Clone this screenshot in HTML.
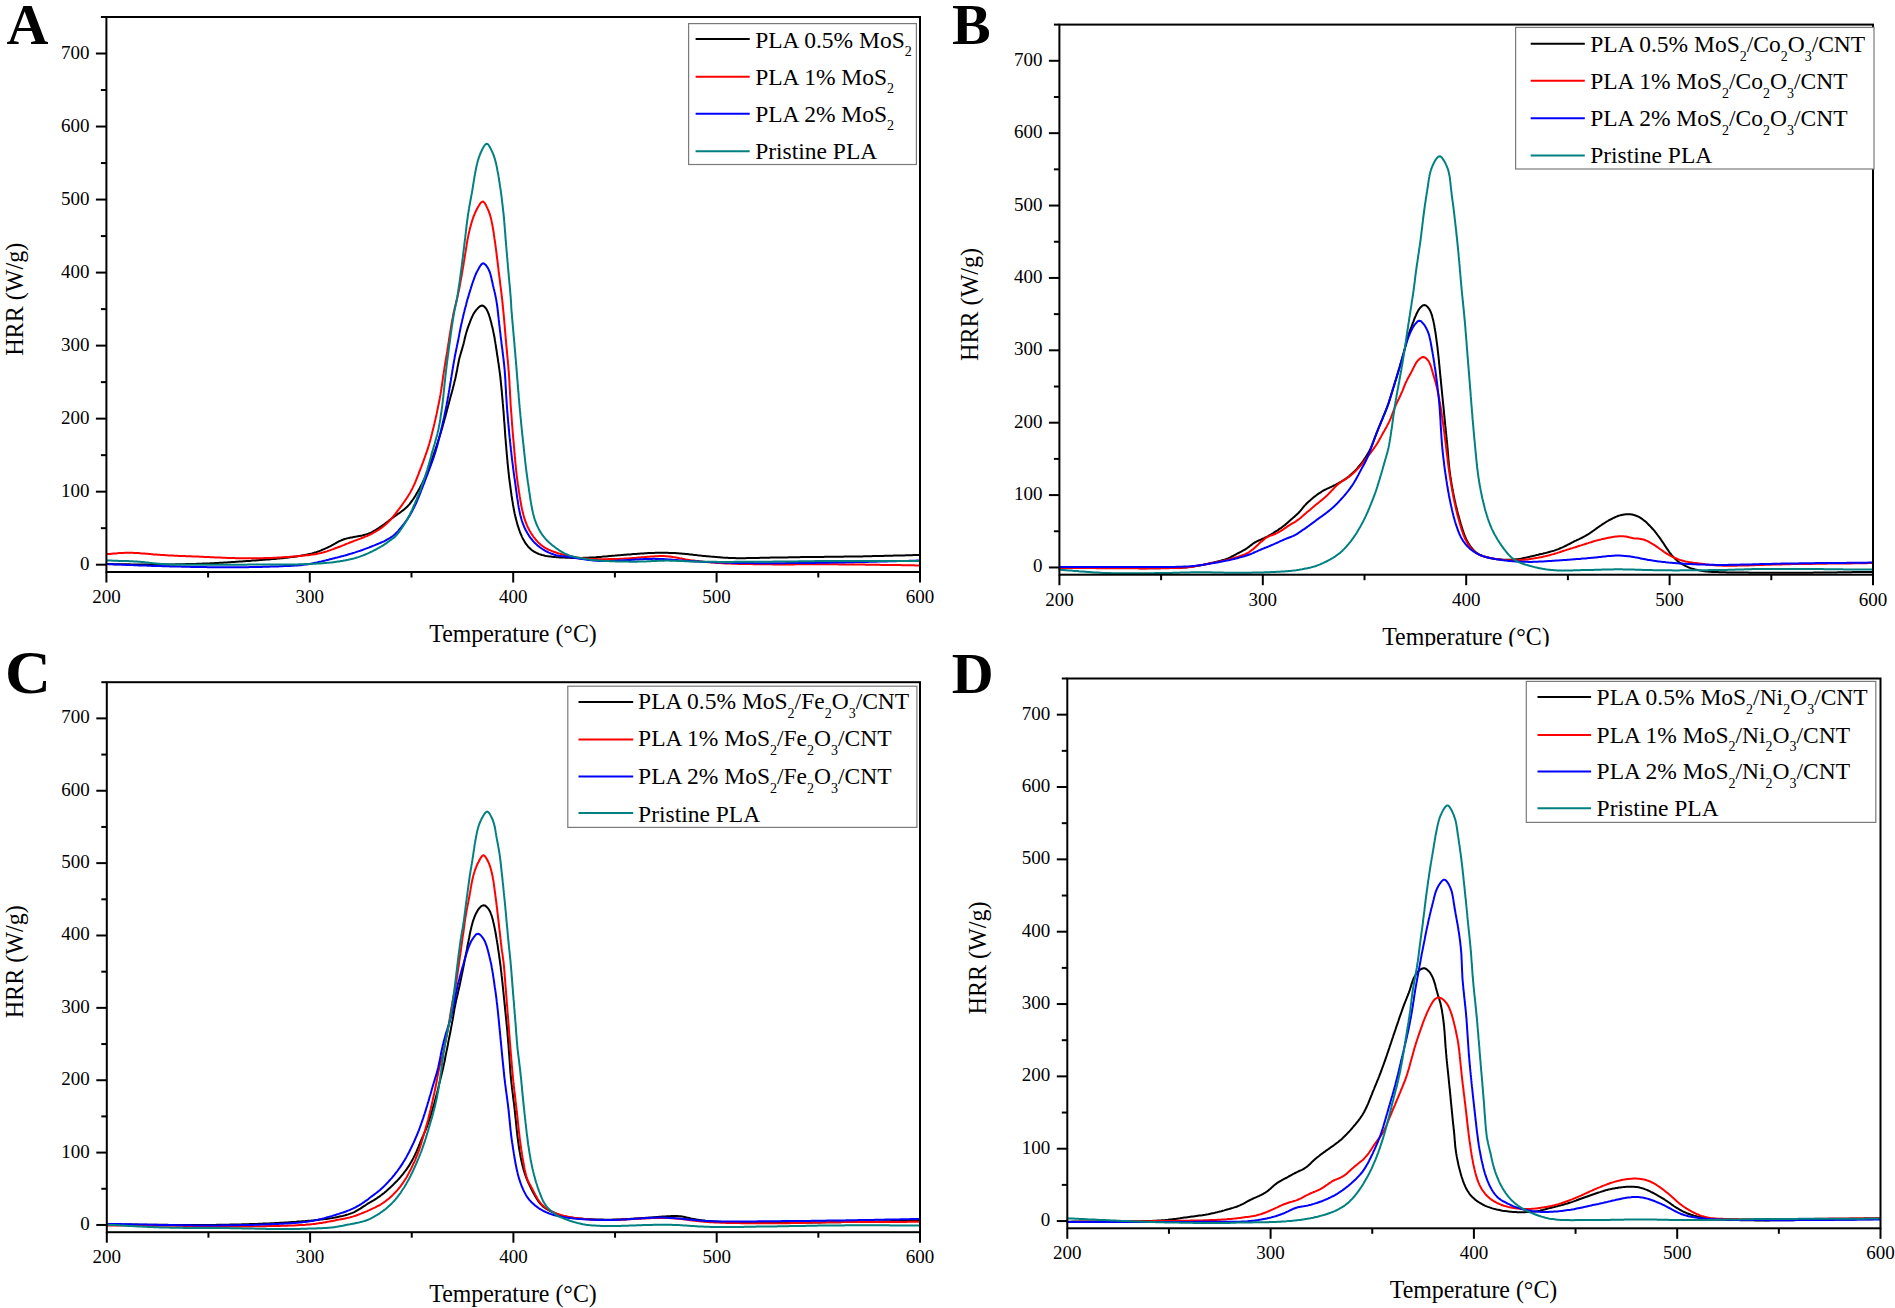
<!DOCTYPE html>
<html><head><meta charset="utf-8"><title>HRR curves</title>
<style>html,body{margin:0;padding:0;background:#fff;}svg{display:block;}</style></head><body>
<svg width="1895" height="1308" viewBox="0 0 1895 1308">
<rect width="1895" height="1308" fill="#fff"/>
<g fill="none" stroke-width="2" stroke-linejoin="round" stroke-linecap="round">
<path stroke="#000000" d="M107.1,564.1 108.6,564.1 110.1,564.1 111.6,564.1 113.1,564.2 114.6,564.2 116.1,564.2 117.6,564.2 119.1,564.2 120.6,564.2 122.1,564.3 123.6,564.3 125.1,564.3 126.6,564.3 128.1,564.3 129.6,564.3 131.1,564.4 132.6,564.4 134.1,564.4 135.6,564.4 137.1,564.4 138.6,564.4 140.1,564.5 141.6,564.5 143.1,564.5 144.6,564.5 146.1,564.5 147.6,564.5 149.1,564.5 150.6,564.5 152.1,564.5 153.6,564.5 155.1,564.5 156.6,564.5 158.1,564.5 159.6,564.5 161.1,564.5 162.6,564.5 164.1,564.5 165.6,564.5 167.1,564.5 168.6,564.4 170.1,564.4 171.6,564.4 173.1,564.4 174.6,564.4 176.1,564.3 177.6,564.3 179.1,564.3 180.6,564.3 182.1,564.2 183.6,564.2 185.1,564.2 186.6,564.1 188.1,564.1 189.6,564.0 191.1,564.0 192.6,564.0 194.1,563.9 195.6,563.9 197.1,563.8 198.6,563.8 200.1,563.7 201.6,563.7 203.1,563.6 204.6,563.6 206.1,563.5 207.6,563.4 209.1,563.4 210.6,563.3 212.1,563.2 213.6,563.2 215.1,563.1 216.6,563.0 218.1,562.9 219.6,562.8 221.1,562.8 222.6,562.7 224.1,562.6 225.6,562.5 227.1,562.4 228.6,562.3 230.1,562.2 231.6,562.1 233.1,562.0 234.6,561.9 236.1,561.8 237.6,561.7 239.1,561.6 240.6,561.5 242.1,561.4 243.5,561.3 245.0,561.2 246.5,561.1 248.0,561.0 249.5,560.9 251.0,560.8 252.5,560.6 254.0,560.5 255.5,560.4 257.0,560.3 258.5,560.2 260.0,560.1 261.5,560.0 263.0,559.8 264.5,559.7 266.0,559.6 267.5,559.5 269.0,559.4 270.5,559.3 272.0,559.1 273.5,559.0 275.0,558.9 276.5,558.8 277.9,558.6 279.4,558.5 280.9,558.3 282.4,558.2 283.9,558.0 285.4,557.8 286.9,557.7 288.4,557.5 289.9,557.3 291.4,557.1 292.8,556.9 294.3,556.7 295.8,556.5 297.3,556.3 298.8,556.0 300.3,555.8 301.7,555.5 303.2,555.3 304.7,555.0 306.2,554.7 307.6,554.4 309.1,554.1 310.6,553.7 312.0,553.4 313.5,553.0 314.9,552.5 316.3,552.1 317.7,551.6 319.2,551.1 320.6,550.6 321.9,550.0 323.3,549.4 324.7,548.8 326.1,548.2 327.4,547.6 328.8,546.9 330.1,546.3 331.4,545.6 332.8,544.8 334.1,544.1 335.4,543.4 336.7,542.6 338.0,541.9 339.3,541.2 340.7,540.6 342.0,540.0 343.4,539.5 344.8,539.0 346.3,538.6 347.7,538.3 349.2,537.9 350.6,537.6 352.1,537.4 353.6,537.1 355.1,536.8 356.5,536.6 358.0,536.3 359.5,536.0 361.0,535.7 362.4,535.4 363.9,535.0 365.3,534.6 366.8,534.2 368.2,533.7 369.5,533.2 370.9,532.6 372.3,531.9 373.6,531.2 374.9,530.5 376.2,529.7 377.4,528.9 378.7,528.1 379.9,527.2 381.2,526.4 382.4,525.5 383.6,524.7 384.8,523.8 386.0,522.9 387.2,522.0 388.4,521.1 389.6,520.1 390.8,519.2 392.0,518.3 393.2,517.4 394.4,516.5 395.6,515.6 396.8,514.8 398.0,513.9 399.3,513.1 400.5,512.2 401.7,511.3 402.9,510.4 404.1,509.5 405.2,508.5 406.3,507.5 407.4,506.5 408.4,505.4 409.4,504.3 410.3,503.1 411.2,501.9 412.1,500.7 412.9,499.5 413.8,498.2 414.6,496.9 415.4,495.7 416.1,494.4 416.9,493.1 417.7,491.8 418.4,490.5 419.1,489.2 419.8,487.9 420.5,486.5 421.2,485.2 421.9,483.9 422.6,482.5 423.2,481.2 423.8,479.8 424.5,478.4 425.1,477.1 425.7,475.7 426.2,474.3 426.8,472.9 427.4,471.5 427.9,470.1 428.5,468.7 429.0,467.3 429.6,465.9 430.1,464.5 430.6,463.1 431.1,461.7 431.6,460.3 432.1,458.9 432.6,457.5 433.1,456.1 433.6,454.6 434.1,453.2 434.6,451.8 435.1,450.4 435.5,449.0 436.0,447.5 436.5,446.1 436.9,444.7 437.4,443.3 437.9,441.8 438.3,440.4 438.8,439.0 439.2,437.5 439.7,436.1 440.1,434.7 440.6,433.2 441.0,431.8 441.4,430.4 441.9,428.9 442.3,427.5 442.7,426.1 443.1,424.6 443.5,423.2 443.9,421.7 444.3,420.3 444.7,418.8 445.1,417.4 445.5,415.9 445.9,414.5 446.3,413.0 446.7,411.6 447.0,410.1 447.4,408.7 447.8,407.2 448.2,405.8 448.6,404.3 449.0,402.9 449.3,401.4 449.7,400.0 450.1,398.5 450.5,397.1 450.9,395.6 451.3,394.2 451.7,392.7 452.1,391.3 452.5,389.8 452.9,388.4 453.2,386.9 453.6,385.5 454.0,384.0 454.3,382.6 454.7,381.1 455.0,379.7 455.4,378.2 455.7,376.7 456.0,375.3 456.3,373.8 456.6,372.3 456.9,370.8 457.2,369.4 457.4,367.9 457.7,366.4 458.0,365.0 458.3,363.5 458.6,362.0 458.9,360.5 459.2,359.1 459.6,357.6 460.0,356.2 460.4,354.7 460.8,353.3 461.2,351.9 461.7,350.4 462.1,349.0 462.5,347.6 462.9,346.1 463.3,344.7 463.7,343.2 464.0,341.8 464.4,340.3 464.7,338.8 465.0,337.4 465.4,335.9 465.8,334.5 466.2,333.0 466.6,331.6 467.1,330.2 467.5,328.7 468.0,327.3 468.5,325.9 469.0,324.5 469.6,323.1 470.1,321.7 470.6,320.3 471.2,318.9 471.8,317.5 472.4,316.2 473.0,314.8 473.8,313.5 474.5,312.3 475.4,311.1 476.3,309.9 477.3,308.8 478.3,307.7 479.4,306.7 480.7,305.9 482.1,305.5 483.5,306.0 484.7,307.0 485.7,308.1 486.5,309.3 487.2,310.6 487.8,311.9 488.4,313.3 488.9,314.7 489.3,316.1 489.8,317.5 490.2,319.0 490.6,320.4 491.0,321.9 491.4,323.3 491.7,324.8 492.1,326.2 492.5,327.7 492.8,329.1 493.1,330.6 493.4,332.1 493.7,333.5 494.0,335.0 494.3,336.5 494.6,338.0 494.8,339.5 495.0,340.9 495.3,342.4 495.5,343.9 495.8,345.4 496.0,346.9 496.2,348.3 496.4,349.8 496.7,351.3 496.9,352.8 497.1,354.3 497.3,355.8 497.6,357.2 497.8,358.7 498.0,360.2 498.2,361.7 498.5,363.2 498.7,364.7 498.9,366.1 499.1,367.6 499.3,369.1 499.5,370.6 499.7,372.1 499.9,373.6 500.1,375.1 500.3,376.6 500.4,378.0 500.6,379.5 500.7,381.0 500.9,382.5 501.0,384.0 501.2,385.5 501.3,387.0 501.5,388.5 501.6,390.0 501.8,391.5 501.9,393.0 502.0,394.5 502.2,396.0 502.3,397.5 502.4,399.0 502.6,400.4 502.7,401.9 502.8,403.4 503.0,404.9 503.1,406.4 503.2,407.9 503.3,409.4 503.5,410.9 503.6,412.4 503.7,413.9 503.8,415.4 503.9,416.9 504.0,418.4 504.1,419.9 504.2,421.4 504.4,422.9 504.5,424.4 504.6,425.9 504.7,427.4 504.8,428.9 504.9,430.4 505.0,431.9 505.1,433.4 505.2,434.9 505.3,436.3 505.4,437.8 505.6,439.3 505.7,440.8 505.8,442.3 505.9,443.8 506.1,445.3 506.2,446.8 506.3,448.3 506.4,449.8 506.6,451.3 506.7,452.8 506.8,454.3 507.0,455.8 507.1,457.3 507.2,458.8 507.4,460.3 507.5,461.8 507.6,463.3 507.8,464.7 507.9,466.2 508.1,467.7 508.2,469.2 508.4,470.7 508.5,472.2 508.7,473.7 508.9,475.2 509.0,476.7 509.2,478.2 509.4,479.7 509.6,481.2 509.8,482.6 510.0,484.1 510.2,485.6 510.4,487.1 510.6,488.6 510.8,490.1 511.0,491.6 511.2,493.0 511.4,494.5 511.6,496.0 511.9,497.5 512.1,499.0 512.3,500.5 512.6,501.9 512.8,503.4 513.0,504.9 513.3,506.4 513.6,507.9 513.8,509.3 514.1,510.8 514.4,512.3 514.7,513.7 515.1,515.2 515.4,516.7 515.7,518.1 516.1,519.6 516.5,521.0 516.9,522.5 517.3,523.9 517.7,525.4 518.2,526.8 518.6,528.2 519.1,529.6 519.6,531.0 520.1,532.5 520.7,533.8 521.3,535.2 521.9,536.6 522.5,537.9 523.2,539.3 524.0,540.6 524.7,541.9 525.5,543.1 526.4,544.3 527.3,545.5 528.2,546.7 529.3,547.8 530.3,548.8 531.4,549.8 532.6,550.7 533.8,551.5 535.1,552.2 536.4,552.9 537.8,553.5 539.2,554.1 540.6,554.5 542.0,555.0 543.5,555.3 544.9,555.7 546.4,556.0 547.9,556.2 549.4,556.4 550.8,556.6 552.3,556.8 553.8,556.9 555.3,557.1 556.8,557.2 558.3,557.3 559.8,557.4 561.3,557.4 562.8,557.5 564.3,557.6 565.8,557.7 567.3,557.7 568.8,557.8 570.3,557.8 571.8,557.9 573.3,557.9 574.8,557.9 576.3,557.9 577.8,557.9 579.3,557.9 580.8,557.9 582.3,557.9 583.8,557.8 585.3,557.8 586.8,557.7 588.3,557.7 589.8,557.6 591.3,557.5 592.8,557.5 594.3,557.4 595.8,557.3 597.3,557.1 598.8,557.0 600.3,556.9 601.8,556.8 603.3,556.6 604.8,556.5 606.2,556.4 607.7,556.2 609.2,556.1 610.7,556.0 612.2,555.8 613.7,555.7 615.2,555.6 616.7,555.4 618.2,555.3 619.7,555.2 621.2,555.1 622.7,554.9 624.2,554.8 625.7,554.7 627.2,554.6 628.7,554.5 630.2,554.4 631.7,554.2 633.2,554.1 634.7,554.0 636.1,553.9 637.6,553.8 639.1,553.7 640.6,553.6 642.1,553.5 643.6,553.4 645.1,553.3 646.6,553.2 648.1,553.1 649.6,553.0 651.1,553.0 652.6,552.9 654.1,552.9 655.6,552.8 657.1,552.8 658.6,552.8 660.1,552.8 661.6,552.7 663.1,552.7 664.6,552.8 666.1,552.8 667.6,552.8 669.1,552.9 670.6,552.9 672.1,553.0 673.6,553.0 675.1,553.1 676.6,553.2 678.1,553.3 679.6,553.4 681.1,553.5 682.6,553.7 684.1,553.8 685.6,554.0 687.1,554.1 688.6,554.3 690.0,554.5 691.5,554.6 693.0,554.8 694.5,555.0 696.0,555.1 697.5,555.3 699.0,555.4 700.5,555.6 702.0,555.7 703.5,555.9 705.0,556.0 706.5,556.2 708.0,556.3 709.5,556.4 710.9,556.6 712.4,556.7 713.9,556.8 715.4,557.0 716.9,557.1 718.4,557.2 719.9,557.3 721.4,557.4 722.9,557.6 724.4,557.7 725.9,557.7 727.4,557.8 728.9,557.9 730.4,558.0 731.9,558.0 733.4,558.1 734.9,558.1 736.4,558.2 737.9,558.2 739.4,558.2 740.9,558.2 742.4,558.2 743.9,558.2 745.4,558.2 746.9,558.1 748.4,558.1 749.9,558.1 751.4,558.0 752.9,558.0 754.4,558.0 755.9,557.9 757.4,557.9 758.9,557.9 760.4,557.8 761.9,557.8 763.4,557.8 764.9,557.7 766.4,557.7 767.9,557.7 769.4,557.7 770.9,557.6 772.4,557.6 773.9,557.6 775.4,557.6 776.9,557.5 778.4,557.5 779.9,557.5 781.4,557.5 782.9,557.4 784.4,557.4 785.9,557.4 787.4,557.4 788.9,557.3 790.4,557.3 791.9,557.3 793.4,557.3 794.9,557.2 796.4,557.2 797.9,557.2 799.4,557.2 800.9,557.1 802.4,557.1 803.9,557.1 805.4,557.1 806.9,557.0 808.4,557.0 809.9,557.0 811.4,557.0 812.9,557.0 814.4,557.0 815.9,556.9 817.4,556.9 818.9,556.9 820.4,556.9 821.9,556.9 823.4,556.9 824.9,556.8 826.4,556.8 827.9,556.8 829.4,556.8 830.9,556.8 832.4,556.8 833.9,556.8 835.4,556.7 836.9,556.7 838.4,556.7 839.9,556.7 841.4,556.7 842.9,556.7 844.4,556.6 845.9,556.6 847.4,556.6 848.9,556.6 850.4,556.6 851.9,556.5 853.4,556.5 854.9,556.5 856.4,556.5 857.9,556.4 859.4,556.4 860.9,556.4 862.4,556.4 863.9,556.3 865.4,556.3 866.9,556.3 868.4,556.2 869.9,556.2 871.4,556.2 872.9,556.1 874.4,556.1 875.9,556.1 877.4,556.0 878.9,556.0 880.4,555.9 881.9,555.9 883.4,555.9 884.9,555.8 886.4,555.8 887.9,555.8 889.4,555.7 890.9,555.7 892.4,555.7 893.9,555.6 895.4,555.6 896.9,555.5 898.4,555.5 899.9,555.5 901.4,555.4 902.9,555.4 904.4,555.4 905.9,555.3 907.4,555.3 908.9,555.2 910.4,555.2 911.9,555.2 913.4,555.1 914.9,555.1 916.4,555.1 917.9,555.0 918.9,555.0"/>
<path stroke="#ff0000" d="M107.1,554.1 108.6,554.0 110.1,553.9 111.6,553.7 113.1,553.6 114.6,553.5 116.1,553.4 117.6,553.2 119.1,553.1 120.6,553.0 122.1,552.9 123.6,552.9 125.1,552.8 126.6,552.8 128.0,552.8 129.5,552.8 131.0,552.8 132.5,552.8 134.0,552.9 135.5,553.0 137.0,553.1 138.5,553.1 140.0,553.2 141.5,553.4 143.0,553.5 144.5,553.6 146.0,553.7 147.5,553.8 149.0,554.0 150.5,554.1 152.0,554.2 153.5,554.4 155.0,554.5 156.5,554.6 158.0,554.7 159.5,554.8 161.0,554.9 162.5,555.0 164.0,555.1 165.5,555.2 167.0,555.3 168.5,555.4 170.0,555.4 171.5,555.5 173.0,555.6 174.4,555.7 175.9,555.7 177.4,555.8 178.9,555.9 180.4,555.9 181.9,556.0 183.4,556.0 184.9,556.1 186.4,556.2 187.9,556.2 189.4,556.3 190.9,556.3 192.4,556.4 193.9,556.5 195.4,556.5 196.9,556.6 198.4,556.6 199.9,556.7 201.4,556.8 202.9,556.8 204.4,556.9 205.9,557.0 207.4,557.1 208.9,557.1 210.4,557.2 211.9,557.3 213.4,557.3 214.9,557.4 216.4,557.5 217.9,557.5 219.4,557.6 220.9,557.6 222.4,557.7 223.9,557.8 225.4,557.8 226.9,557.9 228.4,557.9 229.9,558.0 231.4,558.0 232.9,558.1 234.4,558.1 235.9,558.2 237.4,558.2 238.9,558.2 240.4,558.3 241.9,558.3 243.4,558.3 244.9,558.3 246.4,558.3 247.9,558.3 249.4,558.3 250.9,558.3 252.4,558.3 253.9,558.3 255.4,558.3 256.9,558.3 258.4,558.3 259.9,558.2 261.4,558.2 262.9,558.2 264.4,558.1 265.9,558.1 267.4,558.1 268.9,558.0 270.4,557.9 271.9,557.9 273.4,557.8 274.9,557.7 276.4,557.7 277.9,557.6 279.4,557.5 280.9,557.4 282.4,557.3 283.9,557.2 285.4,557.1 286.9,557.0 288.4,556.9 289.9,556.8 291.4,556.7 292.9,556.6 294.4,556.5 295.9,556.4 297.3,556.2 298.8,556.1 300.3,555.9 301.8,555.8 303.3,555.6 304.8,555.5 306.3,555.3 307.8,555.2 309.3,555.0 310.8,554.8 312.3,554.6 313.7,554.4 315.2,554.2 316.7,553.9 318.2,553.6 319.6,553.3 321.1,553.0 322.6,552.6 324.0,552.2 325.4,551.8 326.9,551.4 328.3,550.9 329.7,550.4 331.1,549.9 332.5,549.4 333.9,548.8 335.3,548.3 336.7,547.8 338.1,547.2 339.5,546.7 340.9,546.2 342.3,545.6 343.7,545.1 345.1,544.5 346.5,543.9 347.9,543.4 349.3,542.8 350.7,542.3 352.1,541.7 353.5,541.2 354.9,540.6 356.3,540.1 357.7,539.6 359.1,539.1 360.5,538.6 361.9,538.0 363.3,537.5 364.7,536.9 366.1,536.4 367.5,535.8 368.8,535.1 370.2,534.5 371.5,533.8 372.8,533.1 374.1,532.4 375.4,531.6 376.7,530.9 378.0,530.1 379.3,529.3 380.5,528.5 381.7,527.6 383.0,526.7 384.1,525.8 385.3,524.8 386.4,523.8 387.5,522.8 388.5,521.8 389.6,520.7 390.6,519.6 391.6,518.4 392.5,517.3 393.5,516.1 394.4,515.0 395.4,513.8 396.3,512.6 397.2,511.4 398.1,510.2 399.0,509.0 399.9,507.8 400.8,506.6 401.7,505.4 402.5,504.2 403.4,503.0 404.3,501.7 405.1,500.5 406.0,499.2 406.8,498.0 407.6,496.7 408.4,495.5 409.2,494.2 410.0,492.9 410.7,491.6 411.4,490.3 412.1,489.0 412.8,487.6 413.4,486.3 414.1,484.9 414.7,483.5 415.3,482.2 415.8,480.8 416.4,479.4 417.0,478.0 417.5,476.6 418.1,475.2 418.6,473.8 419.1,472.4 419.7,471.0 420.2,469.6 420.7,468.2 421.3,466.8 421.8,465.4 422.3,464.0 422.9,462.6 423.4,461.2 423.9,459.8 424.4,458.4 424.9,457.0 425.4,455.5 425.9,454.1 426.4,452.7 426.9,451.3 427.4,449.9 427.9,448.4 428.3,447.0 428.7,445.6 429.2,444.1 429.6,442.7 430.0,441.3 430.4,439.8 430.8,438.4 431.1,436.9 431.5,435.5 431.9,434.0 432.2,432.5 432.6,431.1 433.0,429.6 433.3,428.2 433.7,426.7 434.0,425.3 434.4,423.8 434.7,422.3 435.0,420.9 435.4,419.4 435.7,417.9 436.0,416.5 436.4,415.0 436.7,413.6 437.0,412.1 437.3,410.6 437.6,409.2 437.9,407.7 438.2,406.2 438.5,404.7 438.8,403.3 439.1,401.8 439.4,400.3 439.7,398.9 439.9,397.4 440.2,395.9 440.5,394.4 440.7,392.9 441.0,391.5 441.2,390.0 441.4,388.5 441.6,387.0 441.9,385.5 442.1,384.0 442.3,382.6 442.5,381.1 442.7,379.6 442.9,378.1 443.1,376.6 443.3,375.1 443.6,373.7 443.8,372.2 444.0,370.7 444.3,369.2 444.5,367.7 444.7,366.2 445.0,364.8 445.2,363.3 445.5,361.8 445.7,360.3 446.0,358.8 446.2,357.4 446.4,355.9 446.7,354.4 446.9,352.9 447.2,351.4 447.4,350.0 447.6,348.5 447.9,347.0 448.1,345.5 448.3,344.0 448.6,342.5 448.8,341.1 449.0,339.6 449.2,338.1 449.5,336.6 449.7,335.1 449.9,333.7 450.2,332.2 450.4,330.7 450.7,329.2 450.9,327.7 451.2,326.3 451.4,324.8 451.7,323.3 451.9,321.8 452.2,320.3 452.5,318.9 452.8,317.4 453.0,315.9 453.3,314.5 453.6,313.0 453.9,311.5 454.3,310.0 454.6,308.6 454.9,307.1 455.3,305.7 455.7,304.2 456.0,302.8 456.4,301.3 456.8,299.8 457.1,298.4 457.5,296.9 457.8,295.5 458.1,294.0 458.4,292.5 458.8,291.1 459.1,289.6 459.3,288.1 459.6,286.7 459.9,285.2 460.2,283.7 460.4,282.2 460.7,280.8 461.0,279.3 461.2,277.8 461.5,276.3 461.8,274.9 462.0,273.4 462.3,271.9 462.5,270.4 462.8,268.9 463.0,267.5 463.3,266.0 463.5,264.5 463.7,263.0 464.0,261.5 464.2,260.1 464.5,258.6 464.7,257.1 464.9,255.6 465.2,254.1 465.4,252.6 465.7,251.2 465.9,249.7 466.1,248.2 466.4,246.7 466.6,245.2 466.8,243.8 467.1,242.3 467.3,240.8 467.6,239.3 467.9,237.9 468.2,236.4 468.5,234.9 468.8,233.4 469.1,232.0 469.5,230.5 469.8,229.1 470.2,227.6 470.6,226.2 471.0,224.7 471.4,223.3 471.8,221.8 472.3,220.4 472.7,219.0 473.2,217.6 473.7,216.2 474.3,214.8 474.9,213.4 475.5,212.0 476.1,210.7 476.8,209.3 477.5,208.0 478.2,206.7 479.0,205.5 479.7,204.2 480.6,203.0 481.7,201.9 483.1,201.6 484.3,202.5 485.1,203.8 485.9,205.1 486.5,206.4 487.2,207.7 487.8,209.1 488.4,210.4 488.9,211.8 489.4,213.2 489.9,214.6 490.3,216.1 490.7,217.5 491.1,219.0 491.4,220.4 491.7,221.9 492.0,223.4 492.3,224.8 492.6,226.3 492.8,227.8 493.1,229.3 493.3,230.8 493.6,232.2 493.8,233.7 494.0,235.2 494.2,236.7 494.4,238.2 494.7,239.7 494.9,241.1 495.1,242.6 495.3,244.1 495.5,245.6 495.7,247.1 495.9,248.6 496.1,250.1 496.3,251.6 496.5,253.0 496.6,254.5 496.8,256.0 497.0,257.5 497.2,259.0 497.4,260.5 497.6,262.0 497.7,263.5 497.9,265.0 498.1,266.4 498.3,267.9 498.5,269.4 498.6,270.9 498.8,272.4 499.0,273.9 499.2,275.4 499.4,276.9 499.6,278.3 499.8,279.8 500.0,281.3 500.1,282.8 500.3,284.3 500.5,285.8 500.7,287.3 500.9,288.8 501.1,290.3 501.2,291.7 501.4,293.2 501.6,294.7 501.7,296.2 501.9,297.7 502.1,299.2 502.3,300.7 502.4,302.2 502.6,303.7 502.7,305.2 502.9,306.7 503.0,308.2 503.2,309.6 503.3,311.1 503.5,312.6 503.6,314.1 503.8,315.6 503.9,317.1 504.0,318.6 504.2,320.1 504.3,321.6 504.4,323.1 504.6,324.6 504.7,326.1 504.8,327.6 504.9,329.1 505.1,330.6 505.2,332.1 505.3,333.6 505.4,335.0 505.6,336.5 505.7,338.0 505.8,339.5 506.0,341.0 506.1,342.5 506.2,344.0 506.4,345.5 506.5,347.0 506.6,348.5 506.8,350.0 506.9,351.5 507.1,353.0 507.2,354.5 507.3,356.0 507.5,357.5 507.6,358.9 507.8,360.4 507.9,361.9 508.0,363.4 508.2,364.9 508.3,366.4 508.4,367.9 508.5,369.4 508.7,370.9 508.8,372.4 508.9,373.9 509.0,375.4 509.1,376.9 509.2,378.4 509.3,379.9 509.4,381.4 509.5,382.9 509.5,384.4 509.6,385.9 509.7,387.4 509.8,388.9 509.9,390.4 510.0,391.9 510.0,393.4 510.1,394.9 510.2,396.4 510.3,397.9 510.4,399.4 510.5,400.9 510.5,402.4 510.6,403.8 510.7,405.3 510.8,406.8 510.9,408.3 511.0,409.8 511.1,411.3 511.3,412.8 511.4,414.3 511.5,415.8 511.6,417.3 511.7,418.8 511.8,420.3 511.9,421.8 512.0,423.3 512.1,424.8 512.3,426.3 512.4,427.8 512.5,429.3 512.6,430.8 512.7,432.3 512.9,433.8 513.0,435.3 513.1,436.8 513.2,438.3 513.4,439.7 513.5,441.2 513.6,442.7 513.8,444.2 513.9,445.7 514.0,447.2 514.2,448.7 514.3,450.2 514.4,451.7 514.5,453.2 514.7,454.7 514.8,456.2 514.9,457.7 515.1,459.2 515.2,460.7 515.3,462.2 515.5,463.7 515.6,465.2 515.8,466.6 515.9,468.1 516.1,469.6 516.2,471.1 516.4,472.6 516.6,474.1 516.7,475.6 516.9,477.1 517.1,478.6 517.3,480.1 517.5,481.5 517.7,483.0 517.9,484.5 518.2,486.0 518.4,487.5 518.6,489.0 518.8,490.5 519.0,491.9 519.3,493.4 519.5,494.9 519.7,496.4 520.0,497.9 520.2,499.3 520.4,500.8 520.7,502.3 521.0,503.8 521.2,505.3 521.5,506.7 521.8,508.2 522.1,509.7 522.5,511.1 522.8,512.6 523.2,514.0 523.6,515.5 524.0,516.9 524.4,518.4 524.9,519.8 525.4,521.2 525.9,522.6 526.4,524.0 527.0,525.4 527.6,526.7 528.3,528.1 528.9,529.4 529.6,530.8 530.4,532.1 531.1,533.3 532.0,534.6 532.8,535.8 533.7,537.1 534.6,538.2 535.5,539.4 536.5,540.5 537.5,541.6 538.6,542.7 539.7,543.7 540.8,544.7 542.0,545.6 543.2,546.5 544.4,547.3 545.7,548.1 547.0,548.8 548.3,549.5 549.7,550.1 551.0,550.7 552.4,551.3 553.8,551.8 555.3,552.3 556.7,552.8 558.1,553.2 559.5,553.6 561.0,554.0 562.4,554.4 563.9,554.8 565.3,555.2 566.8,555.5 568.3,555.9 569.7,556.2 571.2,556.5 572.7,556.8 574.1,557.0 575.6,557.3 577.1,557.5 578.6,557.7 580.1,557.9 581.6,558.1 583.1,558.3 584.5,558.4 586.0,558.5 587.5,558.7 589.0,558.8 590.5,558.9 592.0,559.0 593.5,559.0 595.0,559.1 596.5,559.1 598.0,559.2 599.5,559.2 601.0,559.2 602.5,559.2 604.0,559.2 605.5,559.2 607.0,559.2 608.5,559.1 610.0,559.1 611.5,559.1 613.0,559.0 614.5,559.0 616.0,559.0 617.5,558.9 619.0,558.9 620.5,558.8 622.0,558.8 623.5,558.7 625.0,558.6 626.5,558.5 628.0,558.5 629.5,558.3 631.0,558.2 632.5,558.1 634.0,558.0 635.5,557.9 637.0,557.7 638.5,557.6 640.0,557.5 641.5,557.3 643.0,557.2 644.5,557.1 645.9,556.9 647.4,556.8 648.9,556.7 650.4,556.6 651.9,556.5 653.4,556.4 654.9,556.3 656.4,556.2 657.9,556.2 659.4,556.1 660.9,556.1 662.4,556.1 663.9,556.1 665.4,556.2 666.9,556.3 668.4,556.4 669.9,556.5 671.4,556.7 672.9,557.0 674.3,557.2 675.8,557.5 677.3,557.8 678.7,558.1 680.2,558.4 681.7,558.6 683.2,558.9 684.6,559.2 686.1,559.5 687.6,559.7 689.1,559.9 690.6,560.2 692.0,560.4 693.5,560.5 695.0,560.7 696.5,560.9 698.0,561.1 699.5,561.3 701.0,561.4 702.5,561.6 704.0,561.7 705.5,561.9 707.0,562.0 708.4,562.2 709.9,562.3 711.4,562.4 712.9,562.6 714.4,562.7 715.9,562.8 717.4,562.9 718.9,563.0 720.4,563.1 721.9,563.2 723.4,563.3 724.9,563.4 726.4,563.4 727.9,563.5 729.4,563.6 730.9,563.6 732.4,563.7 733.9,563.8 735.4,563.8 736.9,563.8 738.4,563.9 739.9,563.9 741.4,564.0 742.9,564.0 744.4,564.0 745.9,564.0 747.4,564.1 748.9,564.1 750.4,564.1 751.9,564.1 753.4,564.2 754.9,564.2 756.4,564.2 757.9,564.2 759.4,564.2 760.9,564.2 762.4,564.3 763.9,564.3 765.4,564.3 766.9,564.3 768.4,564.3 769.9,564.3 771.4,564.3 772.9,564.4 774.4,564.4 775.9,564.4 777.4,564.4 778.9,564.4 780.4,564.4 781.9,564.4 783.4,564.4 784.9,564.4 786.4,564.4 787.9,564.4 789.4,564.4 790.9,564.4 792.4,564.4 793.9,564.4 795.4,564.3 796.9,564.3 798.4,564.3 799.9,564.3 801.4,564.3 802.9,564.3 804.4,564.3 805.9,564.3 807.4,564.3 808.9,564.3 810.4,564.3 811.9,564.3 813.4,564.3 814.9,564.3 816.4,564.3 817.9,564.3 819.4,564.3 820.9,564.3 822.4,564.3 823.9,564.3 825.4,564.3 826.9,564.3 828.4,564.3 829.9,564.3 831.4,564.3 832.9,564.3 834.4,564.3 835.9,564.3 837.4,564.3 838.9,564.4 840.4,564.4 841.9,564.4 843.4,564.4 844.9,564.4 846.4,564.4 847.9,564.4 849.4,564.5 850.9,564.5 852.4,564.5 853.9,564.5 855.4,564.5 856.9,564.5 858.4,564.6 859.9,564.6 861.4,564.6 862.9,564.6 864.4,564.6 865.9,564.7 867.4,564.7 868.9,564.7 870.4,564.7 871.9,564.7 873.4,564.8 874.9,564.8 876.4,564.8 877.9,564.8 879.4,564.8 880.9,564.9 882.4,564.9 883.9,564.9 885.4,564.9 886.9,564.9 888.4,565.0 889.9,565.0 891.4,565.0 892.9,565.0 894.4,565.1 895.9,565.1 897.4,565.1 898.9,565.1 900.4,565.1 901.9,565.2 903.4,565.2 904.9,565.2 906.4,565.2 907.9,565.3 909.4,565.3 910.9,565.3 912.4,565.3 913.9,565.3 915.4,565.4 916.9,565.4 918.4,565.4 918.9,565.4"/>
<path stroke="#0000ff" d="M107.1,564.1 108.6,564.2 110.1,564.2 111.6,564.3 113.1,564.3 114.6,564.4 116.1,564.5 117.6,564.5 119.1,564.6 120.6,564.6 122.1,564.7 123.6,564.8 125.1,564.8 126.6,564.9 128.1,564.9 129.6,565.0 131.1,565.1 132.6,565.1 134.1,565.2 135.6,565.2 137.1,565.3 138.6,565.4 140.1,565.4 141.6,565.5 143.1,565.5 144.6,565.6 146.1,565.6 147.6,565.7 149.1,565.7 150.6,565.8 152.1,565.9 153.6,565.9 155.1,565.9 156.6,566.0 158.1,566.0 159.6,566.1 161.1,566.1 162.6,566.2 164.1,566.2 165.6,566.3 167.1,566.3 168.6,566.3 170.1,566.4 171.6,566.4 173.1,566.5 174.6,566.5 176.1,566.5 177.6,566.6 179.1,566.6 180.6,566.6 182.1,566.7 183.6,566.7 185.1,566.7 186.6,566.8 188.1,566.8 189.6,566.8 191.1,566.9 192.6,566.9 194.1,566.9 195.6,567.0 197.1,567.0 198.6,567.0 200.1,567.0 201.6,567.1 203.1,567.1 204.6,567.1 206.1,567.1 207.6,567.2 209.1,567.2 210.6,567.2 212.1,567.2 213.6,567.2 215.1,567.2 216.6,567.3 218.1,567.3 219.6,567.3 221.1,567.3 222.6,567.3 224.1,567.3 225.6,567.3 227.1,567.3 228.6,567.3 230.1,567.3 231.6,567.3 233.1,567.3 234.6,567.3 236.1,567.3 237.6,567.3 239.1,567.2 240.6,567.2 242.1,567.2 243.6,567.2 245.1,567.2 246.6,567.2 248.1,567.2 249.6,567.1 251.1,567.1 252.6,567.1 254.1,567.1 255.6,567.0 257.1,567.0 258.6,567.0 260.1,566.9 261.6,566.9 263.1,566.8 264.6,566.8 266.1,566.8 267.6,566.7 269.1,566.7 270.6,566.6 272.1,566.6 273.6,566.5 275.1,566.5 276.6,566.4 278.1,566.4 279.6,566.3 281.1,566.3 282.6,566.2 284.1,566.1 285.6,566.1 287.1,566.0 288.6,566.0 290.1,565.9 291.6,565.8 293.1,565.7 294.6,565.6 296.1,565.5 297.6,565.4 299.1,565.3 300.6,565.2 302.1,565.0 303.5,564.8 305.0,564.6 306.5,564.4 308.0,564.2 309.5,564.0 311.0,563.7 312.4,563.4 313.9,563.1 315.4,562.8 316.8,562.5 318.3,562.1 319.8,561.8 321.2,561.5 322.7,561.1 324.1,560.7 325.6,560.4 327.0,560.0 328.5,559.7 329.9,559.3 331.4,558.9 332.9,558.6 334.3,558.2 335.8,557.8 337.2,557.5 338.7,557.1 340.1,556.7 341.6,556.3 343.0,556.0 344.5,555.6 345.9,555.2 347.4,554.8 348.8,554.3 350.2,553.9 351.7,553.5 353.1,553.0 354.5,552.6 356.0,552.1 357.4,551.6 358.8,551.1 360.2,550.7 361.7,550.2 363.1,549.7 364.5,549.1 365.9,548.6 367.3,548.1 368.7,547.6 370.1,547.0 371.5,546.5 372.9,545.9 374.3,545.4 375.7,544.8 377.1,544.2 378.4,543.7 379.8,543.1 381.2,542.5 382.6,541.9 383.9,541.3 385.3,540.6 386.6,539.9 387.9,539.2 389.2,538.5 390.5,537.7 391.7,536.9 392.9,536.0 394.1,535.0 395.2,534.0 396.2,533.0 397.3,531.9 398.3,530.8 399.2,529.6 400.2,528.5 401.2,527.3 402.1,526.2 403.1,525.0 404.0,523.8 404.9,522.6 405.8,521.4 406.6,520.2 407.5,519.0 408.3,517.7 409.1,516.4 409.9,515.2 410.6,513.9 411.4,512.6 412.1,511.2 412.8,509.9 413.5,508.6 414.1,507.2 414.8,505.9 415.4,504.5 416.1,503.2 416.7,501.8 417.3,500.4 417.8,499.0 418.4,497.6 419.0,496.3 419.5,494.9 420.1,493.5 420.6,492.1 421.1,490.7 421.7,489.3 422.2,487.9 422.8,486.5 423.3,485.1 423.9,483.7 424.4,482.3 424.9,480.9 425.5,479.5 426.0,478.1 426.5,476.7 427.1,475.3 427.6,473.9 428.1,472.5 428.7,471.0 429.2,469.6 429.7,468.2 430.2,466.8 430.8,465.4 431.3,464.0 431.8,462.6 432.3,461.2 432.8,459.8 433.3,458.4 433.8,456.9 434.2,455.5 434.7,454.1 435.2,452.7 435.6,451.2 436.0,449.8 436.4,448.3 436.9,446.9 437.3,445.5 437.6,444.0 438.0,442.6 438.4,441.1 438.8,439.6 439.1,438.2 439.5,436.7 439.9,435.3 440.2,433.8 440.6,432.4 440.9,430.9 441.3,429.4 441.6,428.0 442.0,426.5 442.3,425.1 442.6,423.6 443.0,422.1 443.3,420.7 443.6,419.2 444.0,417.7 444.3,416.3 444.6,414.8 444.9,413.3 445.2,411.9 445.5,410.4 445.8,408.9 446.1,407.5 446.4,406.0 446.7,404.5 446.9,403.0 447.2,401.6 447.5,400.1 447.7,398.6 448.0,397.1 448.3,395.7 448.5,394.2 448.8,392.7 449.0,391.2 449.3,389.7 449.5,388.3 449.8,386.8 450.0,385.3 450.3,383.8 450.5,382.3 450.8,380.9 451.0,379.4 451.2,377.9 451.5,376.4 451.7,374.9 452.0,373.5 452.2,372.0 452.4,370.5 452.7,369.0 452.9,367.5 453.2,366.1 453.4,364.6 453.7,363.1 453.9,361.6 454.2,360.1 454.5,358.7 454.7,357.2 455.0,355.7 455.3,354.2 455.6,352.8 455.9,351.3 456.2,349.8 456.5,348.4 456.8,346.9 457.1,345.4 457.4,344.0 457.7,342.5 458.0,341.0 458.3,339.5 458.6,338.1 458.9,336.6 459.2,335.1 459.4,333.6 459.7,332.2 460.0,330.7 460.3,329.2 460.6,327.8 460.9,326.3 461.2,324.8 461.5,323.4 461.9,321.9 462.2,320.4 462.5,319.0 462.9,317.5 463.2,316.0 463.6,314.6 463.9,313.1 464.3,311.7 464.6,310.2 465.0,308.8 465.4,307.3 465.8,305.9 466.2,304.4 466.5,303.0 466.9,301.5 467.3,300.1 467.7,298.6 468.2,297.2 468.6,295.7 469.0,294.3 469.4,292.9 469.9,291.4 470.3,290.0 470.8,288.6 471.2,287.1 471.7,285.7 472.1,284.3 472.6,282.8 473.1,281.4 473.6,280.0 474.1,278.6 474.6,277.2 475.1,275.8 475.7,274.4 476.3,273.0 477.0,271.7 477.7,270.4 478.4,269.1 479.1,267.8 479.9,266.5 480.7,265.3 481.6,264.1 482.9,263.3 484.3,263.7 485.5,264.7 486.4,265.9 487.3,267.1 488.0,268.3 488.7,269.6 489.3,271.0 489.9,272.4 490.3,273.8 490.7,275.2 491.1,276.7 491.4,278.1 491.7,279.6 492.0,281.1 492.4,282.5 492.7,284.0 493.0,285.5 493.4,286.9 493.7,288.4 494.1,289.8 494.4,291.3 494.8,292.8 495.1,294.2 495.4,295.7 495.7,297.1 496.0,298.6 496.3,300.1 496.5,301.6 496.8,303.1 497.0,304.5 497.2,306.0 497.4,307.5 497.6,309.0 497.7,310.5 497.9,312.0 498.1,313.5 498.2,315.0 498.4,316.5 498.6,317.9 498.7,319.4 498.9,320.9 499.1,322.4 499.2,323.9 499.4,325.4 499.6,326.9 499.8,328.4 499.9,329.9 500.1,331.4 500.3,332.9 500.5,334.3 500.6,335.8 500.8,337.3 501.0,338.8 501.2,340.3 501.4,341.8 501.5,343.3 501.7,344.8 501.9,346.3 502.1,347.7 502.3,349.2 502.5,350.7 502.6,352.2 502.8,353.7 503.0,355.2 503.2,356.7 503.4,358.2 503.6,359.7 503.7,361.2 503.9,362.6 504.1,364.1 504.2,365.6 504.4,367.1 504.5,368.6 504.7,370.1 504.8,371.6 504.9,373.1 505.0,374.6 505.1,376.1 505.2,377.6 505.3,379.1 505.4,380.6 505.5,382.1 505.5,383.6 505.6,385.1 505.7,386.6 505.8,388.1 505.9,389.6 506.0,391.1 506.0,392.6 506.1,394.1 506.2,395.6 506.3,397.1 506.4,398.6 506.5,400.1 506.6,401.6 506.7,403.1 506.8,404.6 506.9,406.0 507.0,407.5 507.1,409.0 507.2,410.5 507.3,412.0 507.5,413.5 507.6,415.0 507.7,416.5 507.8,418.0 508.0,419.5 508.1,421.0 508.2,422.5 508.4,424.0 508.5,425.5 508.6,427.0 508.8,428.5 508.9,430.0 509.1,431.5 509.2,433.0 509.3,434.5 509.5,435.9 509.6,437.4 509.8,438.9 510.0,440.4 510.1,441.9 510.3,443.4 510.4,444.9 510.6,446.4 510.8,447.9 510.9,449.4 511.1,450.9 511.3,452.4 511.4,453.8 511.6,455.3 511.8,456.8 511.9,458.3 512.1,459.8 512.3,461.3 512.5,462.8 512.7,464.3 512.9,465.8 513.0,467.3 513.2,468.7 513.4,470.2 513.6,471.7 513.8,473.2 514.0,474.7 514.2,476.2 514.4,477.7 514.7,479.1 514.9,480.6 515.1,482.1 515.3,483.6 515.5,485.1 515.7,486.6 515.9,488.1 516.1,489.5 516.3,491.0 516.5,492.5 516.7,494.0 516.9,495.5 517.1,497.0 517.3,498.5 517.6,500.0 517.8,501.4 518.0,502.9 518.2,504.4 518.5,505.9 518.7,507.4 519.0,508.8 519.3,510.3 519.6,511.8 519.9,513.2 520.2,514.7 520.6,516.2 521.0,517.6 521.4,519.1 521.8,520.5 522.3,521.9 522.8,523.3 523.3,524.7 523.9,526.1 524.5,527.5 525.1,528.8 525.8,530.2 526.5,531.5 527.2,532.8 528.0,534.1 528.8,535.4 529.6,536.6 530.5,537.8 531.4,539.0 532.4,540.2 533.3,541.3 534.3,542.4 535.4,543.4 536.5,544.5 537.6,545.5 538.8,546.4 539.9,547.3 541.2,548.2 542.4,549.0 543.7,549.8 544.9,550.6 546.3,551.3 547.6,552.0 548.9,552.6 550.3,553.2 551.7,553.8 553.1,554.3 554.5,554.8 556.0,555.2 557.4,555.5 558.9,555.8 560.4,556.0 561.8,556.2 563.3,556.3 564.8,556.5 566.3,556.7 567.8,556.8 569.3,557.0 570.8,557.2 572.3,557.5 573.7,557.7 575.2,557.9 576.7,558.2 578.2,558.4 579.7,558.7 581.1,558.9 582.6,559.1 584.1,559.3 585.6,559.5 587.1,559.7 588.6,559.9 590.1,560.1 591.5,560.3 593.0,560.4 594.5,560.6 596.0,560.7 597.5,560.8 599.0,560.9 600.5,561.0 602.0,561.0 603.5,561.0 605.0,561.1 606.5,561.1 608.0,561.0 609.5,561.0 611.0,561.0 612.5,560.9 614.0,560.9 615.5,560.8 617.0,560.7 618.5,560.6 620.0,560.6 621.5,560.5 623.0,560.4 624.5,560.3 626.0,560.2 627.5,560.1 629.0,560.0 630.5,559.9 632.0,559.8 633.5,559.7 635.0,559.6 636.5,559.5 638.0,559.4 639.5,559.3 641.0,559.2 642.5,559.2 644.0,559.1 645.5,559.0 647.0,559.0 648.5,558.9 650.0,558.9 651.5,558.9 653.0,558.8 654.5,558.8 656.0,558.9 657.5,558.9 659.0,558.9 660.5,559.0 662.0,559.1 663.5,559.1 665.0,559.2 666.5,559.3 668.0,559.4 669.5,559.5 670.9,559.6 672.4,559.7 673.9,559.9 675.4,560.0 676.9,560.1 678.4,560.2 679.9,560.4 681.4,560.5 682.9,560.6 684.4,560.7 685.9,560.8 687.4,560.9 688.9,561.0 690.4,561.1 691.9,561.2 693.4,561.3 694.9,561.4 696.4,561.5 697.9,561.5 699.4,561.6 700.9,561.7 702.4,561.8 703.9,561.9 705.4,561.9 706.9,562.0 708.4,562.1 709.9,562.1 711.4,562.2 712.9,562.3 714.4,562.3 715.9,562.4 717.4,562.4 718.9,562.5 720.4,562.6 721.9,562.6 723.4,562.6 724.9,562.7 726.4,562.7 727.9,562.8 729.4,562.8 730.9,562.8 732.4,562.9 733.9,562.9 735.4,562.9 736.9,563.0 738.4,563.0 739.9,563.0 741.4,563.0 742.9,563.0 744.4,563.1 745.9,563.1 747.4,563.1 748.9,563.1 750.4,563.1 751.9,563.1 753.4,563.1 754.9,563.2 756.4,563.2 757.9,563.2 759.4,563.2 760.9,563.2 762.4,563.2 763.9,563.2 765.4,563.2 766.9,563.2 768.4,563.2 769.9,563.2 771.4,563.2 772.9,563.2 774.4,563.2 775.9,563.2 777.4,563.2 778.9,563.2 780.4,563.2 781.9,563.2 783.4,563.2 784.9,563.2 786.4,563.1 787.9,563.1 789.4,563.1 790.9,563.1 792.4,563.1 793.9,563.1 795.4,563.1 796.9,563.1 798.4,563.1 799.9,563.0 801.4,563.0 802.9,563.0 804.4,563.0 805.9,563.0 807.4,563.0 808.9,562.9 810.4,562.9 811.9,562.9 813.4,562.9 814.9,562.9 816.4,562.8 817.9,562.8 819.4,562.8 820.9,562.8 822.4,562.8 823.9,562.7 825.4,562.7 826.9,562.7 828.4,562.7 829.9,562.6 831.4,562.6 832.9,562.6 834.4,562.6 835.9,562.5 837.4,562.5 838.9,562.5 840.4,562.5 841.9,562.4 843.4,562.4 844.9,562.4 846.4,562.3 847.9,562.3 849.4,562.3 850.9,562.2 852.4,562.2 853.9,562.2 855.4,562.1 856.9,562.1 858.4,562.1 859.9,562.0 861.4,562.0 862.9,562.0 864.4,561.9 865.9,561.9 867.4,561.9 868.9,561.8 870.4,561.8 871.9,561.8 873.4,561.7 874.9,561.7 876.4,561.7 877.9,561.6 879.4,561.6 880.9,561.5 882.4,561.5 883.9,561.5 885.4,561.4 886.9,561.4 888.4,561.3 889.9,561.3 891.4,561.3 892.9,561.2 894.4,561.2 895.9,561.2 897.4,561.1 898.9,561.1 900.4,561.0 901.9,561.0 903.4,561.0 904.9,560.9 906.4,560.9 907.9,560.9 909.4,560.8 910.9,560.8 912.4,560.8 913.9,560.7 915.4,560.7 916.9,560.6 918.4,560.6 918.9,560.6"/>
<path stroke="#008080" d="M107.1,560.5 108.6,560.5 110.1,560.6 111.6,560.6 113.1,560.7 114.6,560.7 116.1,560.8 117.6,560.8 119.1,560.9 120.6,560.9 122.1,561.0 123.6,561.0 125.1,561.0 126.6,561.1 128.1,561.1 129.6,561.2 131.1,561.3 132.6,561.3 134.1,561.4 135.6,561.5 137.1,561.6 138.6,561.7 140.1,561.8 141.6,561.9 143.1,562.0 144.6,562.2 146.0,562.4 147.5,562.5 149.0,562.7 150.5,562.9 152.0,563.1 153.5,563.2 155.0,563.4 156.5,563.5 158.0,563.7 159.5,563.8 161.0,563.9 162.5,564.0 164.0,564.1 165.5,564.2 167.0,564.2 168.5,564.3 170.0,564.4 171.5,564.4 173.0,564.4 174.5,564.5 176.0,564.5 177.5,564.6 179.0,564.6 180.5,564.6 182.0,564.6 183.5,564.7 185.0,564.7 186.5,564.7 188.0,564.7 189.5,564.7 191.0,564.7 192.5,564.7 194.0,564.8 195.5,564.8 197.0,564.8 198.5,564.8 200.0,564.8 201.5,564.8 203.0,564.8 204.5,564.8 206.0,564.8 207.5,564.8 209.0,564.8 210.5,564.8 212.0,564.8 213.5,564.8 215.0,564.8 216.5,564.8 218.0,564.8 219.5,564.8 221.0,564.8 222.5,564.8 224.0,564.8 225.5,564.8 227.0,564.7 228.5,564.7 230.0,564.7 231.5,564.7 233.0,564.7 234.5,564.7 236.0,564.7 237.5,564.7 239.0,564.7 240.5,564.7 242.0,564.7 243.5,564.7 245.0,564.7 246.5,564.7 248.0,564.6 249.5,564.6 251.0,564.6 252.5,564.6 254.0,564.6 255.5,564.6 257.0,564.6 258.5,564.6 260.0,564.6 261.5,564.6 263.0,564.6 264.5,564.6 266.0,564.6 267.5,564.6 269.0,564.6 270.5,564.6 272.0,564.6 273.5,564.6 275.0,564.6 276.5,564.6 278.0,564.6 279.5,564.6 281.0,564.6 282.5,564.6 284.0,564.6 285.5,564.5 287.0,564.5 288.5,564.5 290.0,564.5 291.5,564.5 293.0,564.5 294.5,564.4 296.0,564.4 297.5,564.4 299.0,564.3 300.5,564.3 302.0,564.2 303.5,564.2 305.0,564.1 306.5,564.1 308.0,564.0 309.5,563.9 311.0,563.9 312.5,563.8 314.0,563.7 315.5,563.7 317.0,563.6 318.5,563.5 320.0,563.4 321.5,563.3 322.9,563.2 324.4,563.1 325.9,563.0 327.4,562.8 328.9,562.7 330.4,562.6 331.9,562.4 333.4,562.2 334.9,562.0 336.4,561.8 337.9,561.6 339.3,561.4 340.8,561.1 342.3,560.9 343.8,560.6 345.3,560.4 346.7,560.1 348.2,559.8 349.7,559.4 351.1,559.1 352.6,558.7 354.0,558.4 355.5,558.0 356.9,557.5 358.3,557.1 359.8,556.6 361.2,556.1 362.6,555.6 364.0,555.0 365.4,554.5 366.7,553.9 368.1,553.3 369.5,552.7 370.8,552.0 372.2,551.4 373.5,550.7 374.9,550.0 376.2,549.3 377.5,548.6 378.8,547.9 380.1,547.1 381.4,546.4 382.7,545.6 383.9,544.8 385.2,543.9 386.4,543.1 387.6,542.2 388.8,541.4 390.0,540.5 391.3,539.6 392.4,538.8 393.6,537.9 394.7,536.9 395.8,535.9 396.8,534.8 397.7,533.6 398.7,532.5 399.6,531.3 400.4,530.0 401.3,528.8 402.1,527.6 403.0,526.3 403.8,525.1 404.6,523.8 405.4,522.5 406.2,521.3 406.9,520.0 407.7,518.7 408.4,517.3 409.1,516.0 409.8,514.7 410.4,513.3 411.1,512.0 411.7,510.6 412.3,509.3 412.9,507.9 413.5,506.5 414.1,505.1 414.7,503.8 415.3,502.4 415.9,501.0 416.5,499.6 417.0,498.2 417.6,496.8 418.2,495.4 418.7,494.1 419.3,492.7 419.8,491.3 420.4,489.9 420.9,488.5 421.4,487.0 421.9,485.6 422.4,484.2 422.9,482.8 423.4,481.4 423.9,480.0 424.4,478.6 424.9,477.1 425.3,475.7 425.8,474.3 426.3,472.9 426.7,471.4 427.2,470.0 427.6,468.6 428.0,467.1 428.5,465.7 428.9,464.2 429.3,462.8 429.7,461.4 430.1,459.9 430.5,458.5 430.9,457.0 431.2,455.6 431.6,454.1 432.0,452.7 432.4,451.2 432.9,449.8 433.3,448.3 433.7,446.9 434.1,445.5 434.6,444.0 435.0,442.6 435.4,441.1 435.8,439.7 436.2,438.3 436.6,436.8 437.0,435.4 437.4,433.9 437.7,432.4 438.0,431.0 438.4,429.5 438.7,428.0 438.9,426.6 439.2,425.1 439.5,423.6 439.8,422.2 440.0,420.7 440.3,419.2 440.5,417.7 440.7,416.2 440.9,414.7 441.2,413.3 441.4,411.8 441.6,410.3 441.8,408.8 442.0,407.3 442.2,405.8 442.4,404.3 442.6,402.9 442.8,401.4 442.9,399.9 443.1,398.4 443.3,396.9 443.4,395.4 443.6,393.9 443.7,392.4 443.9,390.9 444.0,389.4 444.2,387.9 444.3,386.4 444.5,385.0 444.6,383.5 444.8,382.0 445.0,380.5 445.1,379.0 445.3,377.5 445.4,376.0 445.6,374.5 445.8,373.0 445.9,371.5 446.1,370.0 446.3,368.5 446.5,367.1 446.6,365.6 446.8,364.1 447.0,362.6 447.2,361.1 447.4,359.6 447.6,358.1 447.8,356.6 448.0,355.2 448.2,353.7 448.4,352.2 448.6,350.7 448.8,349.2 449.0,347.7 449.2,346.2 449.4,344.7 449.6,343.3 449.8,341.8 450.0,340.3 450.2,338.8 450.4,337.3 450.6,335.8 450.8,334.3 451.0,332.9 451.2,331.4 451.4,329.9 451.6,328.4 451.8,326.9 452.1,325.4 452.3,323.9 452.5,322.5 452.7,321.0 452.9,319.5 453.2,318.0 453.4,316.5 453.7,315.1 453.9,313.6 454.2,312.1 454.5,310.6 454.8,309.2 455.1,307.7 455.4,306.2 455.7,304.8 456.1,303.3 456.4,301.8 456.6,300.3 456.9,298.9 457.2,297.4 457.4,295.9 457.7,294.4 457.9,293.0 458.2,291.5 458.4,290.0 458.6,288.5 458.8,287.0 459.0,285.5 459.3,284.1 459.5,282.6 459.7,281.1 459.9,279.6 460.1,278.1 460.3,276.6 460.5,275.1 460.7,273.7 460.9,272.2 461.1,270.7 461.3,269.2 461.5,267.7 461.7,266.2 461.9,264.7 462.1,263.2 462.2,261.8 462.4,260.3 462.6,258.8 462.8,257.3 463.0,255.8 463.2,254.3 463.3,252.8 463.5,251.3 463.7,249.8 463.9,248.3 464.1,246.9 464.2,245.4 464.4,243.9 464.6,242.4 464.8,240.9 465.0,239.4 465.2,237.9 465.3,236.4 465.5,234.9 465.7,233.5 465.9,232.0 466.0,230.5 466.2,229.0 466.4,227.5 466.6,226.0 466.7,224.5 466.9,223.0 467.1,221.5 467.3,220.1 467.5,218.6 467.7,217.1 467.9,215.6 468.1,214.1 468.4,212.6 468.6,211.1 468.8,209.7 469.1,208.2 469.3,206.7 469.6,205.2 469.9,203.8 470.1,202.3 470.4,200.8 470.7,199.3 471.0,197.8 471.2,196.4 471.5,194.9 471.8,193.4 472.0,191.9 472.3,190.5 472.5,189.0 472.8,187.5 473.0,186.0 473.2,184.5 473.5,183.1 473.7,181.6 473.9,180.1 474.2,178.6 474.4,177.1 474.7,175.7 475.0,174.2 475.2,172.7 475.5,171.2 475.8,169.8 476.1,168.3 476.4,166.8 476.7,165.4 477.1,163.9 477.4,162.4 477.8,161.0 478.2,159.6 478.7,158.1 479.2,156.7 479.7,155.3 480.2,153.9 480.8,152.5 481.4,151.2 482.1,149.8 482.7,148.5 483.4,147.2 484.2,146.0 485.1,144.7 486.3,143.8 487.7,144.1 488.7,145.2 489.5,146.5 490.2,147.8 490.9,149.1 491.5,150.4 492.2,151.8 492.8,153.2 493.3,154.5 493.9,155.9 494.3,157.4 494.8,158.8 495.2,160.2 495.6,161.7 495.9,163.1 496.3,164.6 496.6,166.1 496.9,167.5 497.2,169.0 497.4,170.5 497.7,171.9 498.0,173.4 498.3,174.9 498.5,176.4 498.8,177.9 499.0,179.3 499.2,180.8 499.5,182.3 499.7,183.8 499.9,185.3 500.1,186.7 500.4,188.2 500.6,189.7 500.8,191.2 501.0,192.7 501.2,194.2 501.4,195.7 501.6,197.2 501.8,198.6 502.0,200.1 502.1,201.6 502.3,203.1 502.5,204.6 502.7,206.1 502.8,207.6 503.0,209.1 503.2,210.6 503.3,212.1 503.5,213.5 503.6,215.0 503.8,216.5 503.9,218.0 504.1,219.5 504.2,221.0 504.3,222.5 504.4,224.0 504.6,225.5 504.7,227.0 504.8,228.5 504.9,230.0 505.0,231.5 505.2,233.0 505.3,234.5 505.4,236.0 505.5,237.5 505.6,239.0 505.7,240.5 505.9,241.9 506.0,243.4 506.1,244.9 506.2,246.4 506.4,247.9 506.5,249.4 506.6,250.9 506.8,252.4 506.9,253.9 507.0,255.4 507.1,256.9 507.3,258.4 507.4,259.9 507.5,261.4 507.7,262.9 507.8,264.4 507.9,265.9 508.0,267.4 508.2,268.9 508.3,270.3 508.4,271.8 508.6,273.3 508.7,274.8 508.8,276.3 509.0,277.8 509.1,279.3 509.2,280.8 509.4,282.3 509.5,283.8 509.7,285.3 509.8,286.8 509.9,288.3 510.1,289.8 510.2,291.3 510.3,292.8 510.4,294.3 510.6,295.8 510.7,297.2 510.8,298.7 510.9,300.2 511.0,301.7 511.1,303.2 511.2,304.7 511.2,306.2 511.3,307.7 511.4,309.2 511.5,310.7 511.6,312.2 511.8,313.7 511.9,315.2 512.0,316.7 512.1,318.2 512.3,319.7 512.4,321.2 512.5,322.7 512.7,324.2 512.8,325.7 512.9,327.2 513.1,328.7 513.2,330.2 513.3,331.7 513.5,333.1 513.6,334.6 513.7,336.1 513.9,337.6 514.0,339.1 514.1,340.6 514.3,342.1 514.4,343.6 514.5,345.1 514.6,346.6 514.8,348.1 514.9,349.6 515.0,351.1 515.2,352.6 515.3,354.1 515.4,355.6 515.5,357.1 515.7,358.6 515.8,360.0 515.9,361.5 516.0,363.0 516.2,364.5 516.3,366.0 516.4,367.5 516.5,369.0 516.7,370.5 516.8,372.0 516.9,373.5 517.0,375.0 517.1,376.5 517.2,378.0 517.4,379.5 517.5,381.0 517.6,382.5 517.7,384.0 517.8,385.5 518.0,387.0 518.1,388.5 518.2,390.0 518.3,391.5 518.5,392.9 518.6,394.4 518.7,395.9 518.8,397.4 519.0,398.9 519.1,400.4 519.2,401.9 519.3,403.4 519.5,404.9 519.6,406.4 519.7,407.9 519.9,409.4 520.0,410.9 520.2,412.4 520.3,413.9 520.4,415.4 520.6,416.9 520.7,418.4 520.9,419.8 521.0,421.3 521.1,422.8 521.3,424.3 521.4,425.8 521.6,427.3 521.7,428.8 521.9,430.3 522.0,431.8 522.2,433.3 522.3,434.8 522.5,436.3 522.7,437.8 522.8,439.3 523.0,440.7 523.1,442.2 523.3,443.7 523.5,445.2 523.6,446.7 523.8,448.2 523.9,449.7 524.1,451.2 524.3,452.7 524.4,454.2 524.6,455.7 524.8,457.1 524.9,458.6 525.1,460.1 525.2,461.6 525.4,463.1 525.6,464.6 525.8,466.1 525.9,467.6 526.1,469.1 526.3,470.6 526.5,472.0 526.7,473.5 526.9,475.0 527.1,476.5 527.3,478.0 527.5,479.5 527.7,481.0 527.9,482.5 528.2,483.9 528.4,485.4 528.6,486.9 528.8,488.4 529.0,489.9 529.2,491.4 529.5,492.8 529.7,494.3 529.9,495.8 530.1,497.3 530.3,498.8 530.6,500.3 530.8,501.7 531.1,503.2 531.3,504.7 531.6,506.2 531.9,507.7 532.1,509.1 532.4,510.6 532.8,512.1 533.1,513.5 533.5,515.0 533.9,516.4 534.3,517.9 534.7,519.3 535.2,520.7 535.7,522.1 536.2,523.5 536.8,524.9 537.4,526.3 538.1,527.6 538.7,528.9 539.5,530.3 540.2,531.6 541.0,532.8 541.8,534.1 542.7,535.3 543.6,536.5 544.5,537.7 545.5,538.8 546.5,539.9 547.5,541.0 548.6,542.0 549.7,543.0 550.9,544.0 552.0,544.9 553.2,545.9 554.4,546.8 555.6,547.7 556.8,548.6 558.0,549.4 559.2,550.3 560.5,551.1 561.8,551.9 563.1,552.6 564.4,553.3 565.7,553.9 567.1,554.5 568.5,555.1 569.9,555.6 571.3,556.0 572.8,556.4 574.2,556.8 575.7,557.1 577.1,557.5 578.6,557.8 580.1,558.1 581.6,558.3 583.0,558.6 584.5,558.8 586.0,559.1 587.5,559.3 589.0,559.5 590.5,559.7 591.9,559.9 593.4,560.0 594.9,560.2 596.4,560.3 597.9,560.4 599.4,560.6 600.9,560.7 602.4,560.8 603.9,560.9 605.4,560.9 606.9,561.0 608.4,561.1 609.9,561.2 611.4,561.2 612.9,561.3 614.4,561.3 615.9,561.4 617.4,561.4 618.9,561.5 620.4,561.5 621.9,561.5 623.4,561.6 624.9,561.6 626.4,561.6 627.9,561.6 629.4,561.7 630.9,561.7 632.4,561.7 633.9,561.7 635.4,561.7 636.9,561.7 638.4,561.6 639.9,561.6 641.4,561.5 642.9,561.5 644.4,561.4 645.9,561.4 647.4,561.3 648.9,561.2 650.4,561.2 651.9,561.1 653.4,561.0 654.9,560.9 656.4,560.9 657.9,560.8 659.4,560.8 660.9,560.7 662.4,560.7 663.9,560.7 665.4,560.6 666.9,560.6 668.4,560.6 669.9,560.7 671.4,560.7 672.9,560.7 674.4,560.8 675.9,560.8 677.4,560.9 678.9,560.9 680.4,561.0 681.9,561.1 683.4,561.1 684.9,561.2 686.4,561.3 687.9,561.3 689.4,561.4 690.9,561.4 692.4,561.5 693.9,561.5 695.4,561.6 696.9,561.6 698.4,561.7 699.9,561.7 701.4,561.7 702.9,561.7 704.4,561.8 705.9,561.8 707.4,561.8 708.9,561.8 710.4,561.8 711.9,561.8 713.4,561.8 714.9,561.8 716.4,561.8 717.9,561.9 719.4,561.9 720.9,561.9 722.4,561.9 723.9,561.9 725.4,561.9 726.9,561.9 728.4,561.9 729.9,561.9 731.4,561.9 732.9,561.9 734.4,561.8 735.9,561.8 737.4,561.8 738.9,561.8 740.4,561.8 741.9,561.8 743.4,561.8 744.9,561.8 746.4,561.8 747.9,561.8 749.4,561.8 750.9,561.8 752.4,561.8 753.9,561.8 755.4,561.8 756.9,561.7 758.4,561.7 759.9,561.7 761.4,561.7 762.9,561.7 764.4,561.7 765.9,561.7 767.4,561.7 768.9,561.7 770.4,561.7 771.9,561.7 773.4,561.6 774.9,561.6 776.4,561.6 777.9,561.6 779.4,561.6 780.9,561.6 782.4,561.6 783.9,561.5 785.4,561.5 786.9,561.5 788.4,561.5 789.9,561.5 791.4,561.4 792.9,561.4 794.4,561.4 795.9,561.4 797.4,561.4 798.9,561.3 800.4,561.3 801.9,561.3 803.4,561.3 804.9,561.3 806.4,561.3 807.9,561.2 809.4,561.2 810.9,561.2 812.4,561.2 813.9,561.2 815.4,561.1 816.9,561.1 818.4,561.1 819.9,561.1 821.4,561.1 822.9,561.1 824.4,561.1 825.9,561.0 827.4,561.0 828.9,561.0 830.4,561.0 831.9,561.0 833.4,561.0 834.9,561.0 836.4,561.0 837.9,561.0 839.4,561.0 840.9,561.0 842.4,561.0 843.9,561.0 845.4,561.0 846.9,561.0 848.4,560.9 849.9,560.9 851.4,560.9 852.9,560.9 854.4,560.9 855.9,560.9 857.4,560.9 858.9,560.9 860.4,560.9 861.9,560.9 863.4,560.9 864.9,560.9 866.4,560.9 867.9,560.9 869.4,560.9 870.9,560.9 872.4,560.9 873.9,560.9 875.4,560.9 876.9,560.9 878.4,561.0 879.9,561.0 881.4,561.0 882.9,561.0 884.4,561.0 885.9,561.0 887.4,561.0 888.9,561.0 890.4,561.0 891.9,561.0 893.4,561.0 894.9,561.0 896.4,561.0 897.9,561.0 899.4,561.0 900.9,561.0 902.4,561.0 903.9,561.0 905.4,561.0 906.9,561.0 908.4,561.0 909.9,561.0 911.4,561.0 912.9,561.0 914.4,561.0 915.9,561.0 917.4,561.0 918.9,561.0"/>
</g>
<g stroke="#000" stroke-width="2.00" fill="none" stroke-linecap="square">
<rect x="106.40" y="17.00" width="813.60" height="555.00"/>
<line x1="106.40" y1="572.00" x2="106.40" y2="582.50" stroke-linecap="butt"/>
<line x1="208.10" y1="572.00" x2="208.10" y2="577.50" stroke-linecap="butt"/>
<line x1="309.80" y1="572.00" x2="309.80" y2="582.50" stroke-linecap="butt"/>
<line x1="411.50" y1="572.00" x2="411.50" y2="577.50" stroke-linecap="butt"/>
<line x1="513.20" y1="572.00" x2="513.20" y2="582.50" stroke-linecap="butt"/>
<line x1="614.90" y1="572.00" x2="614.90" y2="577.50" stroke-linecap="butt"/>
<line x1="716.60" y1="572.00" x2="716.60" y2="582.50" stroke-linecap="butt"/>
<line x1="818.30" y1="572.00" x2="818.30" y2="577.50" stroke-linecap="butt"/>
<line x1="920.00" y1="572.00" x2="920.00" y2="582.50" stroke-linecap="butt"/>
<line x1="106.40" y1="564.70" x2="95.90" y2="564.70" stroke-linecap="butt"/>
<line x1="106.40" y1="528.18" x2="100.90" y2="528.18" stroke-linecap="butt"/>
<line x1="106.40" y1="491.67" x2="95.90" y2="491.67" stroke-linecap="butt"/>
<line x1="106.40" y1="455.16" x2="100.90" y2="455.16" stroke-linecap="butt"/>
<line x1="106.40" y1="418.64" x2="95.90" y2="418.64" stroke-linecap="butt"/>
<line x1="106.40" y1="382.13" x2="100.90" y2="382.13" stroke-linecap="butt"/>
<line x1="106.40" y1="345.62" x2="95.90" y2="345.62" stroke-linecap="butt"/>
<line x1="106.40" y1="309.11" x2="100.90" y2="309.11" stroke-linecap="butt"/>
<line x1="106.40" y1="272.59" x2="95.90" y2="272.59" stroke-linecap="butt"/>
<line x1="106.40" y1="236.08" x2="100.90" y2="236.08" stroke-linecap="butt"/>
<line x1="106.40" y1="199.57" x2="95.90" y2="199.57" stroke-linecap="butt"/>
<line x1="106.40" y1="163.05" x2="100.90" y2="163.05" stroke-linecap="butt"/>
<line x1="106.40" y1="126.54" x2="95.90" y2="126.54" stroke-linecap="butt"/>
<line x1="106.40" y1="90.03" x2="100.90" y2="90.03" stroke-linecap="butt"/>
<line x1="106.40" y1="53.51" x2="95.90" y2="53.51" stroke-linecap="butt"/>
<line x1="106.40" y1="17.00" x2="100.90" y2="17.00" stroke-linecap="butt"/>
</g>
<g font-family='"Liberation Serif", "Times New Roman", serif' font-size="19" fill="#000">
<text x="106.40" y="603.00" text-anchor="middle">200</text>
<text x="309.80" y="603.00" text-anchor="middle">300</text>
<text x="513.20" y="603.00" text-anchor="middle">400</text>
<text x="716.60" y="603.00" text-anchor="middle">500</text>
<text x="920.00" y="603.00" text-anchor="middle">600</text>
<text x="89.40" y="569.70" text-anchor="end">0</text>
<text x="89.40" y="496.67" text-anchor="end">100</text>
<text x="89.40" y="423.64" text-anchor="end">200</text>
<text x="89.40" y="350.62" text-anchor="end">300</text>
<text x="89.40" y="277.59" text-anchor="end">400</text>
<text x="89.40" y="204.57" text-anchor="end">500</text>
<text x="89.40" y="131.54" text-anchor="end">600</text>
<text x="89.40" y="58.51" text-anchor="end">700</text>
</g>
<text font-family='"Liberation Serif", "Times New Roman", serif' font-size="25" text-anchor="middle" textLength="113.0" lengthAdjust="spacingAndGlyphs" transform="translate(22.50,299.30) rotate(-90)">HRR (W/g)</text>
<text font-family='"Liberation Serif", "Times New Roman", serif' font-size="25" text-anchor="middle" textLength="167.5" lengthAdjust="spacingAndGlyphs" x="513.00" y="642.10">Temperature (°C)</text>
<rect x="688.60" y="23.60" width="227.80" height="140.90" fill="#fff" stroke="#7a7a7a" stroke-width="1.2"/>
<line x1="695.60" y1="39.10" x2="749.70" y2="39.10" stroke="#000000" stroke-width="2"/>
<text font-family='"Liberation Serif", "Times New Roman", serif' font-size="23.5" x="755.20" y="47.70">PLA 0.5% MoS<tspan font-size="14" dy="8.5">2</tspan></text>
<line x1="695.60" y1="76.70" x2="749.70" y2="76.70" stroke="#ff0000" stroke-width="2"/>
<text font-family='"Liberation Serif", "Times New Roman", serif' font-size="23.5" x="755.20" y="84.70">PLA 1% MoS<tspan font-size="14" dy="8.5">2</tspan></text>
<line x1="695.60" y1="113.70" x2="749.70" y2="113.70" stroke="#0000ff" stroke-width="2"/>
<text font-family='"Liberation Serif", "Times New Roman", serif' font-size="23.5" x="755.20" y="121.60">PLA 2% MoS<tspan font-size="14" dy="8.5">2</tspan></text>
<line x1="695.60" y1="151.30" x2="749.70" y2="151.30" stroke="#008080" stroke-width="2"/>
<text font-family='"Liberation Serif", "Times New Roman", serif' font-size="23.5" x="755.20" y="158.50">Pristine PLA</text>
<text font-family='"Liberation Serif", "Times New Roman", serif' font-size="58" font-weight="bold" x="6.60" y="44.00">A</text>
<g fill="none" stroke-width="2" stroke-linejoin="round" stroke-linecap="round">
<path stroke="#000000" d="M1059.4,567.4 1060.9,567.4 1062.4,567.4 1063.9,567.4 1065.4,567.4 1066.9,567.5 1068.4,567.5 1069.9,567.5 1071.4,567.5 1072.9,567.5 1074.4,567.5 1075.9,567.5 1077.4,567.6 1078.9,567.6 1080.4,567.6 1081.9,567.6 1083.4,567.6 1084.9,567.6 1086.4,567.6 1087.9,567.7 1089.4,567.7 1090.9,567.7 1092.4,567.7 1093.9,567.7 1095.4,567.7 1096.9,567.8 1098.4,567.8 1099.9,567.8 1101.4,567.8 1102.9,567.8 1104.4,567.8 1105.9,567.9 1107.4,567.9 1108.9,567.9 1110.4,567.9 1111.9,567.9 1113.4,567.9 1114.9,568.0 1116.4,568.0 1117.9,568.0 1119.4,568.0 1120.9,568.0 1122.4,568.0 1123.9,568.0 1125.4,568.1 1126.9,568.1 1128.4,568.1 1129.9,568.1 1131.4,568.1 1132.9,568.1 1134.4,568.1 1135.9,568.1 1137.4,568.1 1138.9,568.2 1140.4,568.2 1141.9,568.2 1143.4,568.2 1144.9,568.2 1146.4,568.2 1147.9,568.2 1149.4,568.2 1150.9,568.2 1152.4,568.2 1153.9,568.2 1155.4,568.2 1156.9,568.2 1158.4,568.2 1159.9,568.2 1161.4,568.1 1162.9,568.1 1164.4,568.1 1165.9,568.1 1167.4,568.1 1168.9,568.0 1170.4,568.0 1171.9,568.0 1173.4,567.9 1174.9,567.9 1176.4,567.9 1177.9,567.8 1179.4,567.7 1180.9,567.7 1182.4,567.6 1183.9,567.5 1185.4,567.4 1186.9,567.2 1188.4,567.1 1189.9,566.9 1191.4,566.7 1192.9,566.5 1194.3,566.3 1195.8,566.0 1197.3,565.8 1198.8,565.5 1200.2,565.2 1201.7,564.9 1203.2,564.7 1204.7,564.4 1206.1,564.1 1207.6,563.8 1209.1,563.4 1210.5,563.1 1212.0,562.8 1213.5,562.5 1214.9,562.1 1216.4,561.8 1217.8,561.4 1219.3,561.1 1220.8,560.7 1222.2,560.3 1223.6,559.9 1225.1,559.5 1226.5,559.0 1227.9,558.4 1229.2,557.8 1230.6,557.2 1231.9,556.5 1233.2,555.8 1234.5,555.1 1235.9,554.4 1237.2,553.7 1238.5,553.0 1239.8,552.3 1241.2,551.6 1242.5,550.9 1243.8,550.2 1245.1,549.5 1246.4,548.7 1247.6,547.8 1248.8,546.9 1249.9,546.0 1251.1,545.1 1252.3,544.2 1253.5,543.3 1254.7,542.5 1256.0,541.8 1257.3,541.1 1258.7,540.5 1260.0,540.0 1261.4,539.4 1262.7,538.7 1264.1,538.1 1265.4,537.4 1266.8,536.8 1268.1,536.1 1269.4,535.3 1270.7,534.6 1272.0,533.8 1273.3,533.0 1274.5,532.2 1275.8,531.4 1277.1,530.6 1278.3,529.8 1279.5,528.9 1280.8,528.1 1282.0,527.2 1283.2,526.3 1284.4,525.4 1285.5,524.4 1286.7,523.5 1287.8,522.5 1288.9,521.5 1290.0,520.5 1291.1,519.5 1292.3,518.5 1293.4,517.5 1294.6,516.6 1295.7,515.6 1296.8,514.6 1297.9,513.6 1298.9,512.5 1299.9,511.4 1300.8,510.3 1301.8,509.1 1302.7,507.9 1303.6,506.8 1304.6,505.6 1305.6,504.6 1306.6,503.5 1307.7,502.5 1308.8,501.5 1310.0,500.5 1311.1,499.5 1312.3,498.5 1313.4,497.6 1314.6,496.6 1315.8,495.7 1317.0,494.8 1318.2,493.9 1319.4,493.1 1320.7,492.3 1321.9,491.5 1323.2,490.7 1324.5,490.0 1325.9,489.3 1327.2,488.7 1328.6,488.1 1330.0,487.4 1331.3,486.8 1332.7,486.2 1334.0,485.5 1335.4,484.9 1336.7,484.2 1338.0,483.5 1339.3,482.7 1340.6,482.0 1341.9,481.2 1343.2,480.4 1344.4,479.6 1345.7,478.8 1346.9,477.9 1348.1,477.0 1349.3,476.1 1350.4,475.1 1351.5,474.1 1352.6,473.1 1353.7,472.1 1354.8,471.0 1355.8,469.9 1356.8,468.8 1357.8,467.7 1358.8,466.5 1359.7,465.4 1360.7,464.2 1361.6,463.0 1362.5,461.8 1363.4,460.6 1364.2,459.4 1365.1,458.1 1365.9,456.9 1366.7,455.6 1367.4,454.3 1368.2,453.0 1368.9,451.7 1369.6,450.4 1370.3,449.0 1370.9,447.7 1371.5,446.3 1372.1,444.9 1372.6,443.5 1373.2,442.1 1373.7,440.7 1374.2,439.3 1374.7,437.9 1375.2,436.5 1375.8,435.1 1376.3,433.7 1376.8,432.3 1377.4,430.9 1377.9,429.5 1378.5,428.1 1379.1,426.7 1379.7,425.4 1380.3,424.0 1380.8,422.6 1381.4,421.2 1382.0,419.8 1382.6,418.4 1383.1,417.1 1383.7,415.7 1384.3,414.3 1384.9,412.9 1385.4,411.5 1386.0,410.1 1386.5,408.7 1387.1,407.3 1387.6,405.9 1388.1,404.5 1388.6,403.1 1389.1,401.7 1389.5,400.2 1390.0,398.8 1390.4,397.4 1390.9,395.9 1391.3,394.5 1391.7,393.1 1392.2,391.6 1392.6,390.2 1393.0,388.8 1393.5,387.3 1393.9,385.9 1394.4,384.4 1394.8,383.0 1395.2,381.6 1395.7,380.1 1396.1,378.7 1396.6,377.3 1397.0,375.8 1397.4,374.4 1397.9,373.0 1398.3,371.5 1398.7,370.1 1399.2,368.7 1399.6,367.2 1400.0,365.8 1400.4,364.3 1400.9,362.9 1401.3,361.5 1401.7,360.0 1402.1,358.6 1402.5,357.1 1402.9,355.7 1403.3,354.2 1403.7,352.8 1404.0,351.3 1404.4,349.9 1404.8,348.4 1405.1,347.0 1405.5,345.5 1405.8,344.0 1406.2,342.6 1406.6,341.1 1407.0,339.7 1407.4,338.2 1407.8,336.8 1408.3,335.4 1408.8,334.0 1409.3,332.6 1409.8,331.1 1410.3,329.7 1410.8,328.3 1411.4,326.9 1411.9,325.5 1412.4,324.1 1412.9,322.7 1413.5,321.3 1414.0,319.9 1414.5,318.5 1415.1,317.1 1415.7,315.8 1416.3,314.4 1416.9,313.0 1417.6,311.7 1418.3,310.4 1419.1,309.2 1420.0,308.0 1421.0,306.9 1422.1,305.9 1423.4,305.2 1424.9,305.1 1426.2,305.7 1427.4,306.7 1428.3,307.8 1429.2,309.0 1429.9,310.3 1430.6,311.6 1431.1,313.0 1431.6,314.4 1432.1,315.8 1432.4,317.3 1432.8,318.7 1433.2,320.2 1433.5,321.6 1433.8,323.1 1434.1,324.6 1434.4,326.0 1434.6,327.5 1434.9,329.0 1435.1,330.5 1435.4,332.0 1435.6,333.4 1435.8,334.9 1436.0,336.4 1436.2,337.9 1436.4,339.4 1436.6,340.9 1436.8,342.4 1437.0,343.8 1437.2,345.3 1437.4,346.8 1437.6,348.3 1437.7,349.8 1437.9,351.3 1438.1,352.8 1438.2,354.3 1438.4,355.8 1438.6,357.3 1438.7,358.8 1438.9,360.2 1439.0,361.7 1439.1,363.2 1439.3,364.7 1439.4,366.2 1439.6,367.7 1439.7,369.2 1439.8,370.7 1440.0,372.2 1440.1,373.7 1440.3,375.2 1440.4,376.7 1440.6,378.2 1440.7,379.7 1440.9,381.2 1441.0,382.6 1441.2,384.1 1441.3,385.6 1441.5,387.1 1441.6,388.6 1441.8,390.1 1441.9,391.6 1442.1,393.1 1442.2,394.6 1442.4,396.1 1442.5,397.6 1442.7,399.1 1442.8,400.6 1443.0,402.1 1443.1,403.6 1443.3,405.0 1443.4,406.5 1443.6,408.0 1443.7,409.5 1443.8,411.0 1444.0,412.5 1444.1,414.0 1444.3,415.5 1444.4,417.0 1444.6,418.5 1444.7,420.0 1444.9,421.5 1445.0,423.0 1445.2,424.5 1445.3,425.9 1445.5,427.4 1445.7,428.9 1445.8,430.4 1446.0,431.9 1446.1,433.4 1446.3,434.9 1446.4,436.4 1446.6,437.9 1446.7,439.4 1446.9,440.9 1447.0,442.4 1447.2,443.9 1447.3,445.4 1447.4,446.8 1447.6,448.3 1447.7,449.8 1447.8,451.3 1447.9,452.8 1448.1,454.3 1448.2,455.8 1448.3,457.3 1448.4,458.8 1448.5,460.3 1448.7,461.8 1448.8,463.3 1449.0,464.8 1449.1,466.3 1449.3,467.8 1449.4,469.3 1449.6,470.7 1449.8,472.2 1450.0,473.7 1450.2,475.2 1450.4,476.7 1450.7,478.2 1450.9,479.7 1451.1,481.1 1451.4,482.6 1451.6,484.1 1451.9,485.6 1452.1,487.1 1452.4,488.5 1452.7,490.0 1452.9,491.5 1453.2,493.0 1453.5,494.4 1453.8,495.9 1454.1,497.4 1454.4,498.8 1454.7,500.3 1455.1,501.8 1455.4,503.2 1455.7,504.7 1456.1,506.2 1456.4,507.6 1456.8,509.1 1457.1,510.5 1457.5,512.0 1457.9,513.4 1458.3,514.9 1458.7,516.3 1459.1,517.8 1459.5,519.2 1459.9,520.7 1460.3,522.1 1460.7,523.5 1461.2,525.0 1461.6,526.4 1462.0,527.9 1462.5,529.3 1462.9,530.7 1463.4,532.1 1463.9,533.6 1464.4,535.0 1465.0,536.3 1465.6,537.7 1466.2,539.1 1466.9,540.4 1467.6,541.7 1468.3,543.0 1469.1,544.3 1469.9,545.6 1470.8,546.8 1471.7,548.0 1472.7,549.1 1473.7,550.2 1474.7,551.2 1475.8,552.2 1477.0,553.1 1478.3,553.9 1479.5,554.6 1480.9,555.3 1482.2,555.8 1483.6,556.4 1485.1,556.8 1486.5,557.2 1488.0,557.6 1489.4,557.9 1490.9,558.2 1492.4,558.5 1493.8,558.7 1495.3,559.0 1496.8,559.2 1498.3,559.3 1499.8,559.5 1501.3,559.6 1502.8,559.7 1504.3,559.8 1505.8,559.8 1507.3,559.8 1508.8,559.8 1510.3,559.8 1511.8,559.7 1513.3,559.6 1514.8,559.5 1516.2,559.3 1517.7,559.2 1519.2,558.9 1520.7,558.7 1522.2,558.4 1523.6,558.1 1525.1,557.8 1526.6,557.5 1528.0,557.1 1529.5,556.8 1530.9,556.4 1532.4,556.1 1533.9,555.7 1535.3,555.4 1536.8,555.0 1538.2,554.7 1539.7,554.3 1541.2,554.0 1542.6,553.7 1544.1,553.3 1545.5,553.0 1547.0,552.6 1548.4,552.2 1549.9,551.8 1551.3,551.4 1552.8,551.0 1554.2,550.6 1555.6,550.1 1557.0,549.6 1558.4,549.1 1559.8,548.5 1561.2,547.9 1562.6,547.3 1563.9,546.7 1565.3,546.0 1566.6,545.3 1567.9,544.6 1569.3,544.0 1570.6,543.3 1571.9,542.6 1573.3,541.9 1574.6,541.2 1576.0,540.6 1577.3,539.9 1578.7,539.3 1580.0,538.6 1581.4,538.0 1582.7,537.3 1584.0,536.6 1585.4,535.9 1586.7,535.1 1587.9,534.4 1589.2,533.6 1590.5,532.7 1591.7,531.9 1592.9,531.0 1594.2,530.2 1595.4,529.3 1596.6,528.4 1597.8,527.5 1599.0,526.7 1600.2,525.8 1601.5,525.0 1602.7,524.1 1604.0,523.3 1605.3,522.5 1606.6,521.7 1607.8,521.0 1609.1,520.2 1610.5,519.5 1611.8,518.8 1613.1,518.1 1614.5,517.5 1615.8,516.9 1617.2,516.3 1618.6,515.8 1620.0,515.4 1621.5,515.0 1622.9,514.7 1624.4,514.4 1625.9,514.3 1627.4,514.2 1628.8,514.2 1630.3,514.3 1631.8,514.5 1633.2,514.8 1634.7,515.2 1636.1,515.7 1637.4,516.2 1638.8,516.9 1640.1,517.6 1641.3,518.4 1642.5,519.3 1643.7,520.2 1644.9,521.1 1646.0,522.1 1647.1,523.1 1648.2,524.2 1649.2,525.2 1650.3,526.3 1651.3,527.4 1652.3,528.5 1653.3,529.6 1654.3,530.7 1655.2,531.9 1656.2,533.1 1657.1,534.3 1658.0,535.5 1658.8,536.7 1659.7,537.9 1660.6,539.1 1661.4,540.4 1662.3,541.6 1663.1,542.8 1664.0,544.1 1664.8,545.4 1665.6,546.6 1666.4,547.9 1667.3,549.1 1668.1,550.3 1669.0,551.6 1669.9,552.8 1670.8,553.9 1671.7,555.1 1672.7,556.2 1673.7,557.3 1674.8,558.4 1675.9,559.4 1677.0,560.4 1678.1,561.4 1679.3,562.3 1680.5,563.1 1681.8,563.9 1683.1,564.7 1684.4,565.4 1685.7,566.1 1687.1,566.7 1688.5,567.3 1689.9,567.9 1691.3,568.4 1692.7,568.8 1694.1,569.2 1695.6,569.6 1697.0,569.9 1698.5,570.3 1700.0,570.5 1701.4,570.8 1702.9,571.0 1704.4,571.2 1705.9,571.4 1707.4,571.6 1708.9,571.7 1710.4,571.8 1711.9,571.9 1713.4,572.0 1714.9,572.0 1716.4,572.1 1717.9,572.1 1719.4,572.2 1720.9,572.2 1722.4,572.3 1723.9,572.3 1725.4,572.3 1726.9,572.4 1728.4,572.4 1729.9,572.4 1731.4,572.4 1732.9,572.5 1734.4,572.5 1735.9,572.5 1737.4,572.5 1738.9,572.5 1740.4,572.6 1741.9,572.6 1743.4,572.6 1744.9,572.6 1746.4,572.6 1747.9,572.6 1749.4,572.7 1750.9,572.7 1752.4,572.7 1753.9,572.7 1755.4,572.7 1756.9,572.7 1758.4,572.7 1759.9,572.7 1761.4,572.7 1762.9,572.7 1764.4,572.8 1765.9,572.8 1767.4,572.8 1768.9,572.8 1770.4,572.8 1771.9,572.8 1773.4,572.8 1774.9,572.8 1776.4,572.8 1777.9,572.8 1779.4,572.8 1780.9,572.8 1782.4,572.8 1783.9,572.8 1785.4,572.8 1786.9,572.8 1788.4,572.8 1789.9,572.8 1791.4,572.8 1792.9,572.8 1794.4,572.8 1795.9,572.8 1797.4,572.8 1798.9,572.8 1800.4,572.8 1801.9,572.7 1803.4,572.7 1804.9,572.7 1806.4,572.7 1807.9,572.7 1809.4,572.7 1810.9,572.7 1812.4,572.7 1813.9,572.6 1815.4,572.6 1816.9,572.6 1818.4,572.6 1819.9,572.6 1821.4,572.6 1822.9,572.5 1824.4,572.5 1825.9,572.5 1827.4,572.5 1828.9,572.5 1830.4,572.4 1831.9,572.4 1833.4,572.4 1834.9,572.4 1836.4,572.4 1837.9,572.3 1839.4,572.3 1840.9,572.3 1842.4,572.3 1843.9,572.3 1845.4,572.2 1846.9,572.2 1848.4,572.2 1849.9,572.2 1851.4,572.2 1852.9,572.1 1854.4,572.1 1855.9,572.1 1857.4,572.1 1858.9,572.1 1860.4,572.0 1861.9,572.0 1863.4,572.0 1864.9,572.0 1866.4,572.0 1867.9,571.9 1869.4,571.9 1870.9,571.9 1871.9,571.9"/>
<path stroke="#ff0000" d="M1059.4,568.1 1060.9,568.1 1062.4,568.1 1063.9,568.1 1065.4,568.1 1066.9,568.1 1068.4,568.1 1069.9,568.1 1071.4,568.1 1072.9,568.1 1074.4,568.1 1075.9,568.1 1077.4,568.1 1078.9,568.1 1080.4,568.1 1081.9,568.1 1083.4,568.1 1084.9,568.1 1086.4,568.1 1087.9,568.1 1089.4,568.1 1090.9,568.1 1092.4,568.1 1093.9,568.1 1095.4,568.1 1096.9,568.2 1098.4,568.2 1099.9,568.2 1101.4,568.2 1102.9,568.2 1104.4,568.2 1105.9,568.2 1107.4,568.2 1108.9,568.2 1110.4,568.2 1111.9,568.2 1113.4,568.2 1114.9,568.3 1116.4,568.3 1117.9,568.3 1119.4,568.3 1120.9,568.3 1122.4,568.3 1123.9,568.3 1125.4,568.3 1126.9,568.3 1128.4,568.3 1129.9,568.3 1131.4,568.3 1132.9,568.3 1134.4,568.3 1135.9,568.3 1137.4,568.3 1138.9,568.3 1140.4,568.4 1141.9,568.4 1143.4,568.4 1144.9,568.4 1146.4,568.4 1147.9,568.3 1149.4,568.3 1150.9,568.3 1152.4,568.3 1153.9,568.3 1155.4,568.3 1156.9,568.3 1158.4,568.3 1159.9,568.3 1161.4,568.3 1162.9,568.3 1164.4,568.2 1165.9,568.2 1167.4,568.2 1168.9,568.2 1170.4,568.1 1171.9,568.1 1173.4,568.1 1174.9,568.0 1176.4,568.0 1177.9,567.9 1179.4,567.9 1180.9,567.8 1182.4,567.7 1183.9,567.6 1185.4,567.5 1186.9,567.4 1188.4,567.3 1189.9,567.1 1191.4,566.9 1192.9,566.7 1194.3,566.4 1195.8,566.1 1197.3,565.9 1198.8,565.6 1200.2,565.3 1201.7,565.0 1203.2,564.7 1204.6,564.4 1206.1,564.2 1207.6,563.9 1209.1,563.6 1210.5,563.3 1212.0,563.0 1213.5,562.7 1215.0,562.5 1216.4,562.2 1217.9,561.9 1219.4,561.6 1220.9,561.3 1222.3,561.0 1223.8,560.7 1225.2,560.3 1226.7,560.0 1228.2,559.6 1229.6,559.2 1231.0,558.8 1232.5,558.4 1233.9,558.0 1235.4,557.5 1236.8,557.1 1238.2,556.7 1239.7,556.2 1241.1,555.7 1242.5,555.2 1243.9,554.7 1245.3,554.1 1246.6,553.5 1247.9,552.8 1249.2,552.0 1250.4,551.2 1251.6,550.3 1252.8,549.4 1253.9,548.4 1255.0,547.4 1256.1,546.4 1257.2,545.4 1258.3,544.4 1259.4,543.3 1260.5,542.3 1261.7,541.4 1262.8,540.4 1264.0,539.4 1265.1,538.5 1266.4,537.7 1267.6,537.0 1268.9,536.3 1270.2,535.7 1271.6,535.2 1273.0,534.7 1274.3,534.2 1275.7,533.7 1277.0,533.1 1278.3,532.4 1279.6,531.7 1280.9,530.9 1282.1,530.1 1283.4,529.3 1284.6,528.4 1285.9,527.6 1287.1,526.7 1288.3,525.9 1289.6,525.1 1290.8,524.3 1292.1,523.5 1293.4,522.8 1294.7,522.1 1295.9,521.3 1297.1,520.4 1298.3,519.6 1299.5,518.7 1300.7,517.7 1301.8,516.7 1303.0,515.8 1304.1,514.8 1305.2,513.8 1306.4,512.8 1307.5,511.8 1308.6,510.9 1309.8,509.9 1310.9,508.9 1312.1,507.9 1313.2,507.0 1314.4,506.0 1315.5,505.1 1316.7,504.1 1317.9,503.2 1319.0,502.3 1320.2,501.3 1321.4,500.4 1322.5,499.4 1323.7,498.5 1324.8,497.5 1325.9,496.5 1327.0,495.5 1328.1,494.4 1329.1,493.3 1330.2,492.3 1331.2,491.2 1332.2,490.1 1333.3,489.0 1334.3,487.9 1335.3,486.8 1336.4,485.8 1337.5,484.8 1338.6,483.8 1339.8,482.9 1341.0,482.0 1342.3,481.2 1343.5,480.3 1344.8,479.6 1346.0,478.8 1347.3,477.9 1348.5,477.1 1349.7,476.2 1350.9,475.3 1352.1,474.3 1353.2,473.3 1354.3,472.3 1355.4,471.3 1356.4,470.2 1357.4,469.1 1358.5,468.0 1359.4,466.9 1360.4,465.8 1361.4,464.6 1362.3,463.4 1363.3,462.3 1364.2,461.1 1365.1,459.9 1366.0,458.7 1367.0,457.5 1367.9,456.3 1368.8,455.2 1369.7,454.0 1370.6,452.8 1371.5,451.6 1372.4,450.4 1373.3,449.2 1374.2,447.9 1375.0,446.7 1375.9,445.5 1376.7,444.2 1377.5,442.9 1378.2,441.7 1379.0,440.4 1379.7,439.0 1380.4,437.7 1381.2,436.4 1381.9,435.1 1382.6,433.8 1383.3,432.5 1384.1,431.2 1384.8,429.9 1385.6,428.6 1386.3,427.3 1387.0,425.9 1387.7,424.6 1388.4,423.3 1389.1,421.9 1389.7,420.6 1390.3,419.2 1390.9,417.8 1391.4,416.4 1392.0,415.0 1392.5,413.6 1393.0,412.2 1393.5,410.8 1394.1,409.4 1394.6,408.0 1395.2,406.6 1395.8,405.2 1396.4,403.9 1397.0,402.5 1397.6,401.2 1398.3,399.8 1399.0,398.5 1399.6,397.1 1400.3,395.8 1400.9,394.4 1401.5,393.0 1402.1,391.7 1402.7,390.3 1403.2,388.9 1403.8,387.5 1404.3,386.1 1404.9,384.7 1405.5,383.3 1406.1,382.0 1406.8,380.6 1407.4,379.3 1408.1,378.0 1408.9,376.6 1409.6,375.3 1410.3,374.0 1411.0,372.7 1411.7,371.4 1412.4,370.0 1413.0,368.7 1413.7,367.4 1414.4,366.0 1415.1,364.7 1415.8,363.4 1416.6,362.2 1417.5,361.0 1418.5,359.9 1419.6,358.9 1420.8,358.0 1422.1,357.2 1423.5,357.0 1425.0,357.5 1426.2,358.4 1427.2,359.5 1428.2,360.6 1429.0,361.8 1429.6,363.1 1430.2,364.5 1430.7,365.8 1431.2,367.3 1431.6,368.7 1432.0,370.1 1432.4,371.6 1432.8,373.0 1433.2,374.4 1433.7,375.9 1434.1,377.3 1434.5,378.8 1434.9,380.2 1435.4,381.6 1435.8,383.1 1436.1,384.5 1436.5,386.0 1436.9,387.4 1437.2,388.9 1437.5,390.4 1437.8,391.8 1438.1,393.3 1438.4,394.8 1438.7,396.3 1439.0,397.7 1439.3,399.2 1439.5,400.7 1439.8,402.2 1440.1,403.6 1440.3,405.1 1440.6,406.6 1440.8,408.1 1441.0,409.6 1441.3,411.0 1441.5,412.5 1441.7,414.0 1441.9,415.5 1442.2,417.0 1442.4,418.5 1442.6,419.9 1442.8,421.4 1443.0,422.9 1443.2,424.4 1443.4,425.9 1443.6,427.4 1443.8,428.9 1444.0,430.4 1444.2,431.8 1444.4,433.3 1444.6,434.8 1444.7,436.3 1444.9,437.8 1445.1,439.3 1445.3,440.8 1445.5,442.3 1445.7,443.8 1445.8,445.2 1446.0,446.7 1446.2,448.2 1446.4,449.7 1446.5,451.2 1446.7,452.7 1446.9,454.2 1447.1,455.7 1447.3,457.2 1447.5,458.7 1447.6,460.1 1447.8,461.6 1448.0,463.1 1448.2,464.6 1448.4,466.1 1448.6,467.6 1448.8,469.1 1449.0,470.5 1449.3,472.0 1449.5,473.5 1449.7,475.0 1449.9,476.5 1450.2,478.0 1450.4,479.5 1450.6,480.9 1450.9,482.4 1451.1,483.9 1451.4,485.4 1451.6,486.9 1451.9,488.3 1452.1,489.8 1452.4,491.3 1452.7,492.8 1453.0,494.2 1453.2,495.7 1453.5,497.2 1453.8,498.6 1454.1,500.1 1454.4,501.6 1454.7,503.1 1455.1,504.5 1455.4,506.0 1455.7,507.5 1456.0,508.9 1456.4,510.4 1456.7,511.8 1457.1,513.3 1457.4,514.7 1457.8,516.2 1458.2,517.7 1458.6,519.1 1459.0,520.5 1459.4,522.0 1459.8,523.4 1460.2,524.9 1460.7,526.3 1461.1,527.7 1461.5,529.2 1462.0,530.6 1462.5,532.0 1463.0,533.5 1463.5,534.9 1464.0,536.2 1464.6,537.6 1465.2,539.0 1465.9,540.3 1466.6,541.6 1467.4,542.9 1468.1,544.2 1469.0,545.4 1469.9,546.6 1470.8,547.8 1471.8,548.9 1472.8,550.0 1473.9,551.0 1475.0,552.0 1476.2,552.9 1477.4,553.7 1478.7,554.4 1480.0,555.0 1481.4,555.6 1482.8,556.1 1484.2,556.5 1485.7,556.9 1487.1,557.3 1488.6,557.6 1490.1,557.9 1491.6,558.1 1493.0,558.4 1494.5,558.7 1496.0,558.9 1497.5,559.1 1499.0,559.3 1500.4,559.5 1501.9,559.7 1503.4,559.9 1504.9,560.0 1506.4,560.1 1507.9,560.2 1509.4,560.3 1510.9,560.3 1512.4,560.3 1513.9,560.3 1515.4,560.3 1516.9,560.2 1518.4,560.2 1519.9,560.1 1521.4,560.0 1522.9,559.8 1524.4,559.7 1525.9,559.5 1527.4,559.4 1528.9,559.2 1530.3,559.0 1531.8,558.8 1533.3,558.5 1534.8,558.3 1536.3,558.0 1537.7,557.8 1539.2,557.5 1540.7,557.2 1542.2,556.9 1543.6,556.6 1545.1,556.3 1546.5,555.9 1548.0,555.6 1549.5,555.2 1550.9,554.8 1552.3,554.4 1553.8,554.0 1555.2,553.5 1556.7,553.1 1558.1,552.6 1559.5,552.2 1561.0,551.7 1562.4,551.3 1563.8,550.8 1565.2,550.4 1566.7,549.9 1568.1,549.4 1569.5,549.0 1571.0,548.5 1572.4,548.1 1573.8,547.6 1575.3,547.2 1576.7,546.7 1578.1,546.3 1579.5,545.8 1581.0,545.4 1582.4,544.9 1583.8,544.5 1585.3,544.0 1586.7,543.5 1588.1,543.1 1589.5,542.6 1591.0,542.2 1592.4,541.7 1593.8,541.3 1595.3,540.9 1596.7,540.5 1598.2,540.1 1599.6,539.7 1601.1,539.4 1602.6,539.0 1604.0,538.7 1605.5,538.4 1607.0,538.1 1608.4,537.8 1609.9,537.5 1611.4,537.2 1612.9,537.0 1614.3,536.8 1615.8,536.6 1617.3,536.4 1618.8,536.3 1620.3,536.2 1621.8,536.2 1623.3,536.2 1624.7,536.4 1626.2,536.6 1627.7,536.9 1629.1,537.2 1630.5,537.6 1632.0,537.9 1633.4,538.2 1634.9,538.4 1636.3,538.5 1637.8,538.6 1639.2,538.7 1640.7,538.9 1642.1,539.2 1643.5,539.5 1644.9,540.0 1646.2,540.6 1647.6,541.2 1648.9,541.9 1650.2,542.6 1651.5,543.4 1652.8,544.1 1654.1,544.9 1655.3,545.7 1656.6,546.6 1657.8,547.4 1659.0,548.3 1660.3,549.2 1661.5,550.0 1662.7,550.9 1663.9,551.8 1665.2,552.6 1666.4,553.5 1667.7,554.2 1669.0,555.0 1670.3,555.7 1671.6,556.4 1673.0,557.1 1674.3,557.7 1675.7,558.3 1677.1,558.8 1678.5,559.4 1679.9,559.9 1681.3,560.3 1682.8,560.8 1684.2,561.1 1685.7,561.5 1687.1,561.8 1688.6,562.1 1690.1,562.3 1691.6,562.5 1693.0,562.7 1694.5,562.9 1696.0,563.1 1697.5,563.3 1699.0,563.5 1700.5,563.7 1702.0,563.8 1703.5,564.0 1704.9,564.2 1706.4,564.4 1707.9,564.6 1709.4,564.8 1710.9,564.9 1712.4,565.0 1713.9,565.2 1715.4,565.3 1716.9,565.4 1718.4,565.5 1719.9,565.5 1721.4,565.6 1722.9,565.7 1724.4,565.7 1725.9,565.7 1727.4,565.7 1728.9,565.7 1730.4,565.7 1731.9,565.7 1733.4,565.7 1734.9,565.7 1736.4,565.7 1737.9,565.6 1739.4,565.6 1740.9,565.6 1742.4,565.6 1743.9,565.5 1745.4,565.5 1746.9,565.4 1748.4,565.4 1749.9,565.3 1751.4,565.3 1752.9,565.2 1754.4,565.2 1755.9,565.1 1757.4,565.1 1758.9,565.0 1760.4,565.0 1761.9,564.9 1763.4,564.9 1764.9,564.8 1766.4,564.8 1767.9,564.7 1769.4,564.7 1770.9,564.7 1772.4,564.6 1773.9,564.6 1775.4,564.5 1776.9,564.5 1778.4,564.4 1779.9,564.4 1781.4,564.4 1782.9,564.3 1784.4,564.3 1785.9,564.3 1787.4,564.2 1788.9,564.2 1790.4,564.2 1791.9,564.1 1793.4,564.1 1794.9,564.1 1796.4,564.1 1797.9,564.0 1799.4,564.0 1800.9,564.0 1802.4,564.0 1803.9,564.0 1805.4,563.9 1806.9,563.9 1808.4,563.9 1809.9,563.9 1811.4,563.9 1812.9,563.8 1814.4,563.8 1815.9,563.8 1817.4,563.8 1818.9,563.8 1820.4,563.7 1821.9,563.7 1823.4,563.7 1824.9,563.7 1826.4,563.7 1827.9,563.6 1829.4,563.6 1830.9,563.6 1832.4,563.6 1833.9,563.6 1835.4,563.5 1836.9,563.5 1838.4,563.5 1839.9,563.5 1841.4,563.5 1842.9,563.5 1844.4,563.4 1845.9,563.4 1847.4,563.4 1848.9,563.4 1850.4,563.4 1851.9,563.4 1853.4,563.3 1854.9,563.3 1856.4,563.3 1857.9,563.3 1859.4,563.3 1860.9,563.2 1862.4,563.2 1863.9,563.2 1865.4,563.2 1866.9,563.2 1868.4,563.1 1869.9,563.1 1871.4,563.1 1871.9,563.1"/>
<path stroke="#0000ff" d="M1059.4,567.0 1060.9,567.0 1062.4,567.0 1063.9,567.0 1065.4,567.0 1066.9,567.0 1068.4,567.0 1069.9,567.0 1071.4,567.0 1072.9,567.0 1074.4,567.0 1075.9,567.0 1077.4,567.0 1078.9,567.0 1080.4,567.0 1081.9,567.0 1083.4,567.0 1084.9,567.0 1086.4,567.0 1087.9,567.0 1089.4,567.0 1090.9,567.0 1092.4,567.0 1093.9,567.0 1095.4,567.0 1096.9,567.0 1098.4,567.0 1099.9,567.0 1101.4,567.0 1102.9,567.0 1104.4,567.0 1105.9,567.0 1107.4,567.0 1108.9,567.0 1110.4,567.0 1111.9,567.0 1113.4,567.0 1114.9,567.0 1116.4,567.0 1117.9,567.1 1119.4,567.1 1120.9,567.1 1122.4,567.1 1123.9,567.1 1125.4,567.1 1126.9,567.1 1128.4,567.1 1129.9,567.1 1131.4,567.1 1132.9,567.1 1134.4,567.1 1135.9,567.1 1137.4,567.1 1138.9,567.1 1140.4,567.1 1141.9,567.1 1143.4,567.1 1144.9,567.1 1146.4,567.1 1147.9,567.1 1149.4,567.1 1150.9,567.1 1152.4,567.1 1153.9,567.1 1155.4,567.1 1156.9,567.0 1158.4,567.0 1159.9,567.0 1161.4,567.0 1162.9,567.0 1164.4,567.0 1165.9,567.0 1167.4,567.0 1168.9,567.0 1170.4,566.9 1171.9,566.9 1173.4,566.9 1174.9,566.9 1176.4,566.8 1177.9,566.8 1179.4,566.8 1180.9,566.7 1182.4,566.7 1183.9,566.6 1185.4,566.6 1186.9,566.5 1188.4,566.4 1189.9,566.3 1191.4,566.2 1192.9,566.1 1194.4,566.0 1195.9,565.8 1197.4,565.6 1198.9,565.4 1200.4,565.2 1201.8,565.0 1203.3,564.8 1204.8,564.5 1206.3,564.3 1207.8,564.0 1209.2,563.8 1210.7,563.5 1212.2,563.3 1213.7,563.0 1215.2,562.7 1216.6,562.5 1218.1,562.2 1219.6,561.9 1221.1,561.6 1222.5,561.4 1224.0,561.1 1225.5,560.8 1227.0,560.6 1228.4,560.3 1229.9,560.0 1231.4,559.6 1232.8,559.3 1234.3,558.9 1235.7,558.6 1237.2,558.2 1238.6,557.8 1240.1,557.4 1241.5,557.0 1243.0,556.6 1244.4,556.2 1245.8,555.7 1247.3,555.2 1248.7,554.7 1250.1,554.2 1251.5,553.7 1252.9,553.1 1254.2,552.5 1255.6,551.9 1257.0,551.3 1258.4,550.7 1259.7,550.1 1261.1,549.5 1262.5,548.9 1263.9,548.3 1265.3,547.8 1266.7,547.2 1268.0,546.7 1269.4,546.1 1270.8,545.5 1272.2,544.9 1273.6,544.3 1275.0,543.7 1276.3,543.1 1277.7,542.5 1279.0,541.9 1280.4,541.2 1281.8,540.6 1283.1,540.0 1284.5,539.4 1285.9,538.8 1287.3,538.2 1288.6,537.7 1290.0,537.2 1291.4,536.7 1292.8,536.1 1294.1,535.5 1295.4,534.9 1296.7,534.1 1297.9,533.3 1299.1,532.5 1300.4,531.6 1301.6,530.8 1302.8,529.9 1304.1,529.1 1305.3,528.3 1306.6,527.4 1307.8,526.5 1309.0,525.7 1310.2,524.8 1311.4,523.9 1312.6,523.0 1313.8,522.1 1315.0,521.2 1316.2,520.3 1317.4,519.4 1318.6,518.5 1319.8,517.6 1321.1,516.7 1322.3,515.9 1323.5,515.0 1324.7,514.1 1325.9,513.2 1327.1,512.3 1328.3,511.4 1329.4,510.4 1330.6,509.5 1331.7,508.5 1332.9,507.5 1334.0,506.5 1335.1,505.5 1336.1,504.4 1337.2,503.4 1338.3,502.3 1339.3,501.2 1340.3,500.1 1341.3,499.0 1342.3,497.9 1343.3,496.8 1344.3,495.7 1345.3,494.5 1346.2,493.3 1347.2,492.2 1348.1,491.0 1349.0,489.8 1349.9,488.6 1350.8,487.4 1351.7,486.2 1352.5,484.9 1353.3,483.7 1354.1,482.4 1354.9,481.1 1355.7,479.8 1356.4,478.5 1357.1,477.2 1357.8,475.9 1358.5,474.6 1359.2,473.2 1359.9,471.9 1360.6,470.6 1361.3,469.3 1362.0,467.9 1362.8,466.6 1363.5,465.3 1364.2,464.0 1364.9,462.7 1365.6,461.3 1366.2,460.0 1366.9,458.6 1367.5,457.2 1368.1,455.9 1368.6,454.5 1369.2,453.1 1369.7,451.7 1370.3,450.3 1370.8,448.9 1371.3,447.5 1371.8,446.1 1372.3,444.6 1372.8,443.2 1373.3,441.8 1373.9,440.4 1374.4,439.0 1374.9,437.6 1375.5,436.2 1376.0,434.8 1376.6,433.4 1377.1,432.0 1377.7,430.6 1378.2,429.2 1378.8,427.8 1379.3,426.5 1379.9,425.1 1380.5,423.7 1381.0,422.3 1381.6,420.9 1382.2,419.5 1382.7,418.1 1383.3,416.7 1383.9,415.3 1384.4,413.9 1385.0,412.6 1385.6,411.2 1386.1,409.8 1386.7,408.4 1387.2,407.0 1387.7,405.6 1388.2,404.2 1388.7,402.7 1389.2,401.3 1389.6,399.9 1390.1,398.5 1390.5,397.0 1391.0,395.6 1391.4,394.2 1391.8,392.7 1392.3,391.3 1392.7,389.8 1393.1,388.4 1393.6,387.0 1394.0,385.5 1394.5,384.1 1394.9,382.7 1395.3,381.2 1395.8,379.8 1396.2,378.4 1396.7,376.9 1397.1,375.5 1397.5,374.1 1398.0,372.6 1398.4,371.2 1398.8,369.8 1399.3,368.3 1399.7,366.9 1400.1,365.4 1400.5,364.0 1400.9,362.5 1401.3,361.1 1401.7,359.7 1402.1,358.2 1402.5,356.8 1403.0,355.3 1403.4,353.9 1403.8,352.4 1404.2,351.0 1404.6,349.6 1405.0,348.1 1405.4,346.7 1405.9,345.2 1406.3,343.8 1406.7,342.4 1407.2,340.9 1407.6,339.5 1408.1,338.1 1408.6,336.7 1409.2,335.3 1409.7,333.9 1410.3,332.5 1411.0,331.2 1411.6,329.8 1412.3,328.5 1413.0,327.2 1413.8,325.9 1414.7,324.7 1415.6,323.6 1416.6,322.5 1417.6,321.4 1419.0,320.7 1420.4,320.9 1421.6,321.8 1422.6,322.9 1423.6,324.1 1424.5,325.2 1425.3,326.5 1426.0,327.7 1426.7,329.1 1427.3,330.4 1427.9,331.8 1428.4,333.2 1428.9,334.6 1429.3,336.1 1429.6,337.5 1430.0,339.0 1430.3,340.4 1430.6,341.9 1430.9,343.4 1431.1,344.8 1431.4,346.3 1431.7,347.8 1431.9,349.3 1432.2,350.8 1432.5,352.2 1432.7,353.7 1433.0,355.2 1433.2,356.7 1433.5,358.1 1433.7,359.6 1433.9,361.1 1434.2,362.6 1434.4,364.1 1434.6,365.6 1434.8,367.0 1435.1,368.5 1435.3,370.0 1435.5,371.5 1435.7,373.0 1435.9,374.5 1436.1,376.0 1436.3,377.4 1436.5,378.9 1436.7,380.4 1436.9,381.9 1437.1,383.4 1437.3,384.9 1437.5,386.4 1437.6,387.9 1437.8,389.4 1438.0,390.8 1438.1,392.3 1438.3,393.8 1438.5,395.3 1438.6,396.8 1438.8,398.3 1438.9,399.8 1439.1,401.3 1439.2,402.8 1439.3,404.3 1439.5,405.8 1439.6,407.3 1439.7,408.8 1439.8,410.3 1439.9,411.8 1440.0,413.3 1440.1,414.7 1440.2,416.2 1440.3,417.7 1440.4,419.2 1440.5,420.7 1440.6,422.2 1440.6,423.7 1440.7,425.2 1440.8,426.7 1440.9,428.2 1441.0,429.7 1441.1,431.2 1441.2,432.7 1441.3,434.2 1441.4,435.7 1441.5,437.2 1441.6,438.7 1441.7,440.2 1441.8,441.7 1441.9,443.2 1442.0,444.7 1442.2,446.2 1442.3,447.7 1442.4,449.2 1442.6,450.7 1442.7,452.2 1442.9,453.7 1443.1,455.1 1443.2,456.6 1443.4,458.1 1443.6,459.6 1443.8,461.1 1444.0,462.6 1444.1,464.1 1444.3,465.6 1444.5,467.1 1444.7,468.5 1444.9,470.0 1445.1,471.5 1445.3,473.0 1445.6,474.5 1445.8,476.0 1446.0,477.5 1446.2,478.9 1446.4,480.4 1446.7,481.9 1446.9,483.4 1447.1,484.9 1447.4,486.4 1447.6,487.8 1447.9,489.3 1448.1,490.8 1448.4,492.3 1448.7,493.7 1448.9,495.2 1449.2,496.7 1449.5,498.2 1449.8,499.6 1450.1,501.1 1450.4,502.6 1450.7,504.0 1451.0,505.5 1451.4,507.0 1451.7,508.4 1452.0,509.9 1452.4,511.4 1452.7,512.8 1453.1,514.3 1453.4,515.7 1453.8,517.2 1454.2,518.6 1454.6,520.1 1455.0,521.5 1455.5,523.0 1455.9,524.4 1456.4,525.8 1456.9,527.2 1457.4,528.6 1457.9,530.1 1458.4,531.5 1459.0,532.8 1459.5,534.2 1460.2,535.6 1460.8,536.9 1461.5,538.3 1462.3,539.5 1463.0,540.8 1463.9,542.0 1464.8,543.2 1465.7,544.4 1466.7,545.5 1467.7,546.6 1468.8,547.6 1469.9,548.7 1471.0,549.6 1472.2,550.5 1473.4,551.4 1474.7,552.2 1475.9,553.0 1477.3,553.7 1478.6,554.4 1480.0,555.0 1481.3,555.5 1482.7,556.1 1484.2,556.5 1485.6,556.9 1487.1,557.3 1488.5,557.7 1490.0,558.0 1491.4,558.3 1492.9,558.6 1494.4,558.9 1495.9,559.1 1497.3,559.4 1498.8,559.6 1500.3,559.8 1501.8,560.1 1503.3,560.3 1504.8,560.5 1506.3,560.6 1507.7,560.8 1509.2,560.9 1510.7,561.1 1512.2,561.2 1513.7,561.3 1515.2,561.4 1516.7,561.5 1518.2,561.6 1519.7,561.6 1521.2,561.7 1522.7,561.7 1524.2,561.8 1525.7,561.8 1527.2,561.8 1528.7,561.9 1530.2,561.9 1531.7,561.9 1533.2,561.8 1534.7,561.8 1536.2,561.8 1537.7,561.7 1539.2,561.6 1540.7,561.6 1542.2,561.5 1543.7,561.4 1545.2,561.3 1546.7,561.2 1548.2,561.1 1549.7,561.0 1551.2,560.9 1552.7,560.8 1554.2,560.7 1555.7,560.6 1557.2,560.5 1558.7,560.4 1560.2,560.3 1561.7,560.2 1563.2,560.1 1564.7,560.0 1566.2,559.9 1567.7,559.8 1569.2,559.7 1570.7,559.5 1572.1,559.4 1573.6,559.3 1575.1,559.2 1576.6,559.1 1578.1,559.0 1579.6,558.9 1581.1,558.7 1582.6,558.6 1584.1,558.5 1585.6,558.4 1587.1,558.2 1588.6,558.1 1590.1,558.0 1591.6,557.8 1593.1,557.7 1594.6,557.5 1596.1,557.4 1597.6,557.2 1599.0,557.0 1600.5,556.9 1602.0,556.7 1603.5,556.5 1605.0,556.4 1606.5,556.2 1608.0,556.1 1609.5,556.0 1611.0,555.9 1612.5,555.8 1614.0,555.7 1615.5,555.6 1617.0,555.6 1618.5,555.6 1620.0,555.6 1621.5,555.7 1623.0,555.8 1624.5,555.9 1626.0,556.0 1627.4,556.2 1628.9,556.3 1630.4,556.5 1631.9,556.7 1633.4,557.0 1634.9,557.3 1636.3,557.5 1637.8,557.8 1639.3,558.1 1640.7,558.4 1642.2,558.7 1643.7,559.0 1645.2,559.3 1646.6,559.6 1648.1,559.9 1649.6,560.1 1651.1,560.3 1652.6,560.6 1654.0,560.8 1655.5,561.0 1657.0,561.2 1658.5,561.4 1660.0,561.6 1661.5,561.7 1663.0,561.9 1664.5,562.1 1665.9,562.3 1667.4,562.4 1668.9,562.6 1670.4,562.7 1671.9,562.8 1673.4,563.0 1674.9,563.1 1676.4,563.2 1677.9,563.3 1679.4,563.4 1680.9,563.5 1682.4,563.6 1683.9,563.7 1685.4,563.8 1686.9,563.9 1688.4,564.0 1689.9,564.0 1691.4,564.1 1692.9,564.2 1694.4,564.2 1695.9,564.3 1697.4,564.4 1698.9,564.4 1700.4,564.5 1701.9,564.5 1703.4,564.6 1704.9,564.6 1706.4,564.7 1707.9,564.7 1709.4,564.8 1710.9,564.8 1712.4,564.8 1713.9,564.8 1715.4,564.9 1716.9,564.9 1718.4,564.9 1719.9,564.9 1721.4,564.9 1722.9,564.9 1724.4,564.9 1725.9,564.9 1727.4,564.9 1728.9,564.8 1730.4,564.8 1731.9,564.8 1733.4,564.8 1734.9,564.8 1736.4,564.7 1737.9,564.7 1739.4,564.7 1740.9,564.6 1742.4,564.6 1743.9,564.6 1745.4,564.5 1746.9,564.5 1748.4,564.5 1749.9,564.4 1751.4,564.4 1752.9,564.3 1754.4,564.3 1755.9,564.3 1757.4,564.2 1758.9,564.2 1760.4,564.1 1761.9,564.1 1763.4,564.1 1764.9,564.0 1766.4,564.0 1767.9,563.9 1769.4,563.9 1770.9,563.9 1772.4,563.8 1773.9,563.8 1775.4,563.8 1776.9,563.7 1778.4,563.7 1779.9,563.7 1781.4,563.6 1782.9,563.6 1784.4,563.6 1785.9,563.5 1787.4,563.5 1788.9,563.5 1790.4,563.5 1791.9,563.4 1793.4,563.4 1794.9,563.4 1796.4,563.4 1797.9,563.4 1799.4,563.3 1800.9,563.3 1802.4,563.3 1803.9,563.3 1805.4,563.3 1806.9,563.2 1808.4,563.2 1809.9,563.2 1811.4,563.2 1812.9,563.2 1814.4,563.2 1815.9,563.1 1817.4,563.1 1818.9,563.1 1820.4,563.1 1821.9,563.1 1823.4,563.1 1824.9,563.1 1826.4,563.0 1827.9,563.0 1829.4,563.0 1830.9,563.0 1832.4,563.0 1833.9,563.0 1835.4,563.0 1836.9,562.9 1838.4,562.9 1839.9,562.9 1841.4,562.9 1842.9,562.9 1844.4,562.9 1845.9,562.9 1847.4,562.8 1848.9,562.8 1850.4,562.8 1851.9,562.8 1853.4,562.8 1854.9,562.8 1856.4,562.8 1857.9,562.7 1859.4,562.7 1860.9,562.7 1862.4,562.7 1863.9,562.7 1865.4,562.7 1866.9,562.7 1868.4,562.6 1869.9,562.6 1871.4,562.6 1871.9,562.6"/>
<path stroke="#008080" d="M1059.4,569.7 1060.9,569.8 1062.4,569.9 1063.9,570.0 1065.4,570.2 1066.9,570.3 1068.4,570.4 1069.9,570.5 1071.4,570.6 1072.9,570.8 1074.4,570.9 1075.9,571.0 1077.3,571.1 1078.8,571.3 1080.3,571.4 1081.8,571.5 1083.3,571.6 1084.8,571.7 1086.3,571.8 1087.8,572.0 1089.3,572.1 1090.8,572.2 1092.3,572.3 1093.8,572.4 1095.3,572.5 1096.8,572.6 1098.3,572.6 1099.8,572.7 1101.3,572.8 1102.8,572.9 1104.3,572.9 1105.8,573.0 1107.3,573.0 1108.8,573.1 1110.3,573.1 1111.8,573.2 1113.3,573.2 1114.8,573.2 1116.3,573.2 1117.8,573.3 1119.3,573.3 1120.8,573.3 1122.3,573.3 1123.8,573.3 1125.3,573.3 1126.8,573.3 1128.3,573.3 1129.8,573.3 1131.3,573.3 1132.8,573.3 1134.3,573.3 1135.8,573.3 1137.3,573.3 1138.8,573.3 1140.3,573.3 1141.8,573.3 1143.3,573.3 1144.8,573.3 1146.3,573.2 1147.8,573.2 1149.3,573.2 1150.8,573.2 1152.3,573.2 1153.8,573.2 1155.3,573.1 1156.8,573.1 1158.3,573.1 1159.8,573.1 1161.3,573.1 1162.8,573.0 1164.3,573.0 1165.8,573.0 1167.3,573.0 1168.8,572.9 1170.3,572.9 1171.8,572.9 1173.3,572.8 1174.8,572.8 1176.3,572.8 1177.8,572.7 1179.3,572.7 1180.8,572.6 1182.3,572.6 1183.8,572.5 1185.3,572.5 1186.8,572.5 1188.3,572.4 1189.8,572.4 1191.3,572.3 1192.8,572.3 1194.3,572.3 1195.8,572.3 1197.3,572.2 1198.8,572.2 1200.3,572.2 1201.8,572.2 1203.3,572.2 1204.8,572.2 1206.3,572.3 1207.8,572.3 1209.3,572.3 1210.8,572.3 1212.3,572.4 1213.8,572.4 1215.3,572.4 1216.8,572.5 1218.3,572.5 1219.8,572.6 1221.3,572.6 1222.8,572.6 1224.3,572.7 1225.8,572.7 1227.3,572.7 1228.8,572.7 1230.3,572.8 1231.8,572.8 1233.3,572.8 1234.8,572.8 1236.3,572.8 1237.8,572.8 1239.3,572.8 1240.8,572.8 1242.3,572.8 1243.8,572.8 1245.3,572.7 1246.8,572.7 1248.3,572.7 1249.8,572.7 1251.3,572.7 1252.8,572.6 1254.3,572.6 1255.8,572.6 1257.3,572.5 1258.8,572.5 1260.3,572.5 1261.8,572.4 1263.3,572.4 1264.8,572.3 1266.3,572.3 1267.8,572.2 1269.3,572.2 1270.8,572.1 1272.3,572.0 1273.8,572.0 1275.3,571.9 1276.8,571.8 1278.3,571.8 1279.8,571.7 1281.3,571.6 1282.8,571.5 1284.3,571.4 1285.8,571.3 1287.3,571.2 1288.8,571.0 1290.3,570.9 1291.8,570.7 1293.2,570.6 1294.7,570.4 1296.2,570.2 1297.7,569.9 1299.2,569.7 1300.7,569.4 1302.1,569.2 1303.6,568.9 1305.1,568.6 1306.6,568.4 1308.0,568.1 1309.5,567.7 1311.0,567.4 1312.4,567.0 1313.8,566.6 1315.3,566.2 1316.7,565.7 1318.1,565.1 1319.5,564.6 1320.9,564.0 1322.2,563.4 1323.6,562.8 1324.9,562.1 1326.3,561.5 1327.6,560.8 1328.9,560.1 1330.3,559.4 1331.6,558.6 1332.9,557.9 1334.1,557.1 1335.4,556.3 1336.6,555.4 1337.8,554.5 1339.0,553.6 1340.2,552.7 1341.3,551.7 1342.4,550.7 1343.5,549.6 1344.5,548.6 1345.5,547.5 1346.6,546.4 1347.5,545.2 1348.5,544.1 1349.5,542.9 1350.4,541.8 1351.3,540.6 1352.2,539.4 1353.1,538.2 1353.9,536.9 1354.8,535.7 1355.6,534.4 1356.4,533.2 1357.2,531.9 1358.0,530.6 1358.8,529.3 1359.5,528.1 1360.3,526.7 1361.0,525.4 1361.7,524.1 1362.4,522.8 1363.1,521.5 1363.8,520.1 1364.5,518.8 1365.1,517.4 1365.8,516.1 1366.4,514.7 1367.0,513.3 1367.6,512.0 1368.2,510.6 1368.8,509.2 1369.4,507.8 1369.9,506.4 1370.5,505.1 1371.1,503.7 1371.6,502.3 1372.2,500.9 1372.7,499.5 1373.3,498.1 1373.8,496.7 1374.3,495.3 1374.9,493.9 1375.4,492.5 1375.9,491.0 1376.4,489.6 1376.8,488.2 1377.3,486.8 1377.7,485.3 1378.2,483.9 1378.6,482.5 1379.0,481.0 1379.5,479.6 1379.9,478.2 1380.3,476.7 1380.8,475.3 1381.2,473.9 1381.6,472.4 1382.0,471.0 1382.5,469.5 1382.9,468.1 1383.3,466.6 1383.7,465.2 1384.1,463.8 1384.5,462.3 1384.9,460.9 1385.3,459.4 1385.8,458.0 1386.2,456.6 1386.6,455.1 1387.0,453.7 1387.4,452.2 1387.8,450.8 1388.1,449.3 1388.5,447.9 1388.8,446.4 1389.1,444.9 1389.3,443.4 1389.6,442.0 1389.8,440.5 1390.1,439.0 1390.3,437.5 1390.6,436.0 1390.8,434.6 1391.0,433.1 1391.2,431.6 1391.4,430.1 1391.7,428.6 1391.9,427.1 1392.1,425.6 1392.3,424.2 1392.5,422.7 1392.7,421.2 1392.9,419.7 1393.1,418.2 1393.3,416.7 1393.5,415.2 1393.7,413.8 1394.0,412.3 1394.2,410.8 1394.4,409.3 1394.6,407.8 1394.8,406.3 1395.0,404.9 1395.3,403.4 1395.5,401.9 1395.8,400.4 1396.0,398.9 1396.3,397.5 1396.5,396.0 1396.8,394.5 1397.1,393.0 1397.3,391.5 1397.6,390.1 1397.9,388.6 1398.2,387.1 1398.4,385.6 1398.7,384.2 1399.0,382.7 1399.3,381.2 1399.5,379.7 1399.8,378.3 1400.0,376.8 1400.3,375.3 1400.6,373.8 1400.8,372.4 1401.1,370.9 1401.4,369.4 1401.6,367.9 1401.9,366.4 1402.1,365.0 1402.4,363.5 1402.6,362.0 1402.9,360.5 1403.1,359.1 1403.4,357.6 1403.6,356.1 1403.9,354.6 1404.1,353.1 1404.3,351.6 1404.6,350.2 1404.8,348.7 1405.0,347.2 1405.2,345.7 1405.5,344.2 1405.7,342.7 1405.9,341.3 1406.1,339.8 1406.3,338.3 1406.5,336.8 1406.8,335.3 1407.0,333.8 1407.2,332.4 1407.4,330.9 1407.6,329.4 1407.9,327.9 1408.1,326.4 1408.3,324.9 1408.5,323.5 1408.8,322.0 1409.0,320.5 1409.2,319.0 1409.4,317.5 1409.7,316.0 1409.9,314.6 1410.1,313.1 1410.3,311.6 1410.6,310.1 1410.8,308.6 1411.0,307.1 1411.3,305.7 1411.5,304.2 1411.7,302.7 1411.9,301.2 1412.2,299.7 1412.4,298.2 1412.6,296.8 1412.9,295.3 1413.1,293.8 1413.3,292.3 1413.5,290.8 1413.7,289.3 1413.9,287.8 1414.1,286.4 1414.3,284.9 1414.5,283.4 1414.7,281.9 1414.9,280.4 1415.0,278.9 1415.2,277.4 1415.4,275.9 1415.6,274.4 1415.8,273.0 1416.0,271.5 1416.2,270.0 1416.4,268.5 1416.6,267.0 1416.8,265.5 1417.0,264.0 1417.3,262.6 1417.5,261.1 1417.7,259.6 1417.9,258.1 1418.1,256.6 1418.3,255.1 1418.6,253.7 1418.8,252.2 1419.0,250.7 1419.2,249.2 1419.4,247.7 1419.7,246.2 1419.9,244.7 1420.1,243.3 1420.3,241.8 1420.5,240.3 1420.7,238.8 1420.9,237.3 1421.1,235.8 1421.3,234.3 1421.4,232.8 1421.6,231.4 1421.8,229.9 1422.0,228.4 1422.2,226.9 1422.3,225.4 1422.5,223.9 1422.7,222.4 1422.9,220.9 1423.0,219.4 1423.2,218.0 1423.4,216.5 1423.6,215.0 1423.8,213.5 1424.0,212.0 1424.2,210.5 1424.4,209.0 1424.6,207.5 1424.8,206.1 1425.0,204.6 1425.2,203.1 1425.5,201.6 1425.7,200.1 1425.9,198.6 1426.1,197.2 1426.4,195.7 1426.6,194.2 1426.8,192.7 1427.1,191.2 1427.3,189.7 1427.5,188.3 1427.8,186.8 1428.0,185.3 1428.2,183.8 1428.4,182.3 1428.6,180.8 1428.9,179.4 1429.1,177.9 1429.4,176.4 1429.6,174.9 1430.0,173.5 1430.3,172.0 1430.8,170.6 1431.2,169.2 1431.7,167.8 1432.3,166.4 1432.9,165.0 1433.5,163.7 1434.2,162.3 1434.9,161.1 1435.7,159.8 1436.5,158.6 1437.4,157.4 1438.6,156.4 1440.0,156.2 1441.3,157.0 1442.3,158.2 1443.1,159.4 1443.9,160.6 1444.7,161.9 1445.4,163.2 1446.0,164.6 1446.6,165.9 1447.2,167.3 1447.7,168.7 1448.2,170.1 1448.6,171.6 1448.9,173.0 1449.2,174.5 1449.5,175.9 1449.8,177.4 1450.0,178.9 1450.1,180.4 1450.3,181.9 1450.5,183.4 1450.6,184.9 1450.8,186.4 1450.9,187.9 1451.1,189.3 1451.3,190.8 1451.5,192.3 1451.6,193.8 1451.8,195.3 1452.0,196.8 1452.2,198.3 1452.4,199.8 1452.6,201.2 1452.8,202.7 1453.0,204.2 1453.2,205.7 1453.4,207.2 1453.6,208.7 1453.8,210.2 1453.9,211.7 1454.1,213.2 1454.3,214.6 1454.5,216.1 1454.6,217.6 1454.8,219.1 1455.0,220.6 1455.2,222.1 1455.3,223.6 1455.5,225.1 1455.7,226.6 1455.8,228.1 1456.0,229.6 1456.2,231.0 1456.3,232.5 1456.5,234.0 1456.6,235.5 1456.8,237.0 1457.0,238.5 1457.1,240.0 1457.3,241.5 1457.4,243.0 1457.6,244.5 1457.7,246.0 1457.9,247.5 1458.0,249.0 1458.2,250.4 1458.3,251.9 1458.5,253.4 1458.6,254.9 1458.7,256.4 1458.9,257.9 1459.0,259.4 1459.2,260.9 1459.3,262.4 1459.4,263.9 1459.6,265.4 1459.7,266.9 1459.8,268.4 1459.9,269.9 1460.1,271.4 1460.2,272.9 1460.3,274.4 1460.5,275.8 1460.6,277.3 1460.7,278.8 1460.8,280.3 1461.0,281.8 1461.1,283.3 1461.2,284.8 1461.4,286.3 1461.5,287.8 1461.6,289.3 1461.8,290.8 1461.9,292.3 1462.1,293.8 1462.2,295.3 1462.4,296.8 1462.5,298.3 1462.7,299.8 1462.8,301.2 1463.0,302.7 1463.1,304.2 1463.3,305.7 1463.4,307.2 1463.6,308.7 1463.7,310.2 1463.9,311.7 1464.0,313.2 1464.2,314.7 1464.3,316.2 1464.4,317.7 1464.6,319.2 1464.7,320.7 1464.9,322.2 1465.0,323.6 1465.1,325.1 1465.3,326.6 1465.4,328.1 1465.5,329.6 1465.6,331.1 1465.7,332.6 1465.9,334.1 1466.0,335.6 1466.1,337.1 1466.2,338.6 1466.3,340.1 1466.5,341.6 1466.6,343.1 1466.7,344.6 1466.8,346.1 1466.9,347.6 1467.0,349.1 1467.2,350.6 1467.3,352.1 1467.4,353.6 1467.5,355.1 1467.6,356.5 1467.7,358.0 1467.9,359.5 1468.0,361.0 1468.1,362.5 1468.2,364.0 1468.3,365.5 1468.5,367.0 1468.6,368.5 1468.7,370.0 1468.8,371.5 1468.9,373.0 1469.1,374.5 1469.2,376.0 1469.3,377.5 1469.4,379.0 1469.5,380.5 1469.7,382.0 1469.8,383.5 1469.9,385.0 1470.0,386.5 1470.1,388.0 1470.3,389.5 1470.4,390.9 1470.5,392.4 1470.6,393.9 1470.7,395.4 1470.8,396.9 1471.0,398.4 1471.1,399.9 1471.2,401.4 1471.3,402.9 1471.4,404.4 1471.6,405.9 1471.7,407.4 1471.8,408.9 1471.9,410.4 1472.0,411.9 1472.2,413.4 1472.3,414.9 1472.4,416.4 1472.5,417.9 1472.6,419.4 1472.8,420.9 1472.9,422.4 1473.0,423.8 1473.2,425.3 1473.3,426.8 1473.4,428.3 1473.6,429.8 1473.7,431.3 1473.8,432.8 1474.0,434.3 1474.1,435.8 1474.2,437.3 1474.4,438.8 1474.5,440.3 1474.7,441.8 1474.8,443.3 1474.9,444.8 1475.1,446.3 1475.2,447.8 1475.4,449.2 1475.5,450.7 1475.6,452.2 1475.8,453.7 1475.9,455.2 1476.1,456.7 1476.2,458.2 1476.3,459.7 1476.5,461.2 1476.7,462.7 1476.8,464.2 1477.0,465.7 1477.1,467.2 1477.3,468.7 1477.5,470.1 1477.7,471.6 1477.9,473.1 1478.1,474.6 1478.3,476.1 1478.5,477.6 1478.8,479.1 1479.0,480.5 1479.2,482.0 1479.5,483.5 1479.7,485.0 1480.0,486.5 1480.3,487.9 1480.5,489.4 1480.8,490.9 1481.1,492.4 1481.4,493.8 1481.7,495.3 1482.0,496.8 1482.3,498.2 1482.7,499.7 1483.0,501.1 1483.4,502.6 1483.7,504.1 1484.1,505.5 1484.5,507.0 1484.8,508.4 1485.2,509.9 1485.6,511.3 1486.1,512.8 1486.5,514.2 1486.9,515.6 1487.4,517.1 1487.8,518.5 1488.3,519.9 1488.8,521.3 1489.3,522.7 1489.9,524.1 1490.4,525.5 1491.0,526.9 1491.6,528.3 1492.2,529.6 1492.9,531.0 1493.5,532.3 1494.2,533.7 1494.9,535.0 1495.7,536.3 1496.4,537.6 1497.2,538.9 1498.0,540.2 1498.8,541.4 1499.6,542.7 1500.4,543.9 1501.3,545.2 1502.1,546.4 1503.0,547.6 1503.9,548.8 1504.8,550.0 1505.7,551.2 1506.7,552.4 1507.6,553.5 1508.6,554.6 1509.7,555.7 1510.7,556.7 1511.8,557.7 1513.0,558.7 1514.2,559.5 1515.4,560.4 1516.7,561.1 1518.1,561.8 1519.4,562.4 1520.8,563.0 1522.2,563.5 1523.6,564.0 1525.0,564.5 1526.5,564.9 1527.9,565.3 1529.3,565.7 1530.8,566.1 1532.2,566.5 1533.7,566.9 1535.1,567.3 1536.6,567.6 1538.1,567.9 1539.5,568.2 1541.0,568.5 1542.5,568.8 1544.0,569.0 1545.4,569.3 1546.9,569.5 1548.4,569.7 1549.9,569.8 1551.4,570.0 1552.9,570.1 1554.4,570.2 1555.9,570.3 1557.4,570.4 1558.9,570.4 1560.4,570.4 1561.9,570.5 1563.4,570.5 1564.9,570.5 1566.4,570.5 1567.9,570.4 1569.4,570.4 1570.9,570.4 1572.4,570.4 1573.9,570.3 1575.4,570.3 1576.9,570.3 1578.4,570.2 1579.9,570.2 1581.4,570.1 1582.9,570.1 1584.4,570.1 1585.9,570.0 1587.4,570.0 1588.9,570.0 1590.4,569.9 1591.9,569.9 1593.4,569.9 1594.9,569.8 1596.4,569.8 1597.9,569.8 1599.4,569.7 1600.9,569.7 1602.4,569.6 1603.9,569.6 1605.4,569.5 1606.9,569.5 1608.4,569.4 1609.9,569.4 1611.4,569.4 1612.9,569.4 1614.4,569.3 1615.9,569.3 1617.4,569.3 1618.9,569.3 1620.4,569.3 1621.9,569.3 1623.4,569.4 1624.9,569.4 1626.4,569.4 1627.9,569.5 1629.4,569.5 1630.9,569.5 1632.4,569.6 1633.9,569.6 1635.4,569.7 1636.9,569.7 1638.4,569.7 1639.9,569.8 1641.4,569.8 1642.9,569.9 1644.4,569.9 1645.9,570.0 1647.4,570.0 1648.9,570.1 1650.4,570.1 1651.9,570.1 1653.4,570.2 1654.9,570.2 1656.4,570.2 1657.9,570.2 1659.4,570.3 1660.9,570.3 1662.4,570.3 1663.9,570.3 1665.4,570.3 1666.9,570.3 1668.4,570.3 1669.9,570.3 1671.4,570.3 1672.9,570.4 1674.4,570.4 1675.9,570.4 1677.4,570.4 1678.9,570.4 1680.4,570.3 1681.9,570.3 1683.4,570.3 1684.9,570.3 1686.4,570.3 1687.9,570.3 1689.4,570.3 1690.9,570.3 1692.4,570.3 1693.9,570.3 1695.4,570.3 1696.9,570.3 1698.4,570.3 1699.9,570.2 1701.4,570.2 1702.9,570.2 1704.4,570.2 1705.9,570.2 1707.4,570.2 1708.9,570.1 1710.4,570.1 1711.9,570.1 1713.4,570.1 1714.9,570.1 1716.4,570.0 1717.9,570.0 1719.4,570.0 1720.9,570.0 1722.4,570.0 1723.9,569.9 1725.4,569.9 1726.9,569.9 1728.4,569.8 1729.9,569.8 1731.4,569.7 1732.9,569.7 1734.4,569.7 1735.9,569.6 1737.4,569.6 1738.9,569.5 1740.4,569.5 1741.9,569.4 1743.4,569.4 1744.9,569.3 1746.4,569.3 1747.9,569.2 1749.4,569.2 1750.9,569.2 1752.4,569.1 1753.9,569.1 1755.4,569.1 1756.9,569.0 1758.4,569.0 1759.9,569.0 1761.4,568.9 1762.9,568.9 1764.4,568.9 1765.9,568.9 1767.4,568.9 1768.9,568.9 1770.4,568.9 1771.9,568.9 1773.4,568.9 1774.9,568.9 1776.4,568.9 1777.9,568.9 1779.4,568.9 1780.9,568.9 1782.4,568.9 1783.9,568.9 1785.4,568.9 1786.9,568.9 1788.4,568.9 1789.9,568.9 1791.4,568.9 1792.9,568.9 1794.4,568.9 1795.9,568.9 1797.4,568.9 1798.9,568.9 1800.4,568.9 1801.9,569.0 1803.4,569.0 1804.9,569.0 1806.4,569.0 1807.9,569.0 1809.4,569.0 1810.9,569.0 1812.4,569.0 1813.9,569.1 1815.4,569.1 1816.9,569.1 1818.4,569.1 1819.9,569.1 1821.4,569.1 1822.9,569.1 1824.4,569.2 1825.9,569.2 1827.4,569.2 1828.9,569.2 1830.4,569.2 1831.9,569.2 1833.4,569.2 1834.9,569.3 1836.4,569.3 1837.9,569.3 1839.4,569.3 1840.9,569.3 1842.4,569.3 1843.9,569.4 1845.4,569.4 1846.9,569.4 1848.4,569.4 1849.9,569.4 1851.4,569.4 1852.9,569.4 1854.4,569.5 1855.9,569.5 1857.4,569.5 1858.9,569.5 1860.4,569.5 1861.9,569.5 1863.4,569.5 1864.9,569.5 1866.4,569.6 1867.9,569.6 1869.4,569.6 1870.9,569.6 1871.9,569.6"/>
</g>
<g stroke="#000" stroke-width="2.00" fill="none" stroke-linecap="square">
<rect x="1059.40" y="24.60" width="813.60" height="550.10"/>
<line x1="1059.40" y1="574.70" x2="1059.40" y2="585.20" stroke-linecap="butt"/>
<line x1="1161.10" y1="574.70" x2="1161.10" y2="580.20" stroke-linecap="butt"/>
<line x1="1262.80" y1="574.70" x2="1262.80" y2="585.20" stroke-linecap="butt"/>
<line x1="1364.50" y1="574.70" x2="1364.50" y2="580.20" stroke-linecap="butt"/>
<line x1="1466.20" y1="574.70" x2="1466.20" y2="585.20" stroke-linecap="butt"/>
<line x1="1567.90" y1="574.70" x2="1567.90" y2="580.20" stroke-linecap="butt"/>
<line x1="1669.60" y1="574.70" x2="1669.60" y2="585.20" stroke-linecap="butt"/>
<line x1="1771.30" y1="574.70" x2="1771.30" y2="580.20" stroke-linecap="butt"/>
<line x1="1873.00" y1="574.70" x2="1873.00" y2="585.20" stroke-linecap="butt"/>
<line x1="1059.40" y1="567.46" x2="1048.90" y2="567.46" stroke-linecap="butt"/>
<line x1="1059.40" y1="531.27" x2="1053.90" y2="531.27" stroke-linecap="butt"/>
<line x1="1059.40" y1="495.08" x2="1048.90" y2="495.08" stroke-linecap="butt"/>
<line x1="1059.40" y1="458.89" x2="1053.90" y2="458.89" stroke-linecap="butt"/>
<line x1="1059.40" y1="422.70" x2="1048.90" y2="422.70" stroke-linecap="butt"/>
<line x1="1059.40" y1="386.51" x2="1053.90" y2="386.51" stroke-linecap="butt"/>
<line x1="1059.40" y1="350.32" x2="1048.90" y2="350.32" stroke-linecap="butt"/>
<line x1="1059.40" y1="314.13" x2="1053.90" y2="314.13" stroke-linecap="butt"/>
<line x1="1059.40" y1="277.94" x2="1048.90" y2="277.94" stroke-linecap="butt"/>
<line x1="1059.40" y1="241.74" x2="1053.90" y2="241.74" stroke-linecap="butt"/>
<line x1="1059.40" y1="205.55" x2="1048.90" y2="205.55" stroke-linecap="butt"/>
<line x1="1059.40" y1="169.36" x2="1053.90" y2="169.36" stroke-linecap="butt"/>
<line x1="1059.40" y1="133.17" x2="1048.90" y2="133.17" stroke-linecap="butt"/>
<line x1="1059.40" y1="96.98" x2="1053.90" y2="96.98" stroke-linecap="butt"/>
<line x1="1059.40" y1="60.79" x2="1048.90" y2="60.79" stroke-linecap="butt"/>
<line x1="1059.40" y1="24.60" x2="1053.90" y2="24.60" stroke-linecap="butt"/>
</g>
<g font-family='"Liberation Serif", "Times New Roman", serif' font-size="19" fill="#000">
<text x="1059.40" y="605.70" text-anchor="middle">200</text>
<text x="1262.80" y="605.70" text-anchor="middle">300</text>
<text x="1466.20" y="605.70" text-anchor="middle">400</text>
<text x="1669.60" y="605.70" text-anchor="middle">500</text>
<text x="1873.00" y="605.70" text-anchor="middle">600</text>
<text x="1042.40" y="572.46" text-anchor="end">0</text>
<text x="1042.40" y="500.08" text-anchor="end">100</text>
<text x="1042.40" y="427.70" text-anchor="end">200</text>
<text x="1042.40" y="355.32" text-anchor="end">300</text>
<text x="1042.40" y="282.94" text-anchor="end">400</text>
<text x="1042.40" y="210.55" text-anchor="end">500</text>
<text x="1042.40" y="138.17" text-anchor="end">600</text>
<text x="1042.40" y="65.79" text-anchor="end">700</text>
</g>
<text font-family='"Liberation Serif", "Times New Roman", serif' font-size="25" text-anchor="middle" textLength="113.0" lengthAdjust="spacingAndGlyphs" transform="translate(978.00,304.40) rotate(-90)">HRR (W/g)</text>
<text font-family='"Liberation Serif", "Times New Roman", serif' font-size="25" text-anchor="middle" textLength="167.5" lengthAdjust="spacingAndGlyphs" x="1465.90" y="644.50">Temperature (°C)</text>
<rect x="1515.60" y="27.40" width="358.40" height="141.60" fill="#fff" stroke="#7a7a7a" stroke-width="1.2"/>
<line x1="1530.70" y1="43.70" x2="1584.80" y2="43.70" stroke="#000000" stroke-width="2"/>
<text font-family='"Liberation Serif", "Times New Roman", serif' font-size="23.5" x="1590.20" y="52.10">PLA 0.5% MoS<tspan font-size="14" dy="8.5">2</tspan><tspan dy="-8.5">/Co</tspan><tspan font-size="14" dy="8.5">2</tspan><tspan dy="-8.5">O</tspan><tspan font-size="14" dy="8.5">3</tspan><tspan dy="-8.5">/CNT</tspan></text>
<line x1="1530.70" y1="80.80" x2="1584.80" y2="80.80" stroke="#ff0000" stroke-width="2"/>
<text font-family='"Liberation Serif", "Times New Roman", serif' font-size="23.5" x="1590.20" y="89.20">PLA 1% MoS<tspan font-size="14" dy="8.5">2</tspan><tspan dy="-8.5">/Co</tspan><tspan font-size="14" dy="8.5">2</tspan><tspan dy="-8.5">O</tspan><tspan font-size="14" dy="8.5">3</tspan><tspan dy="-8.5">/CNT</tspan></text>
<line x1="1530.70" y1="118.30" x2="1584.80" y2="118.30" stroke="#0000ff" stroke-width="2"/>
<text font-family='"Liberation Serif", "Times New Roman", serif' font-size="23.5" x="1590.20" y="126.30">PLA 2% MoS<tspan font-size="14" dy="8.5">2</tspan><tspan dy="-8.5">/Co</tspan><tspan font-size="14" dy="8.5">2</tspan><tspan dy="-8.5">O</tspan><tspan font-size="14" dy="8.5">3</tspan><tspan dy="-8.5">/CNT</tspan></text>
<line x1="1530.70" y1="155.40" x2="1584.80" y2="155.40" stroke="#008080" stroke-width="2"/>
<text font-family='"Liberation Serif", "Times New Roman", serif' font-size="23.5" x="1590.20" y="162.80">Pristine PLA</text>
<text font-family='"Liberation Serif", "Times New Roman", serif' font-size="58" font-weight="bold" x="952.00" y="44.00">B</text>
<g fill="none" stroke-width="2" stroke-linejoin="round" stroke-linecap="round">
<path stroke="#000000" d="M107.4,1224.5 108.9,1224.5 110.4,1224.5 111.9,1224.5 113.4,1224.5 114.9,1224.5 116.4,1224.5 117.9,1224.5 119.4,1224.5 120.9,1224.5 122.4,1224.6 123.9,1224.6 125.4,1224.6 126.9,1224.6 128.4,1224.6 129.9,1224.6 131.4,1224.6 132.9,1224.6 134.4,1224.6 135.9,1224.6 137.4,1224.6 138.9,1224.7 140.4,1224.7 141.9,1224.7 143.4,1224.7 144.9,1224.7 146.4,1224.7 147.9,1224.7 149.4,1224.7 150.9,1224.7 152.4,1224.7 153.9,1224.8 155.4,1224.8 156.9,1224.8 158.4,1224.8 159.9,1224.8 161.4,1224.8 162.9,1224.8 164.4,1224.8 165.9,1224.8 167.4,1224.8 168.9,1224.9 170.4,1224.9 171.9,1224.9 173.4,1224.9 174.9,1224.9 176.4,1224.9 177.9,1224.9 179.4,1224.9 180.9,1224.9 182.4,1224.9 183.9,1224.9 185.4,1224.9 186.9,1224.9 188.4,1224.9 189.9,1224.9 191.4,1224.9 192.9,1224.9 194.4,1224.9 195.9,1224.9 197.4,1224.9 198.9,1224.9 200.4,1224.9 201.9,1224.9 203.4,1224.9 204.9,1224.9 206.4,1224.9 207.9,1224.9 209.4,1224.9 210.9,1224.9 212.4,1224.9 213.9,1224.9 215.4,1224.9 216.9,1224.8 218.4,1224.8 219.9,1224.8 221.4,1224.8 222.9,1224.8 224.4,1224.7 225.9,1224.7 227.4,1224.7 228.9,1224.7 230.4,1224.6 231.9,1224.6 233.4,1224.6 234.9,1224.5 236.4,1224.5 237.9,1224.5 239.4,1224.4 240.9,1224.4 242.4,1224.3 243.9,1224.3 245.4,1224.3 246.9,1224.2 248.4,1224.2 249.9,1224.1 251.4,1224.1 252.9,1224.0 254.4,1224.0 255.9,1223.9 257.4,1223.9 258.9,1223.8 260.4,1223.8 261.9,1223.7 263.4,1223.6 264.9,1223.6 266.4,1223.5 267.9,1223.4 269.4,1223.4 270.9,1223.3 272.4,1223.2 273.9,1223.2 275.4,1223.1 276.9,1223.0 278.4,1222.9 279.9,1222.8 281.4,1222.7 282.9,1222.7 284.4,1222.6 285.9,1222.5 287.3,1222.4 288.8,1222.3 290.3,1222.2 291.8,1222.1 293.3,1222.0 294.8,1221.9 296.3,1221.8 297.8,1221.6 299.3,1221.5 300.8,1221.4 302.3,1221.3 303.8,1221.2 305.3,1221.1 306.8,1220.9 308.3,1220.8 309.8,1220.7 311.3,1220.6 312.8,1220.4 314.3,1220.3 315.8,1220.1 317.3,1220.0 318.7,1219.8 320.2,1219.6 321.7,1219.5 323.2,1219.3 324.7,1219.1 326.2,1218.9 327.7,1218.7 329.2,1218.5 330.6,1218.2 332.1,1218.0 333.6,1217.7 335.1,1217.5 336.5,1217.2 338.0,1216.9 339.5,1216.6 341.0,1216.3 342.4,1216.0 343.9,1215.6 345.3,1215.3 346.8,1214.8 348.2,1214.4 349.6,1213.9 351.0,1213.4 352.4,1212.9 353.8,1212.3 355.1,1211.6 356.4,1210.9 357.7,1210.2 359.0,1209.4 360.3,1208.6 361.5,1207.8 362.8,1206.9 364.0,1206.1 365.3,1205.3 366.5,1204.5 367.8,1203.7 369.1,1203.0 370.4,1202.2 371.7,1201.4 373.0,1200.7 374.3,1199.9 375.5,1199.1 376.8,1198.3 378.0,1197.4 379.3,1196.6 380.5,1195.7 381.7,1194.8 382.9,1193.9 384.1,1193.0 385.2,1192.0 386.4,1191.1 387.5,1190.1 388.6,1189.1 389.7,1188.1 390.8,1187.0 391.9,1186.0 393.0,1185.0 394.0,1183.9 395.1,1182.8 396.1,1181.8 397.2,1180.7 398.2,1179.6 399.2,1178.5 400.2,1177.4 401.2,1176.2 402.1,1175.1 403.1,1173.9 404.0,1172.7 404.9,1171.5 405.8,1170.3 406.7,1169.1 407.5,1167.9 408.4,1166.6 409.2,1165.4 410.0,1164.1 410.7,1162.8 411.5,1161.5 412.2,1160.2 412.9,1158.9 413.6,1157.6 414.3,1156.2 415.0,1154.9 415.6,1153.5 416.2,1152.2 416.8,1150.8 417.4,1149.4 418.0,1148.0 418.6,1146.6 419.1,1145.2 419.7,1143.9 420.2,1142.5 420.8,1141.1 421.4,1139.7 422.0,1138.3 422.6,1136.9 423.2,1135.6 423.8,1134.2 424.4,1132.8 425.0,1131.4 425.6,1130.1 426.1,1128.7 426.7,1127.3 427.2,1125.9 427.7,1124.5 428.2,1123.1 428.7,1121.6 429.2,1120.2 429.6,1118.8 430.1,1117.4 430.5,1115.9 431.0,1114.5 431.4,1113.1 431.8,1111.6 432.3,1110.2 432.7,1108.7 433.1,1107.3 433.5,1105.9 434.0,1104.4 434.4,1103.0 434.8,1101.5 435.2,1100.1 435.6,1098.6 435.9,1097.2 436.3,1095.7 436.7,1094.3 437.1,1092.8 437.4,1091.4 437.8,1089.9 438.1,1088.5 438.5,1087.0 438.8,1085.5 439.2,1084.1 439.6,1082.6 439.9,1081.2 440.3,1079.7 440.6,1078.3 441.0,1076.8 441.4,1075.4 441.7,1073.9 442.1,1072.4 442.4,1071.0 442.8,1069.5 443.1,1068.1 443.4,1066.6 443.7,1065.1 444.0,1063.7 444.4,1062.2 444.7,1060.7 445.0,1059.3 445.2,1057.8 445.5,1056.3 445.8,1054.8 446.1,1053.4 446.4,1051.9 446.7,1050.4 447.0,1049.0 447.3,1047.5 447.6,1046.0 447.9,1044.5 448.1,1043.1 448.4,1041.6 448.7,1040.1 449.0,1038.6 449.3,1037.2 449.6,1035.7 449.9,1034.2 450.2,1032.8 450.5,1031.3 450.8,1029.8 451.0,1028.3 451.3,1026.9 451.6,1025.4 451.9,1023.9 452.1,1022.4 452.4,1021.0 452.7,1019.5 452.9,1018.0 453.2,1016.5 453.4,1015.1 453.7,1013.6 453.9,1012.1 454.2,1010.6 454.4,1009.1 454.7,1007.7 455.0,1006.2 455.3,1004.7 455.6,1003.3 455.9,1001.8 456.2,1000.3 456.5,998.9 456.9,997.4 457.2,995.9 457.6,994.5 457.9,993.0 458.2,991.6 458.6,990.1 458.9,988.6 459.2,987.2 459.6,985.7 459.9,984.2 460.2,982.8 460.5,981.3 460.8,979.8 461.1,978.4 461.4,976.9 461.7,975.4 462.0,974.0 462.3,972.5 462.6,971.0 462.9,969.5 463.2,968.1 463.5,966.6 463.8,965.1 464.1,963.7 464.3,962.2 464.6,960.7 464.9,959.2 465.2,957.8 465.5,956.3 465.8,954.8 466.1,953.4 466.4,951.9 466.7,950.4 467.0,948.9 467.2,947.5 467.5,946.0 467.8,944.5 468.1,943.0 468.4,941.6 468.7,940.1 469.0,938.6 469.3,937.2 469.5,935.7 469.8,934.2 470.1,932.7 470.4,931.3 470.8,929.8 471.1,928.4 471.4,926.9 471.8,925.4 472.2,924.0 472.6,922.5 473.0,921.1 473.5,919.7 474.0,918.3 474.5,916.9 475.1,915.5 475.7,914.1 476.4,912.8 477.1,911.5 477.8,910.2 478.7,909.0 479.6,907.9 480.6,906.8 481.8,905.9 483.2,905.3 484.7,905.4 485.9,906.2 487.0,907.2 488.0,908.3 488.8,909.5 489.6,910.8 490.3,912.1 490.8,913.5 491.3,914.8 491.8,916.3 492.2,917.7 492.6,919.1 493.0,920.6 493.3,922.0 493.7,923.5 494.0,925.0 494.3,926.4 494.6,927.9 494.9,929.4 495.2,930.9 495.5,932.3 495.7,933.8 496.0,935.3 496.2,936.8 496.5,938.2 496.7,939.7 497.0,941.2 497.2,942.7 497.5,944.2 497.7,945.6 497.9,947.1 498.1,948.6 498.3,950.1 498.6,951.6 498.8,953.1 499.0,954.5 499.2,956.0 499.4,957.5 499.6,959.0 499.8,960.5 500.0,962.0 500.2,963.5 500.4,965.0 500.6,966.4 500.8,967.9 500.9,969.4 501.1,970.9 501.3,972.4 501.5,973.9 501.6,975.4 501.8,976.9 502.0,978.4 502.1,979.8 502.3,981.3 502.5,982.8 502.6,984.3 502.8,985.8 502.9,987.3 503.1,988.8 503.2,990.3 503.4,991.8 503.5,993.3 503.7,994.8 503.8,996.3 504.0,997.8 504.1,999.2 504.3,1000.7 504.4,1002.2 504.6,1003.7 504.7,1005.2 504.9,1006.7 505.0,1008.2 505.2,1009.7 505.3,1011.2 505.5,1012.7 505.6,1014.2 505.8,1015.7 505.9,1017.2 506.1,1018.6 506.2,1020.1 506.4,1021.6 506.5,1023.1 506.7,1024.6 506.8,1026.1 507.0,1027.6 507.1,1029.1 507.3,1030.6 507.4,1032.1 507.5,1033.6 507.6,1035.1 507.8,1036.6 507.9,1038.1 508.0,1039.6 508.1,1041.1 508.2,1042.5 508.4,1044.0 508.5,1045.5 508.6,1047.0 508.7,1048.5 508.8,1050.0 508.9,1051.5 509.0,1053.0 509.2,1054.5 509.3,1056.0 509.4,1057.5 509.5,1059.0 509.6,1060.5 509.7,1062.0 509.8,1063.5 509.9,1065.0 510.0,1066.5 510.1,1068.0 510.2,1069.5 510.3,1071.0 510.4,1072.5 510.6,1074.0 510.7,1075.5 510.8,1077.0 511.0,1078.4 511.1,1079.9 511.3,1081.4 511.4,1082.9 511.6,1084.4 511.8,1085.9 511.9,1087.4 512.1,1088.9 512.3,1090.4 512.5,1091.9 512.7,1093.3 512.9,1094.8 513.0,1096.3 513.2,1097.8 513.4,1099.3 513.6,1100.8 513.8,1102.3 514.0,1103.8 514.2,1105.3 514.3,1106.7 514.5,1108.2 514.7,1109.7 514.8,1111.2 515.0,1112.7 515.1,1114.2 515.3,1115.7 515.4,1117.2 515.6,1118.7 515.8,1120.2 515.9,1121.7 516.1,1123.2 516.2,1124.6 516.4,1126.1 516.5,1127.6 516.7,1129.1 516.8,1130.6 517.0,1132.1 517.2,1133.6 517.3,1135.1 517.5,1136.6 517.7,1138.1 517.9,1139.6 518.1,1141.0 518.3,1142.5 518.5,1144.0 518.7,1145.5 518.9,1147.0 519.1,1148.5 519.4,1149.9 519.6,1151.4 519.9,1152.9 520.2,1154.4 520.4,1155.8 520.7,1157.3 521.0,1158.8 521.3,1160.3 521.6,1161.7 522.0,1163.2 522.3,1164.7 522.6,1166.1 523.0,1167.6 523.4,1169.0 523.8,1170.5 524.3,1171.9 524.7,1173.3 525.2,1174.7 525.7,1176.1 526.2,1177.5 526.8,1178.9 527.3,1180.3 527.9,1181.7 528.5,1183.1 529.2,1184.4 529.8,1185.8 530.4,1187.1 531.1,1188.5 531.8,1189.8 532.5,1191.2 533.2,1192.5 533.9,1193.8 534.6,1195.1 535.4,1196.4 536.1,1197.7 536.9,1199.0 537.7,1200.3 538.5,1201.5 539.4,1202.7 540.4,1203.8 541.4,1204.9 542.4,1205.9 543.6,1206.9 544.7,1207.7 546.0,1208.6 547.3,1209.3 548.6,1210.1 549.9,1210.8 551.2,1211.5 552.6,1212.1 553.9,1212.7 555.3,1213.3 556.7,1213.9 558.1,1214.4 559.5,1214.9 560.9,1215.4 562.4,1215.8 563.8,1216.2 565.3,1216.5 566.7,1216.8 568.2,1217.1 569.7,1217.4 571.2,1217.6 572.6,1217.8 574.1,1218.0 575.6,1218.2 577.1,1218.3 578.6,1218.5 580.1,1218.6 581.6,1218.7 583.1,1218.8 584.6,1219.0 586.1,1219.0 587.6,1219.1 589.1,1219.2 590.6,1219.3 592.1,1219.3 593.6,1219.4 595.1,1219.5 596.6,1219.5 598.1,1219.5 599.6,1219.6 601.1,1219.6 602.6,1219.6 604.1,1219.7 605.6,1219.7 607.1,1219.7 608.6,1219.7 610.1,1219.7 611.6,1219.7 613.1,1219.6 614.6,1219.6 616.1,1219.5 617.6,1219.5 619.1,1219.4 620.6,1219.4 622.1,1219.3 623.6,1219.2 625.1,1219.2 626.6,1219.1 628.0,1219.0 629.5,1218.9 631.0,1218.8 632.5,1218.7 634.0,1218.6 635.5,1218.5 637.0,1218.4 638.5,1218.3 640.0,1218.2 641.5,1218.1 643.0,1218.0 644.5,1217.9 646.0,1217.8 647.5,1217.7 649.0,1217.6 650.5,1217.5 652.0,1217.4 653.5,1217.3 655.0,1217.2 656.5,1217.0 658.0,1216.9 659.5,1216.8 661.0,1216.7 662.5,1216.6 664.0,1216.5 665.5,1216.4 667.0,1216.3 668.5,1216.2 670.0,1216.2 671.4,1216.1 672.9,1216.0 674.4,1216.0 675.9,1216.0 677.4,1216.1 678.9,1216.2 680.4,1216.3 681.9,1216.5 683.4,1216.8 684.8,1217.1 686.3,1217.4 687.8,1217.7 689.2,1218.0 690.7,1218.4 692.1,1218.7 693.6,1219.0 695.1,1219.3 696.6,1219.6 698.0,1219.8 699.5,1220.0 701.0,1220.2 702.5,1220.4 704.0,1220.6 705.5,1220.8 707.0,1220.9 708.5,1221.0 710.0,1221.2 711.4,1221.3 712.9,1221.4 714.4,1221.5 715.9,1221.6 717.4,1221.6 718.9,1221.7 720.4,1221.8 721.9,1221.9 723.4,1221.9 724.9,1222.0 726.4,1222.0 727.9,1222.1 729.4,1222.1 730.9,1222.2 732.4,1222.2 733.9,1222.3 735.4,1222.3 736.9,1222.3 738.4,1222.4 739.9,1222.4 741.4,1222.4 742.9,1222.5 744.4,1222.5 745.9,1222.5 747.4,1222.5 748.9,1222.5 750.4,1222.6 751.9,1222.6 753.4,1222.6 754.9,1222.6 756.4,1222.6 757.9,1222.6 759.4,1222.6 760.9,1222.6 762.4,1222.6 763.9,1222.6 765.4,1222.6 766.9,1222.6 768.4,1222.7 769.9,1222.7 771.4,1222.7 772.9,1222.7 774.4,1222.6 775.9,1222.6 777.4,1222.6 778.9,1222.6 780.4,1222.6 781.9,1222.6 783.4,1222.6 784.9,1222.6 786.4,1222.6 787.9,1222.6 789.4,1222.6 790.9,1222.6 792.4,1222.6 793.9,1222.6 795.4,1222.6 796.9,1222.6 798.4,1222.5 799.9,1222.5 801.4,1222.5 802.9,1222.5 804.4,1222.5 805.9,1222.5 807.4,1222.5 808.9,1222.5 810.4,1222.5 811.9,1222.4 813.4,1222.4 814.9,1222.4 816.4,1222.4 817.9,1222.4 819.4,1222.4 820.9,1222.4 822.4,1222.3 823.9,1222.3 825.4,1222.3 826.9,1222.3 828.4,1222.3 829.9,1222.3 831.4,1222.3 832.9,1222.2 834.4,1222.2 835.9,1222.2 837.4,1222.2 838.9,1222.2 840.4,1222.2 841.9,1222.1 843.4,1222.1 844.9,1222.1 846.4,1222.1 847.9,1222.1 849.4,1222.0 850.9,1222.0 852.4,1222.0 853.9,1222.0 855.4,1221.9 856.9,1221.9 858.4,1221.9 859.9,1221.8 861.4,1221.8 862.9,1221.8 864.4,1221.8 865.9,1221.7 867.4,1221.7 868.9,1221.7 870.4,1221.6 871.9,1221.6 873.4,1221.6 874.9,1221.5 876.4,1221.5 877.9,1221.5 879.4,1221.4 880.9,1221.4 882.4,1221.4 883.9,1221.3 885.4,1221.3 886.9,1221.2 888.4,1221.2 889.9,1221.2 891.4,1221.1 892.9,1221.1 894.4,1221.1 895.9,1221.0 897.4,1221.0 898.9,1221.0 900.4,1220.9 901.9,1220.9 903.4,1220.8 904.9,1220.8 906.4,1220.8 907.9,1220.7 909.4,1220.7 910.9,1220.7 912.4,1220.6 913.9,1220.6 915.4,1220.6 916.9,1220.5 918.4,1220.5 918.9,1220.5"/>
<path stroke="#ff0000" d="M107.4,1225.4 108.9,1225.4 110.4,1225.4 111.9,1225.4 113.4,1225.4 114.9,1225.4 116.4,1225.5 117.9,1225.5 119.4,1225.5 120.9,1225.5 122.4,1225.5 123.9,1225.5 125.4,1225.5 126.9,1225.5 128.4,1225.5 129.9,1225.5 131.4,1225.5 132.9,1225.6 134.4,1225.6 135.9,1225.6 137.4,1225.6 138.9,1225.6 140.4,1225.6 141.9,1225.6 143.4,1225.6 144.9,1225.6 146.4,1225.6 147.9,1225.6 149.4,1225.6 150.9,1225.7 152.4,1225.7 153.9,1225.7 155.4,1225.7 156.9,1225.7 158.4,1225.7 159.9,1225.7 161.4,1225.7 162.9,1225.7 164.4,1225.7 165.9,1225.7 167.4,1225.8 168.9,1225.8 170.4,1225.8 171.9,1225.8 173.4,1225.8 174.9,1225.8 176.4,1225.8 177.9,1225.8 179.4,1225.8 180.9,1225.8 182.4,1225.8 183.9,1225.9 185.4,1225.9 186.9,1225.9 188.4,1225.9 189.9,1225.9 191.4,1225.9 192.9,1225.9 194.4,1225.9 195.9,1225.9 197.4,1225.9 198.9,1226.0 200.4,1226.0 201.9,1226.0 203.4,1226.0 204.9,1226.0 206.4,1226.0 207.9,1226.0 209.4,1226.0 210.9,1226.1 212.4,1226.1 213.9,1226.1 215.4,1226.1 216.9,1226.2 218.4,1226.2 219.9,1226.2 221.4,1226.2 222.9,1226.3 224.4,1226.3 225.9,1226.3 227.4,1226.3 228.9,1226.3 230.4,1226.4 231.9,1226.4 233.4,1226.4 234.9,1226.4 236.4,1226.4 237.9,1226.4 239.4,1226.4 240.9,1226.4 242.4,1226.4 243.9,1226.4 245.4,1226.4 246.9,1226.4 248.4,1226.4 249.9,1226.4 251.4,1226.4 252.9,1226.3 254.4,1226.3 255.9,1226.3 257.4,1226.3 258.9,1226.3 260.4,1226.2 261.9,1226.2 263.4,1226.2 264.9,1226.2 266.4,1226.2 267.9,1226.1 269.4,1226.1 270.9,1226.1 272.4,1226.1 273.9,1226.0 275.4,1226.0 276.9,1226.0 278.4,1225.9 279.9,1225.9 281.4,1225.8 282.9,1225.8 284.4,1225.8 285.9,1225.7 287.4,1225.7 288.9,1225.6 290.4,1225.6 291.9,1225.5 293.4,1225.4 294.9,1225.4 296.4,1225.3 297.9,1225.2 299.4,1225.1 300.9,1225.1 302.4,1225.0 303.9,1224.9 305.4,1224.8 306.9,1224.6 308.4,1224.5 309.9,1224.4 311.4,1224.2 312.9,1224.1 314.4,1223.9 315.9,1223.7 317.3,1223.5 318.8,1223.3 320.3,1223.1 321.8,1222.9 323.3,1222.6 324.8,1222.4 326.2,1222.1 327.7,1221.8 329.2,1221.6 330.7,1221.3 332.1,1221.0 333.6,1220.7 335.1,1220.4 336.5,1220.1 338.0,1219.8 339.5,1219.6 341.0,1219.3 342.4,1219.0 343.9,1218.7 345.4,1218.4 346.8,1218.1 348.3,1217.7 349.8,1217.4 351.2,1217.0 352.7,1216.6 354.1,1216.1 355.5,1215.7 356.9,1215.2 358.3,1214.7 359.7,1214.1 361.1,1213.6 362.5,1213.0 363.9,1212.5 365.3,1211.9 366.7,1211.3 368.0,1210.7 369.4,1210.1 370.8,1209.4 372.1,1208.8 373.5,1208.2 374.9,1207.6 376.2,1206.9 377.5,1206.2 378.9,1205.5 380.2,1204.8 381.4,1204.0 382.7,1203.2 383.9,1202.3 385.1,1201.5 386.3,1200.6 387.5,1199.6 388.7,1198.7 389.8,1197.7 390.9,1196.7 392.0,1195.7 393.1,1194.6 394.1,1193.5 395.2,1192.5 396.2,1191.4 397.2,1190.3 398.2,1189.1 399.1,1188.0 400.1,1186.8 401.0,1185.6 401.9,1184.4 402.8,1183.2 403.6,1182.0 404.4,1180.7 405.2,1179.4 406.0,1178.2 406.8,1176.9 407.5,1175.6 408.2,1174.3 408.9,1172.9 409.6,1171.6 410.3,1170.3 411.0,1168.9 411.6,1167.6 412.3,1166.2 412.9,1164.9 413.5,1163.5 414.2,1162.1 414.8,1160.8 415.4,1159.4 415.9,1158.0 416.5,1156.6 417.1,1155.2 417.6,1153.8 418.1,1152.4 418.7,1151.0 419.2,1149.6 419.6,1148.2 420.1,1146.8 420.6,1145.3 421.0,1143.9 421.5,1142.5 421.9,1141.0 422.3,1139.6 422.8,1138.1 423.2,1136.7 423.6,1135.3 424.0,1133.8 424.5,1132.4 424.9,1131.0 425.3,1129.5 425.7,1128.1 426.1,1126.6 426.6,1125.2 427.0,1123.7 427.4,1122.3 427.8,1120.9 428.2,1119.4 428.5,1118.0 428.9,1116.5 429.3,1115.1 429.6,1113.6 430.0,1112.1 430.3,1110.7 430.7,1109.2 431.0,1107.8 431.3,1106.3 431.7,1104.8 432.0,1103.4 432.3,1101.9 432.7,1100.4 433.0,1099.0 433.3,1097.5 433.6,1096.0 434.0,1094.6 434.3,1093.1 434.6,1091.6 434.9,1090.2 435.2,1088.7 435.5,1087.2 435.8,1085.8 436.1,1084.3 436.4,1082.8 436.7,1081.3 436.9,1079.9 437.2,1078.4 437.4,1076.9 437.7,1075.4 438.0,1074.0 438.3,1072.5 438.6,1071.0 438.9,1069.6 439.2,1068.1 439.6,1066.6 439.9,1065.2 440.3,1063.7 440.7,1062.3 441.1,1060.8 441.5,1059.4 441.9,1057.9 442.3,1056.5 442.6,1055.0 443.0,1053.6 443.3,1052.1 443.7,1050.7 444.0,1049.2 444.3,1047.7 444.6,1046.3 444.9,1044.8 445.2,1043.3 445.5,1041.8 445.8,1040.4 446.1,1038.9 446.4,1037.4 446.7,1036.0 446.9,1034.5 447.2,1033.0 447.5,1031.5 447.8,1030.1 448.0,1028.6 448.3,1027.1 448.5,1025.6 448.8,1024.1 449.0,1022.7 449.3,1021.2 449.5,1019.7 449.8,1018.2 450.0,1016.7 450.2,1015.3 450.5,1013.8 450.7,1012.3 450.9,1010.8 451.2,1009.3 451.4,1007.8 451.7,1006.4 451.9,1004.9 452.2,1003.4 452.4,1001.9 452.7,1000.5 453.0,999.0 453.2,997.5 453.5,996.0 453.8,994.6 454.1,993.1 454.4,991.6 454.7,990.2 455.0,988.7 455.3,987.2 455.6,985.7 455.8,984.3 456.1,982.8 456.3,981.3 456.6,979.8 456.8,978.3 457.0,976.9 457.3,975.4 457.5,973.9 457.7,972.4 457.9,970.9 458.1,969.4 458.3,967.9 458.6,966.5 458.8,965.0 459.0,963.5 459.2,962.0 459.4,960.5 459.6,959.0 459.8,957.6 460.0,956.1 460.3,954.6 460.5,953.1 460.7,951.6 460.9,950.1 461.1,948.6 461.3,947.1 461.5,945.7 461.7,944.2 461.9,942.7 462.1,941.2 462.3,939.7 462.5,938.2 462.7,936.7 462.9,935.3 463.2,933.8 463.4,932.3 463.6,930.8 463.8,929.3 464.0,927.8 464.2,926.3 464.4,924.9 464.6,923.4 464.8,921.9 465.0,920.4 465.2,918.9 465.5,917.4 465.7,916.0 466.0,914.5 466.2,913.0 466.5,911.5 466.7,910.0 467.0,908.6 467.3,907.1 467.6,905.6 467.9,904.1 468.2,902.7 468.4,901.2 468.7,899.7 469.0,898.3 469.3,896.8 469.6,895.3 469.8,893.8 470.1,892.4 470.3,890.9 470.6,889.4 470.8,887.9 471.1,886.4 471.3,885.0 471.6,883.5 471.9,882.0 472.2,880.5 472.5,879.1 472.9,877.6 473.2,876.2 473.6,874.7 474.0,873.3 474.5,871.8 474.9,870.4 475.4,869.0 476.0,867.6 476.5,866.2 477.1,864.8 477.7,863.5 478.4,862.2 479.1,860.8 479.8,859.5 480.5,858.3 481.3,857.0 482.3,855.8 483.7,855.3 484.9,856.2 485.8,857.4 486.6,858.7 487.3,860.0 488.0,861.3 488.6,862.6 489.2,864.0 489.7,865.4 490.2,866.8 490.6,868.2 491.0,869.7 491.4,871.1 491.7,872.6 492.1,874.1 492.4,875.5 492.7,877.0 492.9,878.5 493.2,879.9 493.5,881.4 493.7,882.9 493.9,884.4 494.1,885.9 494.3,887.4 494.5,888.9 494.7,890.3 494.9,891.8 495.1,893.3 495.3,894.8 495.5,896.3 495.7,897.8 495.9,899.3 496.1,900.8 496.3,902.2 496.4,903.7 496.6,905.2 496.8,906.7 497.0,908.2 497.2,909.7 497.3,911.2 497.5,912.7 497.7,914.2 497.9,915.6 498.0,917.1 498.2,918.6 498.4,920.1 498.6,921.6 498.7,923.1 498.9,924.6 499.1,926.1 499.2,927.6 499.4,929.1 499.6,930.6 499.7,932.0 499.9,933.5 500.1,935.0 500.2,936.5 500.4,938.0 500.6,939.5 500.7,941.0 500.9,942.5 501.1,944.0 501.3,945.5 501.4,947.0 501.6,948.4 501.8,949.9 502.0,951.4 502.3,952.9 502.5,954.4 502.7,955.9 502.9,957.4 503.1,958.8 503.3,960.3 503.5,961.8 503.7,963.3 503.8,964.8 504.0,966.3 504.1,967.8 504.2,969.3 504.4,970.8 504.5,972.3 504.6,973.8 504.7,975.3 504.8,976.8 504.9,978.2 505.1,979.7 505.2,981.2 505.3,982.7 505.4,984.2 505.5,985.7 505.6,987.2 505.7,988.7 505.9,990.2 506.0,991.7 506.1,993.2 506.2,994.7 506.3,996.2 506.5,997.7 506.6,999.2 506.7,1000.7 506.8,1002.2 506.9,1003.7 507.0,1005.2 507.2,1006.7 507.3,1008.2 507.4,1009.7 507.5,1011.2 507.6,1012.7 507.7,1014.1 507.9,1015.6 508.0,1017.1 508.1,1018.6 508.2,1020.1 508.3,1021.6 508.4,1023.1 508.6,1024.6 508.7,1026.1 508.8,1027.6 508.9,1029.1 509.0,1030.6 509.1,1032.1 509.3,1033.6 509.4,1035.1 509.5,1036.6 509.6,1038.1 509.7,1039.6 509.9,1041.1 510.0,1042.6 510.1,1044.1 510.2,1045.6 510.3,1047.1 510.5,1048.6 510.6,1050.0 510.7,1051.5 510.8,1053.0 510.9,1054.5 511.1,1056.0 511.2,1057.5 511.3,1059.0 511.4,1060.5 511.6,1062.0 511.7,1063.5 511.8,1065.0 511.9,1066.5 512.1,1068.0 512.2,1069.5 512.3,1071.0 512.5,1072.5 512.6,1074.0 512.7,1075.5 512.9,1077.0 513.0,1078.4 513.2,1079.9 513.3,1081.4 513.5,1082.9 513.7,1084.4 513.8,1085.9 514.0,1087.4 514.2,1088.9 514.3,1090.4 514.5,1091.9 514.7,1093.4 514.9,1094.9 515.0,1096.3 515.2,1097.8 515.4,1099.3 515.5,1100.8 515.7,1102.3 515.9,1103.8 516.1,1105.3 516.2,1106.8 516.4,1108.3 516.6,1109.8 516.7,1111.2 516.9,1112.7 517.1,1114.2 517.2,1115.7 517.4,1117.2 517.5,1118.7 517.7,1120.2 517.9,1121.7 518.0,1123.2 518.2,1124.7 518.3,1126.2 518.5,1127.7 518.7,1129.1 518.8,1130.6 519.0,1132.1 519.2,1133.6 519.4,1135.1 519.5,1136.6 519.7,1138.1 519.9,1139.6 520.1,1141.1 520.3,1142.6 520.5,1144.0 520.7,1145.5 520.9,1147.0 521.1,1148.5 521.3,1150.0 521.6,1151.5 521.8,1152.9 522.0,1154.4 522.3,1155.9 522.5,1157.4 522.8,1158.9 523.0,1160.3 523.3,1161.8 523.5,1163.3 523.8,1164.8 524.1,1166.3 524.3,1167.7 524.6,1169.2 525.0,1170.7 525.3,1172.1 525.6,1173.6 526.0,1175.0 526.4,1176.5 526.9,1177.9 527.4,1179.3 528.0,1180.7 528.6,1182.0 529.3,1183.4 530.0,1184.7 530.7,1186.0 531.4,1187.3 532.1,1188.6 532.8,1189.9 533.5,1191.3 534.2,1192.6 534.9,1193.9 535.6,1195.3 536.3,1196.6 537.1,1197.9 537.8,1199.2 538.6,1200.4 539.4,1201.7 540.3,1202.8 541.3,1204.0 542.3,1205.1 543.4,1206.1 544.5,1207.0 545.7,1207.9 547.0,1208.7 548.2,1209.5 549.5,1210.2 550.9,1210.9 552.2,1211.6 553.6,1212.2 554.9,1212.8 556.3,1213.4 557.7,1213.9 559.1,1214.4 560.6,1214.9 562.0,1215.3 563.4,1215.7 564.9,1216.1 566.4,1216.4 567.8,1216.7 569.3,1217.0 570.8,1217.3 572.3,1217.5 573.7,1217.7 575.2,1217.9 576.7,1218.1 578.2,1218.3 579.7,1218.5 581.2,1218.6 582.7,1218.8 584.2,1218.9 585.7,1219.1 587.2,1219.2 588.6,1219.3 590.1,1219.5 591.6,1219.6 593.1,1219.7 594.6,1219.7 596.1,1219.8 597.6,1219.9 599.1,1219.9 600.6,1220.0 602.1,1220.0 603.6,1220.0 605.1,1220.1 606.6,1220.1 608.1,1220.1 609.6,1220.1 611.1,1220.0 612.6,1220.0 614.1,1220.0 615.6,1219.9 617.1,1219.8 618.6,1219.8 620.1,1219.7 621.6,1219.6 623.1,1219.6 624.6,1219.5 626.1,1219.4 627.6,1219.3 629.1,1219.3 630.6,1219.2 632.1,1219.1 633.6,1219.0 635.1,1218.9 636.6,1218.8 638.1,1218.8 639.6,1218.7 641.1,1218.6 642.6,1218.5 644.1,1218.5 645.6,1218.4 647.1,1218.3 648.6,1218.3 650.1,1218.2 651.6,1218.1 653.1,1218.1 654.6,1218.1 656.1,1218.0 657.6,1218.0 659.1,1218.0 660.6,1218.0 662.1,1218.0 663.6,1218.0 665.1,1218.0 666.6,1218.0 668.1,1218.1 669.6,1218.1 671.1,1218.2 672.6,1218.3 674.1,1218.4 675.6,1218.5 677.1,1218.6 678.6,1218.8 680.1,1218.9 681.5,1219.1 683.0,1219.2 684.5,1219.4 686.0,1219.6 687.5,1219.8 689.0,1220.0 690.5,1220.2 692.0,1220.4 693.5,1220.5 695.0,1220.7 696.4,1220.9 697.9,1221.1 699.4,1221.2 700.9,1221.4 702.4,1221.6 703.9,1221.7 705.4,1221.8 706.9,1222.0 708.4,1222.1 709.9,1222.2 711.4,1222.3 712.9,1222.3 714.4,1222.4 715.9,1222.5 717.4,1222.6 718.9,1222.6 720.4,1222.7 721.9,1222.7 723.4,1222.8 724.9,1222.8 726.4,1222.9 727.9,1222.9 729.4,1222.9 730.9,1223.0 732.4,1223.0 733.9,1223.0 735.4,1223.1 736.9,1223.1 738.4,1223.1 739.9,1223.1 741.4,1223.2 742.9,1223.2 744.4,1223.2 745.9,1223.2 747.4,1223.2 748.9,1223.2 750.4,1223.2 751.9,1223.3 753.4,1223.3 754.9,1223.3 756.4,1223.3 757.9,1223.3 759.4,1223.3 760.9,1223.3 762.4,1223.3 763.9,1223.3 765.4,1223.3 766.9,1223.3 768.4,1223.3 769.9,1223.3 771.4,1223.3 772.9,1223.3 774.4,1223.3 775.9,1223.3 777.4,1223.3 778.9,1223.3 780.4,1223.3 781.9,1223.2 783.4,1223.2 784.9,1223.2 786.4,1223.2 787.9,1223.2 789.4,1223.2 790.9,1223.1 792.4,1223.1 793.9,1223.1 795.4,1223.0 796.9,1223.0 798.4,1223.0 799.9,1222.9 801.4,1222.9 802.9,1222.9 804.4,1222.8 805.9,1222.8 807.4,1222.8 808.9,1222.7 810.4,1222.7 811.9,1222.7 813.4,1222.6 814.9,1222.6 816.4,1222.6 817.9,1222.5 819.4,1222.5 820.9,1222.5 822.4,1222.4 823.9,1222.4 825.4,1222.4 826.9,1222.3 828.4,1222.3 829.9,1222.3 831.4,1222.3 832.9,1222.3 834.4,1222.2 835.9,1222.2 837.4,1222.2 838.9,1222.2 840.4,1222.2 841.9,1222.1 843.4,1222.1 844.9,1222.1 846.4,1222.1 847.9,1222.1 849.4,1222.1 850.9,1222.1 852.4,1222.1 853.9,1222.1 855.4,1222.0 856.9,1222.0 858.4,1222.0 859.9,1222.0 861.4,1222.0 862.9,1222.0 864.4,1222.0 865.9,1222.0 867.4,1222.0 868.9,1222.0 870.4,1222.0 871.9,1222.0 873.4,1222.0 874.9,1222.0 876.4,1221.9 877.9,1221.9 879.4,1221.9 880.9,1221.9 882.4,1221.9 883.9,1221.9 885.4,1221.9 886.9,1221.9 888.4,1221.9 889.9,1221.9 891.4,1221.9 892.9,1221.9 894.4,1221.9 895.9,1221.9 897.4,1221.9 898.9,1221.9 900.4,1221.9 901.9,1221.9 903.4,1221.9 904.9,1221.9 906.4,1221.9 907.9,1221.8 909.4,1221.8 910.9,1221.8 912.4,1221.8 913.9,1221.8 915.4,1221.8 916.9,1221.8 918.4,1221.8 918.9,1221.8"/>
<path stroke="#0000ff" d="M107.4,1223.9 108.9,1223.9 110.4,1223.9 111.9,1224.0 113.4,1224.0 114.9,1224.0 116.4,1224.0 117.9,1224.1 119.4,1224.1 120.9,1224.1 122.4,1224.2 123.9,1224.2 125.4,1224.2 126.9,1224.2 128.4,1224.3 129.9,1224.3 131.4,1224.3 132.9,1224.4 134.4,1224.4 135.9,1224.4 137.4,1224.4 138.9,1224.5 140.4,1224.5 141.9,1224.5 143.4,1224.6 144.9,1224.6 146.4,1224.6 147.9,1224.7 149.4,1224.7 150.9,1224.7 152.4,1224.7 153.9,1224.8 155.4,1224.8 156.9,1224.8 158.4,1224.9 159.9,1224.9 161.4,1224.9 162.9,1224.9 164.4,1225.0 165.9,1225.0 167.4,1225.0 168.9,1225.0 170.4,1225.1 171.9,1225.1 173.4,1225.1 174.9,1225.1 176.4,1225.2 177.9,1225.2 179.4,1225.2 180.9,1225.2 182.4,1225.2 183.9,1225.3 185.4,1225.3 186.9,1225.3 188.4,1225.3 189.9,1225.3 191.4,1225.3 192.9,1225.4 194.4,1225.4 195.9,1225.4 197.4,1225.4 198.9,1225.4 200.4,1225.4 201.9,1225.4 203.4,1225.4 204.9,1225.4 206.4,1225.4 207.9,1225.4 209.4,1225.4 210.9,1225.4 212.4,1225.4 213.9,1225.4 215.4,1225.4 216.9,1225.4 218.4,1225.4 219.9,1225.4 221.4,1225.3 222.9,1225.3 224.4,1225.3 225.9,1225.3 227.4,1225.3 228.9,1225.3 230.4,1225.3 231.9,1225.3 233.4,1225.2 234.9,1225.2 236.4,1225.2 237.9,1225.2 239.4,1225.1 240.9,1225.1 242.4,1225.1 243.9,1225.1 245.4,1225.0 246.9,1225.0 248.4,1225.0 249.9,1224.9 251.4,1224.9 252.9,1224.9 254.4,1224.8 255.9,1224.8 257.4,1224.7 258.9,1224.7 260.4,1224.6 261.9,1224.6 263.4,1224.5 264.9,1224.5 266.4,1224.4 267.9,1224.3 269.4,1224.3 270.9,1224.2 272.4,1224.1 273.9,1224.1 275.4,1224.0 276.9,1223.9 278.4,1223.9 279.9,1223.8 281.4,1223.7 282.9,1223.7 284.4,1223.6 285.9,1223.5 287.4,1223.4 288.9,1223.3 290.4,1223.2 291.9,1223.1 293.4,1223.0 294.9,1222.9 296.4,1222.8 297.9,1222.7 299.4,1222.6 300.9,1222.4 302.3,1222.3 303.8,1222.1 305.3,1221.9 306.8,1221.8 308.3,1221.6 309.8,1221.3 311.3,1221.1 312.7,1220.9 314.2,1220.6 315.7,1220.3 317.2,1220.0 318.6,1219.6 320.1,1219.3 321.5,1218.9 323.0,1218.6 324.4,1218.2 325.9,1217.8 327.3,1217.3 328.8,1216.9 330.2,1216.5 331.6,1216.1 333.1,1215.6 334.5,1215.2 335.9,1214.8 337.4,1214.3 338.8,1213.9 340.2,1213.4 341.7,1212.9 343.1,1212.5 344.5,1212.0 345.9,1211.5 347.3,1210.9 348.7,1210.4 350.1,1209.8 351.5,1209.2 352.8,1208.6 354.2,1207.9 355.5,1207.3 356.8,1206.5 358.1,1205.8 359.4,1205.1 360.7,1204.3 362.0,1203.5 363.2,1202.6 364.5,1201.8 365.7,1200.9 366.9,1200.1 368.1,1199.2 369.3,1198.2 370.5,1197.3 371.7,1196.4 372.9,1195.5 374.1,1194.6 375.3,1193.7 376.5,1192.8 377.6,1191.9 378.8,1191.0 380.0,1190.0 381.1,1189.0 382.2,1188.0 383.3,1187.0 384.4,1185.9 385.4,1184.9 386.5,1183.8 387.5,1182.7 388.5,1181.6 389.5,1180.5 390.5,1179.4 391.5,1178.3 392.5,1177.1 393.4,1176.0 394.4,1174.8 395.3,1173.6 396.2,1172.4 397.2,1171.3 398.1,1170.0 398.9,1168.8 399.8,1167.6 400.6,1166.4 401.5,1165.1 402.3,1163.9 403.1,1162.6 403.9,1161.3 404.7,1160.0 405.4,1158.7 406.2,1157.4 406.9,1156.1 407.6,1154.8 408.3,1153.5 409.0,1152.2 409.7,1150.8 410.3,1149.5 411.0,1148.1 411.7,1146.8 412.3,1145.4 412.9,1144.1 413.6,1142.7 414.2,1141.3 414.8,1140.0 415.4,1138.6 416.0,1137.2 416.6,1135.8 417.2,1134.5 417.7,1133.1 418.3,1131.7 418.9,1130.3 419.4,1128.9 419.9,1127.5 420.4,1126.1 420.9,1124.7 421.4,1123.2 421.9,1121.8 422.4,1120.4 422.9,1119.0 423.4,1117.6 423.8,1116.1 424.3,1114.7 424.8,1113.3 425.2,1111.9 425.7,1110.4 426.1,1109.0 426.5,1107.6 427.0,1106.1 427.4,1104.7 427.8,1103.2 428.3,1101.8 428.7,1100.4 429.1,1098.9 429.5,1097.5 429.9,1096.0 430.4,1094.6 430.8,1093.2 431.2,1091.7 431.6,1090.3 432.0,1088.8 432.4,1087.4 432.8,1085.9 433.2,1084.5 433.7,1083.1 434.1,1081.6 434.6,1080.2 435.0,1078.8 435.4,1077.3 435.9,1075.9 436.3,1074.5 436.7,1073.0 437.2,1071.6 437.5,1070.1 437.9,1068.7 438.3,1067.2 438.6,1065.8 438.9,1064.3 439.2,1062.8 439.5,1061.4 439.8,1059.9 440.1,1058.4 440.4,1056.9 440.7,1055.5 440.9,1054.0 441.2,1052.5 441.5,1051.1 441.9,1049.6 442.2,1048.1 442.5,1046.7 442.8,1045.2 443.2,1043.7 443.5,1042.3 443.9,1040.8 444.3,1039.4 444.7,1037.9 445.1,1036.5 445.5,1035.0 445.9,1033.6 446.3,1032.2 446.8,1030.7 447.3,1029.3 447.7,1027.9 448.2,1026.5 448.7,1025.0 449.1,1023.6 449.6,1022.2 450.0,1020.7 450.4,1019.3 450.8,1017.8 451.1,1016.4 451.5,1014.9 451.8,1013.5 452.2,1012.0 452.5,1010.5 452.8,1009.1 453.1,1007.6 453.4,1006.1 453.7,1004.7 454.1,1003.2 454.4,1001.7 454.7,1000.3 454.9,998.8 455.2,997.3 455.5,995.9 455.8,994.4 456.1,992.9 456.4,991.4 456.7,990.0 457.0,988.5 457.3,987.0 457.6,985.6 458.0,984.1 458.3,982.6 458.7,981.2 459.1,979.7 459.5,978.3 459.8,976.8 460.2,975.4 460.6,973.9 461.0,972.5 461.4,971.1 461.8,969.6 462.2,968.2 462.6,966.7 463.1,965.3 463.5,963.8 463.9,962.4 464.3,960.9 464.7,959.5 465.1,958.1 465.6,956.6 466.0,955.2 466.4,953.8 466.9,952.3 467.4,950.9 467.8,949.5 468.3,948.1 468.8,946.7 469.4,945.3 470.0,943.9 470.6,942.5 471.2,941.2 472.0,939.9 472.8,938.7 473.6,937.5 474.5,936.3 475.5,935.1 476.6,934.1 478.0,933.7 479.4,934.2 480.6,935.2 481.6,936.3 482.5,937.5 483.4,938.7 484.1,939.9 484.8,941.2 485.4,942.6 485.9,944.0 486.4,945.4 486.9,946.8 487.3,948.2 487.7,949.7 488.1,951.1 488.4,952.6 488.8,954.0 489.2,955.5 489.5,957.0 489.9,958.4 490.2,959.9 490.5,961.3 490.9,962.8 491.2,964.3 491.5,965.7 491.7,967.2 492.0,968.7 492.3,970.2 492.5,971.7 492.8,973.1 493.0,974.6 493.2,976.1 493.4,977.6 493.7,979.1 493.9,980.6 494.1,982.0 494.3,983.5 494.5,985.0 494.7,986.5 494.9,988.0 495.2,989.5 495.4,990.9 495.6,992.4 495.8,993.9 496.0,995.4 496.2,996.9 496.4,998.4 496.6,999.9 496.7,1001.4 496.9,1002.8 497.1,1004.3 497.3,1005.8 497.4,1007.3 497.6,1008.8 497.8,1010.3 497.9,1011.8 498.1,1013.3 498.2,1014.8 498.4,1016.3 498.5,1017.8 498.7,1019.3 498.8,1020.8 499.0,1022.2 499.1,1023.7 499.2,1025.2 499.4,1026.7 499.5,1028.2 499.7,1029.7 499.8,1031.2 500.0,1032.7 500.1,1034.2 500.3,1035.7 500.4,1037.2 500.5,1038.7 500.7,1040.2 500.8,1041.7 501.0,1043.2 501.1,1044.6 501.3,1046.1 501.4,1047.6 501.6,1049.1 501.7,1050.6 501.8,1052.1 502.0,1053.6 502.1,1055.1 502.3,1056.6 502.4,1058.1 502.6,1059.6 502.7,1061.1 502.9,1062.6 503.0,1064.1 503.2,1065.5 503.3,1067.0 503.5,1068.5 503.6,1070.0 503.8,1071.5 503.9,1073.0 504.1,1074.5 504.2,1076.0 504.4,1077.5 504.6,1079.0 504.8,1080.5 505.0,1082.0 505.1,1083.4 505.3,1084.9 505.5,1086.4 505.7,1087.9 505.9,1089.4 506.1,1090.9 506.3,1092.4 506.5,1093.9 506.7,1095.3 506.9,1096.8 507.1,1098.3 507.3,1099.8 507.5,1101.3 507.7,1102.8 507.9,1104.3 508.1,1105.8 508.2,1107.2 508.4,1108.7 508.6,1110.2 508.7,1111.7 508.9,1113.2 509.0,1114.7 509.2,1116.2 509.3,1117.7 509.5,1119.2 509.6,1120.7 509.8,1122.2 509.9,1123.7 510.1,1125.2 510.2,1126.6 510.4,1128.1 510.5,1129.6 510.7,1131.1 510.9,1132.6 511.0,1134.1 511.2,1135.6 511.4,1137.1 511.6,1138.6 511.8,1140.1 512.0,1141.5 512.2,1143.0 512.5,1144.5 512.7,1146.0 512.9,1147.5 513.1,1149.0 513.4,1150.4 513.6,1151.9 513.8,1153.4 514.1,1154.9 514.3,1156.4 514.5,1157.8 514.8,1159.3 515.1,1160.8 515.3,1162.3 515.6,1163.8 515.9,1165.2 516.2,1166.7 516.5,1168.2 516.8,1169.6 517.1,1171.1 517.5,1172.6 517.8,1174.0 518.2,1175.5 518.6,1176.9 519.0,1178.4 519.5,1179.8 519.9,1181.2 520.4,1182.6 520.9,1184.0 521.4,1185.4 522.0,1186.8 522.6,1188.2 523.2,1189.6 523.8,1190.9 524.5,1192.3 525.2,1193.6 525.9,1194.9 526.7,1196.2 527.5,1197.4 528.4,1198.6 529.3,1199.8 530.3,1200.9 531.3,1202.0 532.4,1203.1 533.5,1204.1 534.6,1205.1 535.8,1206.0 537.0,1206.9 538.2,1207.8 539.4,1208.6 540.7,1209.4 542.0,1210.1 543.3,1210.9 544.6,1211.5 546.0,1212.2 547.4,1212.8 548.7,1213.3 550.1,1213.9 551.6,1214.3 553.0,1214.8 554.4,1215.2 555.9,1215.5 557.3,1215.9 558.8,1216.2 560.3,1216.5 561.8,1216.8 563.2,1217.0 564.7,1217.3 566.2,1217.5 567.7,1217.7 569.2,1217.9 570.7,1218.1 572.1,1218.3 573.6,1218.4 575.1,1218.6 576.6,1218.7 578.1,1218.9 579.6,1219.0 581.1,1219.1 582.6,1219.2 584.1,1219.3 585.6,1219.4 587.1,1219.5 588.6,1219.6 590.1,1219.6 591.6,1219.7 593.1,1219.8 594.6,1219.8 596.1,1219.9 597.6,1219.9 599.1,1220.0 600.6,1220.0 602.1,1220.0 603.6,1220.1 605.1,1220.1 606.6,1220.1 608.1,1220.1 609.6,1220.1 611.1,1220.0 612.6,1220.0 614.1,1220.0 615.6,1219.9 617.1,1219.8 618.6,1219.8 620.1,1219.7 621.6,1219.6 623.1,1219.5 624.6,1219.4 626.1,1219.4 627.6,1219.3 629.1,1219.2 630.6,1219.1 632.1,1219.0 633.6,1218.9 635.1,1218.8 636.5,1218.7 638.0,1218.6 639.5,1218.5 641.0,1218.4 642.5,1218.3 644.0,1218.2 645.5,1218.1 647.0,1218.0 648.5,1217.9 650.0,1217.9 651.5,1217.8 653.0,1217.8 654.5,1217.7 656.0,1217.7 657.5,1217.6 659.0,1217.6 660.5,1217.6 662.0,1217.6 663.5,1217.6 665.0,1217.7 666.5,1217.7 668.0,1217.8 669.5,1217.9 671.0,1217.9 672.5,1218.0 674.0,1218.1 675.5,1218.2 677.0,1218.4 678.5,1218.5 680.0,1218.6 681.5,1218.8 683.0,1218.9 684.5,1219.0 686.0,1219.2 687.5,1219.4 689.0,1219.5 690.4,1219.7 691.9,1219.8 693.4,1220.0 694.9,1220.1 696.4,1220.2 697.9,1220.4 699.4,1220.5 700.9,1220.6 702.4,1220.7 703.9,1220.8 705.4,1220.9 706.9,1221.0 708.4,1221.1 709.9,1221.2 711.4,1221.2 712.9,1221.3 714.4,1221.3 715.9,1221.4 717.4,1221.4 718.9,1221.4 720.4,1221.5 721.9,1221.5 723.4,1221.5 724.9,1221.5 726.4,1221.5 727.9,1221.5 729.4,1221.5 730.9,1221.6 732.4,1221.6 733.9,1221.6 735.4,1221.5 736.9,1221.5 738.4,1221.5 739.9,1221.5 741.4,1221.5 742.9,1221.5 744.4,1221.5 745.9,1221.5 747.4,1221.5 748.9,1221.5 750.4,1221.4 751.9,1221.4 753.4,1221.4 754.9,1221.4 756.4,1221.4 757.9,1221.3 759.4,1221.3 760.9,1221.3 762.4,1221.3 763.9,1221.3 765.4,1221.3 766.9,1221.3 768.4,1221.2 769.9,1221.2 771.4,1221.2 772.9,1221.2 774.4,1221.2 775.9,1221.2 777.4,1221.2 778.9,1221.2 780.4,1221.2 781.9,1221.1 783.4,1221.1 784.9,1221.1 786.4,1221.1 787.9,1221.1 789.4,1221.1 790.9,1221.1 792.4,1221.1 793.9,1221.0 795.4,1221.0 796.9,1221.0 798.4,1221.0 799.9,1221.0 801.4,1221.0 802.9,1220.9 804.4,1220.9 805.9,1220.9 807.4,1220.9 808.9,1220.9 810.4,1220.9 811.9,1220.8 813.4,1220.8 814.9,1220.8 816.4,1220.8 817.9,1220.8 819.4,1220.7 820.9,1220.7 822.4,1220.7 823.9,1220.7 825.4,1220.7 826.9,1220.6 828.4,1220.6 829.9,1220.6 831.4,1220.6 832.9,1220.6 834.4,1220.5 835.9,1220.5 837.4,1220.5 838.9,1220.5 840.4,1220.4 841.9,1220.4 843.4,1220.4 844.9,1220.4 846.4,1220.3 847.9,1220.3 849.4,1220.3 850.9,1220.3 852.4,1220.2 853.9,1220.2 855.4,1220.2 856.9,1220.2 858.4,1220.1 859.9,1220.1 861.4,1220.1 862.9,1220.1 864.4,1220.0 865.9,1220.0 867.4,1220.0 868.9,1220.0 870.4,1219.9 871.9,1219.9 873.4,1219.9 874.9,1219.8 876.4,1219.8 877.9,1219.8 879.4,1219.8 880.9,1219.7 882.4,1219.7 883.9,1219.7 885.4,1219.6 886.9,1219.6 888.4,1219.6 889.9,1219.6 891.4,1219.5 892.9,1219.5 894.4,1219.5 895.9,1219.4 897.4,1219.4 898.9,1219.4 900.4,1219.3 901.9,1219.3 903.4,1219.3 904.9,1219.3 906.4,1219.2 907.9,1219.2 909.4,1219.2 910.9,1219.1 912.4,1219.1 913.9,1219.1 915.4,1219.1 916.9,1219.0 918.4,1219.0 918.9,1219.0"/>
<path stroke="#008080" d="M107.4,1224.7 108.9,1224.8 110.4,1224.9 111.9,1224.9 113.4,1225.0 114.9,1225.1 116.4,1225.2 117.9,1225.3 119.4,1225.3 120.9,1225.4 122.4,1225.5 123.9,1225.6 125.4,1225.7 126.9,1225.8 128.4,1225.9 129.9,1225.9 131.4,1226.0 132.9,1226.1 134.4,1226.2 135.9,1226.3 137.4,1226.4 138.9,1226.4 140.4,1226.5 141.9,1226.6 143.3,1226.7 144.8,1226.7 146.3,1226.8 147.8,1226.9 149.3,1227.0 150.8,1227.0 152.3,1227.1 153.8,1227.2 155.3,1227.2 156.8,1227.3 158.3,1227.3 159.8,1227.4 161.3,1227.4 162.8,1227.5 164.3,1227.5 165.8,1227.6 167.3,1227.6 168.8,1227.6 170.3,1227.7 171.8,1227.7 173.3,1227.7 174.8,1227.8 176.3,1227.8 177.8,1227.8 179.3,1227.8 180.8,1227.8 182.3,1227.8 183.8,1227.9 185.3,1227.9 186.8,1227.9 188.3,1227.9 189.8,1227.9 191.3,1227.9 192.8,1227.9 194.3,1227.9 195.8,1227.9 197.3,1227.9 198.8,1227.9 200.3,1228.0 201.8,1228.0 203.3,1228.0 204.8,1228.0 206.3,1228.0 207.8,1228.0 209.3,1228.0 210.8,1228.0 212.3,1228.0 213.8,1228.0 215.3,1228.0 216.8,1228.0 218.3,1228.0 219.8,1228.0 221.3,1228.1 222.8,1228.1 224.3,1228.1 225.8,1228.1 227.3,1228.1 228.8,1228.1 230.3,1228.2 231.8,1228.2 233.3,1228.2 234.8,1228.2 236.3,1228.3 237.8,1228.3 239.3,1228.3 240.8,1228.3 242.3,1228.4 243.8,1228.4 245.3,1228.4 246.8,1228.5 248.3,1228.5 249.8,1228.5 251.3,1228.6 252.8,1228.6 254.3,1228.6 255.8,1228.7 257.3,1228.7 258.8,1228.7 260.3,1228.7 261.8,1228.8 263.3,1228.8 264.8,1228.8 266.3,1228.9 267.8,1228.9 269.3,1228.9 270.8,1228.9 272.3,1228.9 273.8,1229.0 275.3,1229.0 276.8,1229.0 278.3,1229.0 279.8,1229.0 281.3,1229.0 282.8,1229.0 284.3,1229.0 285.8,1229.0 287.3,1229.0 288.8,1229.0 290.3,1229.0 291.8,1229.0 293.3,1229.0 294.8,1228.9 296.3,1228.9 297.8,1228.9 299.3,1228.9 300.8,1228.8 302.3,1228.8 303.8,1228.8 305.3,1228.7 306.8,1228.7 308.3,1228.6 309.8,1228.6 311.3,1228.6 312.8,1228.5 314.3,1228.5 315.8,1228.4 317.3,1228.3 318.8,1228.3 320.3,1228.2 321.8,1228.2 323.3,1228.1 324.8,1228.0 326.3,1227.9 327.8,1227.8 329.3,1227.7 330.8,1227.5 332.3,1227.4 333.8,1227.2 335.3,1227.0 336.7,1226.7 338.2,1226.5 339.7,1226.2 341.2,1225.9 342.6,1225.7 344.1,1225.4 345.6,1225.1 347.1,1224.8 348.5,1224.5 350.0,1224.3 351.5,1224.0 352.9,1223.7 354.4,1223.4 355.9,1223.1 357.4,1222.8 358.8,1222.5 360.3,1222.1 361.7,1221.8 363.2,1221.4 364.6,1221.0 366.0,1220.5 367.4,1220.0 368.8,1219.4 370.2,1218.8 371.5,1218.1 372.8,1217.4 374.1,1216.7 375.4,1215.9 376.7,1215.2 378.0,1214.4 379.3,1213.6 380.5,1212.7 381.7,1211.9 382.9,1211.0 384.1,1210.1 385.3,1209.2 386.5,1208.2 387.6,1207.3 388.7,1206.3 389.8,1205.3 390.9,1204.2 392.0,1203.2 393.0,1202.1 394.1,1201.0 395.1,1199.9 396.0,1198.7 397.0,1197.6 397.9,1196.4 398.8,1195.2 399.7,1194.0 400.6,1192.8 401.4,1191.5 402.2,1190.3 403.1,1189.0 403.9,1187.8 404.7,1186.5 405.4,1185.2 406.2,1183.9 406.9,1182.6 407.7,1181.3 408.4,1180.0 409.1,1178.7 409.8,1177.3 410.5,1176.0 411.1,1174.7 411.8,1173.3 412.5,1172.0 413.1,1170.6 413.7,1169.3 414.4,1167.9 415.0,1166.5 415.6,1165.2 416.2,1163.8 416.8,1162.4 417.4,1161.0 417.9,1159.6 418.5,1158.3 419.1,1156.9 419.6,1155.5 420.2,1154.1 420.7,1152.7 421.3,1151.3 421.8,1149.9 422.3,1148.5 422.8,1147.1 423.3,1145.6 423.8,1144.2 424.3,1142.8 424.8,1141.4 425.2,1140.0 425.7,1138.5 426.1,1137.1 426.6,1135.7 427.0,1134.2 427.4,1132.8 427.9,1131.3 428.3,1129.9 428.7,1128.5 429.1,1127.0 429.6,1125.6 430.0,1124.2 430.4,1122.7 430.8,1121.3 431.2,1119.8 431.7,1118.4 432.1,1117.0 432.5,1115.5 432.9,1114.1 433.3,1112.6 433.6,1111.2 434.0,1109.7 434.4,1108.3 434.8,1106.8 435.1,1105.3 435.5,1103.9 435.8,1102.4 436.1,1101.0 436.4,1099.5 436.8,1098.0 437.1,1096.6 437.3,1095.1 437.6,1093.6 437.9,1092.1 438.1,1090.7 438.4,1089.2 438.6,1087.7 438.9,1086.2 439.1,1084.7 439.3,1083.3 439.6,1081.8 439.8,1080.3 440.0,1078.8 440.2,1077.3 440.4,1075.8 440.6,1074.3 440.9,1072.9 441.1,1071.4 441.3,1069.9 441.5,1068.4 441.7,1066.9 441.9,1065.4 442.1,1064.0 442.3,1062.5 442.5,1061.0 442.7,1059.5 442.9,1058.0 443.1,1056.5 443.3,1055.0 443.5,1053.5 443.7,1052.1 444.0,1050.6 444.2,1049.1 444.4,1047.6 444.6,1046.1 444.9,1044.6 445.1,1043.2 445.4,1041.7 445.7,1040.2 446.0,1038.7 446.3,1037.3 446.6,1035.8 446.9,1034.3 447.2,1032.9 447.5,1031.4 447.8,1029.9 448.1,1028.5 448.4,1027.0 448.7,1025.5 449.0,1024.1 449.3,1022.6 449.6,1021.1 449.9,1019.6 450.2,1018.2 450.5,1016.7 450.7,1015.2 451.0,1013.7 451.2,1012.3 451.5,1010.8 451.7,1009.3 451.9,1007.8 452.2,1006.3 452.4,1004.9 452.6,1003.4 452.8,1001.9 453.0,1000.4 453.2,998.9 453.4,997.4 453.6,995.9 453.8,994.5 454.0,993.0 454.2,991.5 454.4,990.0 454.6,988.5 454.7,987.0 454.9,985.5 455.1,984.0 455.3,982.5 455.5,981.1 455.6,979.6 455.8,978.1 456.0,976.6 456.2,975.1 456.3,973.6 456.5,972.1 456.7,970.6 456.9,969.1 457.1,967.6 457.2,966.2 457.4,964.7 457.6,963.2 457.8,961.7 458.0,960.2 458.2,958.7 458.3,957.2 458.5,955.7 458.7,954.2 458.9,952.8 459.1,951.3 459.3,949.8 459.5,948.3 459.7,946.8 459.9,945.3 460.1,943.8 460.3,942.4 460.5,940.9 460.7,939.4 461.0,937.9 461.2,936.4 461.4,934.9 461.7,933.5 461.9,932.0 462.2,930.5 462.5,929.0 462.7,927.6 463.0,926.1 463.2,924.6 463.4,923.1 463.7,921.6 463.9,920.1 464.1,918.7 464.3,917.2 464.5,915.7 464.7,914.2 464.9,912.7 465.1,911.2 465.3,909.7 465.5,908.2 465.6,906.8 465.8,905.3 466.0,903.8 466.2,902.3 466.4,900.8 466.6,899.3 466.8,897.8 467.0,896.3 467.2,894.9 467.4,893.4 467.6,891.9 467.8,890.4 468.0,888.9 468.2,887.4 468.4,885.9 468.6,884.4 468.8,883.0 469.0,881.5 469.2,880.0 469.4,878.5 469.6,877.0 469.8,875.5 470.1,874.1 470.3,872.6 470.5,871.1 470.8,869.6 471.0,868.1 471.3,866.7 471.5,865.2 471.8,863.7 472.0,862.2 472.3,860.7 472.5,859.2 472.7,857.8 473.0,856.3 473.2,854.8 473.4,853.3 473.6,851.8 473.8,850.4 474.1,848.9 474.3,847.4 474.5,845.9 474.7,844.4 475.0,842.9 475.2,841.5 475.5,840.0 475.8,838.5 476.0,837.0 476.3,835.6 476.6,834.1 476.9,832.6 477.2,831.2 477.6,829.7 478.0,828.3 478.4,826.8 478.8,825.4 479.3,824.0 479.9,822.6 480.5,821.2 481.1,819.9 481.8,818.5 482.5,817.2 483.2,815.9 483.9,814.7 484.8,813.4 485.7,812.3 487.0,811.5 488.4,812.1 489.3,813.3 490.1,814.6 490.8,815.9 491.5,817.2 492.1,818.5 492.7,819.9 493.2,821.3 493.6,822.7 494.1,824.1 494.4,825.6 494.8,827.0 495.1,828.5 495.3,830.0 495.6,831.5 495.8,832.9 496.1,834.4 496.3,835.9 496.6,837.4 496.8,838.9 497.1,840.3 497.4,841.8 497.7,843.3 498.0,844.8 498.2,846.2 498.5,847.7 498.8,849.2 499.0,850.7 499.2,852.1 499.5,853.6 499.7,855.1 499.9,856.6 500.1,858.1 500.3,859.6 500.5,861.1 500.6,862.5 500.8,864.0 501.0,865.5 501.1,867.0 501.3,868.5 501.4,870.0 501.6,871.5 501.8,873.0 501.9,874.5 502.1,876.0 502.3,877.5 502.4,879.0 502.6,880.4 502.7,881.9 502.9,883.4 503.1,884.9 503.2,886.4 503.4,887.9 503.5,889.4 503.7,890.9 503.8,892.4 504.0,893.9 504.1,895.4 504.3,896.9 504.4,898.3 504.6,899.8 504.7,901.3 504.9,902.8 505.0,904.3 505.2,905.8 505.3,907.3 505.4,908.8 505.6,910.3 505.7,911.8 505.9,913.3 506.0,914.8 506.1,916.3 506.3,917.8 506.4,919.3 506.5,920.8 506.7,922.2 506.8,923.7 506.9,925.2 507.1,926.7 507.2,928.2 507.4,929.7 507.5,931.2 507.6,932.7 507.8,934.2 507.9,935.7 508.0,937.2 508.2,938.7 508.3,940.2 508.5,941.7 508.6,943.2 508.8,944.6 508.9,946.1 509.1,947.6 509.2,949.1 509.4,950.6 509.6,952.1 509.7,953.6 509.9,955.1 510.0,956.6 510.2,958.1 510.3,959.6 510.5,961.1 510.6,962.6 510.7,964.1 510.9,965.5 511.0,967.0 511.1,968.5 511.2,970.0 511.4,971.5 511.5,973.0 511.6,974.5 511.7,976.0 511.8,977.5 512.0,979.0 512.1,980.5 512.2,982.0 512.3,983.5 512.4,985.0 512.5,986.5 512.7,988.0 512.8,989.5 512.9,991.0 513.0,992.5 513.1,994.0 513.3,995.5 513.4,996.9 513.5,998.4 513.6,999.9 513.8,1001.4 513.9,1002.9 514.0,1004.4 514.1,1005.9 514.2,1007.4 514.4,1008.9 514.5,1010.4 514.6,1011.9 514.7,1013.4 514.9,1014.9 515.0,1016.4 515.1,1017.9 515.2,1019.4 515.3,1020.9 515.5,1022.4 515.6,1023.9 515.7,1025.4 515.8,1026.9 515.9,1028.3 516.0,1029.8 516.1,1031.3 516.2,1032.8 516.3,1034.3 516.5,1035.8 516.6,1037.3 516.7,1038.8 516.8,1040.3 516.9,1041.8 517.1,1043.3 517.2,1044.8 517.3,1046.3 517.5,1047.8 517.6,1049.3 517.8,1050.8 518.0,1052.3 518.1,1053.7 518.3,1055.2 518.5,1056.7 518.7,1058.2 518.9,1059.7 519.1,1061.2 519.2,1062.7 519.4,1064.2 519.6,1065.7 519.8,1067.1 520.0,1068.6 520.1,1070.1 520.3,1071.6 520.5,1073.1 520.6,1074.6 520.8,1076.1 521.0,1077.6 521.1,1079.1 521.3,1080.6 521.4,1082.1 521.5,1083.6 521.7,1085.0 521.8,1086.5 522.0,1088.0 522.1,1089.5 522.2,1091.0 522.4,1092.5 522.5,1094.0 522.7,1095.5 522.8,1097.0 523.0,1098.5 523.1,1100.0 523.3,1101.5 523.4,1103.0 523.6,1104.5 523.7,1106.0 523.9,1107.4 524.1,1108.9 524.2,1110.4 524.4,1111.9 524.5,1113.4 524.7,1114.9 524.9,1116.4 525.0,1117.9 525.2,1119.4 525.4,1120.9 525.5,1122.4 525.7,1123.8 525.9,1125.3 526.0,1126.8 526.2,1128.3 526.4,1129.8 526.5,1131.3 526.7,1132.8 526.9,1134.3 527.1,1135.8 527.3,1137.3 527.5,1138.7 527.6,1140.2 527.8,1141.7 528.0,1143.2 528.2,1144.7 528.5,1146.2 528.7,1147.7 528.9,1149.1 529.1,1150.6 529.4,1152.1 529.6,1153.6 529.9,1155.1 530.1,1156.5 530.4,1158.0 530.6,1159.5 530.9,1161.0 531.2,1162.4 531.5,1163.9 531.8,1165.4 532.1,1166.8 532.4,1168.3 532.8,1169.8 533.1,1171.2 533.5,1172.7 533.8,1174.2 534.2,1175.6 534.6,1177.1 535.0,1178.5 535.4,1179.9 535.8,1181.4 536.2,1182.8 536.7,1184.3 537.2,1185.7 537.6,1187.1 538.1,1188.5 538.6,1189.9 539.1,1191.3 539.7,1192.7 540.2,1194.1 540.7,1195.5 541.3,1196.9 541.9,1198.3 542.5,1199.7 543.1,1201.0 543.8,1202.3 544.6,1203.6 545.4,1204.9 546.3,1206.1 547.2,1207.2 548.2,1208.3 549.3,1209.4 550.3,1210.4 551.5,1211.3 552.7,1212.3 553.9,1213.2 555.1,1214.0 556.3,1214.8 557.6,1215.6 558.9,1216.3 560.3,1217.0 561.6,1217.6 563.0,1218.2 564.4,1218.8 565.8,1219.3 567.2,1219.8 568.6,1220.3 570.0,1220.8 571.5,1221.2 572.9,1221.7 574.3,1222.1 575.8,1222.5 577.2,1222.9 578.7,1223.2 580.1,1223.6 581.6,1223.9 583.1,1224.2 584.6,1224.4 586.0,1224.7 587.5,1224.9 589.0,1225.1 590.5,1225.2 592.0,1225.4 593.5,1225.5 595.0,1225.6 596.5,1225.7 598.0,1225.8 599.5,1225.8 601.0,1225.9 602.5,1225.9 604.0,1226.0 605.5,1226.0 607.0,1226.0 608.5,1226.0 610.0,1226.0 611.5,1226.0 613.0,1226.0 614.5,1226.0 616.0,1226.0 617.5,1226.0 619.0,1225.9 620.5,1225.9 622.0,1225.8 623.5,1225.8 625.0,1225.7 626.5,1225.7 628.0,1225.7 629.5,1225.6 631.0,1225.5 632.5,1225.5 634.0,1225.4 635.5,1225.4 637.0,1225.3 638.5,1225.3 640.0,1225.2 641.5,1225.2 643.0,1225.1 644.5,1225.1 646.0,1225.0 647.5,1225.0 649.0,1224.9 650.5,1224.9 652.0,1224.9 653.5,1224.8 655.0,1224.8 656.5,1224.8 658.0,1224.7 659.5,1224.7 661.0,1224.7 662.5,1224.7 664.0,1224.7 665.5,1224.7 667.0,1224.7 668.5,1224.7 670.0,1224.8 671.5,1224.8 673.0,1224.9 674.5,1224.9 675.9,1225.0 677.4,1225.1 678.9,1225.1 680.4,1225.2 681.9,1225.3 683.4,1225.4 684.9,1225.5 686.4,1225.6 687.9,1225.7 689.4,1225.8 690.9,1225.9 692.4,1226.0 693.9,1226.1 695.4,1226.2 696.9,1226.3 698.4,1226.4 699.9,1226.5 701.4,1226.6 702.9,1226.6 704.4,1226.7 705.9,1226.8 707.4,1226.8 708.9,1226.8 710.4,1226.9 711.9,1226.9 713.4,1226.9 714.9,1227.0 716.4,1227.0 717.9,1227.0 719.4,1227.0 720.9,1227.0 722.4,1227.0 723.9,1227.0 725.4,1227.0 726.9,1227.0 728.4,1227.0 729.9,1227.0 731.4,1227.0 732.9,1227.0 734.4,1227.0 735.9,1227.0 737.4,1226.9 738.9,1226.9 740.4,1226.9 741.9,1226.9 743.4,1226.9 744.9,1226.8 746.4,1226.8 747.9,1226.8 749.4,1226.8 750.9,1226.7 752.4,1226.7 753.9,1226.7 755.4,1226.7 756.9,1226.6 758.4,1226.6 759.9,1226.6 761.4,1226.6 762.9,1226.5 764.4,1226.5 765.9,1226.5 767.4,1226.5 768.9,1226.5 770.4,1226.4 771.9,1226.4 773.4,1226.4 774.9,1226.4 776.4,1226.4 777.9,1226.3 779.4,1226.3 780.9,1226.3 782.4,1226.3 783.9,1226.2 785.4,1226.2 786.9,1226.2 788.4,1226.2 789.9,1226.1 791.4,1226.1 792.9,1226.1 794.4,1226.1 795.9,1226.0 797.4,1226.0 798.9,1226.0 800.4,1225.9 801.9,1225.9 803.4,1225.9 804.9,1225.9 806.4,1225.8 807.9,1225.8 809.4,1225.8 810.9,1225.8 812.4,1225.7 813.9,1225.7 815.4,1225.7 816.9,1225.7 818.4,1225.6 819.9,1225.6 821.4,1225.6 822.9,1225.6 824.4,1225.5 825.9,1225.5 827.4,1225.5 828.9,1225.5 830.4,1225.5 831.9,1225.4 833.4,1225.4 834.9,1225.4 836.4,1225.4 837.9,1225.4 839.4,1225.4 840.9,1225.4 842.4,1225.4 843.9,1225.4 845.4,1225.3 846.9,1225.3 848.4,1225.3 849.9,1225.3 851.4,1225.3 852.9,1225.3 854.4,1225.3 855.9,1225.3 857.4,1225.3 858.9,1225.3 860.4,1225.3 861.9,1225.3 863.4,1225.3 864.9,1225.3 866.4,1225.3 867.9,1225.3 869.4,1225.3 870.9,1225.3 872.4,1225.3 873.9,1225.3 875.4,1225.3 876.9,1225.3 878.4,1225.3 879.9,1225.3 881.4,1225.3 882.9,1225.3 884.4,1225.3 885.9,1225.3 887.4,1225.3 888.9,1225.3 890.4,1225.4 891.9,1225.4 893.4,1225.4 894.9,1225.4 896.4,1225.4 897.9,1225.4 899.4,1225.4 900.9,1225.4 902.4,1225.4 903.9,1225.4 905.4,1225.4 906.9,1225.4 908.4,1225.4 909.9,1225.4 911.4,1225.4 912.9,1225.4 914.4,1225.4 915.9,1225.4 917.4,1225.4 918.9,1225.4"/>
</g>
<g stroke="#000" stroke-width="2.00" fill="none" stroke-linecap="square">
<rect x="106.80" y="682.20" width="813.20" height="550.00"/>
<line x1="106.80" y1="1232.20" x2="106.80" y2="1242.70" stroke-linecap="butt"/>
<line x1="208.45" y1="1232.20" x2="208.45" y2="1237.70" stroke-linecap="butt"/>
<line x1="310.10" y1="1232.20" x2="310.10" y2="1242.70" stroke-linecap="butt"/>
<line x1="411.75" y1="1232.20" x2="411.75" y2="1237.70" stroke-linecap="butt"/>
<line x1="513.40" y1="1232.20" x2="513.40" y2="1242.70" stroke-linecap="butt"/>
<line x1="615.05" y1="1232.20" x2="615.05" y2="1237.70" stroke-linecap="butt"/>
<line x1="716.70" y1="1232.20" x2="716.70" y2="1242.70" stroke-linecap="butt"/>
<line x1="818.35" y1="1232.20" x2="818.35" y2="1237.70" stroke-linecap="butt"/>
<line x1="920.00" y1="1232.20" x2="920.00" y2="1242.70" stroke-linecap="butt"/>
<line x1="106.80" y1="1224.96" x2="96.30" y2="1224.96" stroke-linecap="butt"/>
<line x1="106.80" y1="1188.78" x2="101.30" y2="1188.78" stroke-linecap="butt"/>
<line x1="106.80" y1="1152.59" x2="96.30" y2="1152.59" stroke-linecap="butt"/>
<line x1="106.80" y1="1116.41" x2="101.30" y2="1116.41" stroke-linecap="butt"/>
<line x1="106.80" y1="1080.23" x2="96.30" y2="1080.23" stroke-linecap="butt"/>
<line x1="106.80" y1="1044.04" x2="101.30" y2="1044.04" stroke-linecap="butt"/>
<line x1="106.80" y1="1007.86" x2="96.30" y2="1007.86" stroke-linecap="butt"/>
<line x1="106.80" y1="971.67" x2="101.30" y2="971.67" stroke-linecap="butt"/>
<line x1="106.80" y1="935.49" x2="96.30" y2="935.49" stroke-linecap="butt"/>
<line x1="106.80" y1="899.31" x2="101.30" y2="899.31" stroke-linecap="butt"/>
<line x1="106.80" y1="863.12" x2="96.30" y2="863.12" stroke-linecap="butt"/>
<line x1="106.80" y1="826.94" x2="101.30" y2="826.94" stroke-linecap="butt"/>
<line x1="106.80" y1="790.75" x2="96.30" y2="790.75" stroke-linecap="butt"/>
<line x1="106.80" y1="754.57" x2="101.30" y2="754.57" stroke-linecap="butt"/>
<line x1="106.80" y1="718.38" x2="96.30" y2="718.38" stroke-linecap="butt"/>
<line x1="106.80" y1="682.20" x2="101.30" y2="682.20" stroke-linecap="butt"/>
</g>
<g font-family='"Liberation Serif", "Times New Roman", serif' font-size="19" fill="#000">
<text x="106.80" y="1263.20" text-anchor="middle">200</text>
<text x="310.10" y="1263.20" text-anchor="middle">300</text>
<text x="513.40" y="1263.20" text-anchor="middle">400</text>
<text x="716.70" y="1263.20" text-anchor="middle">500</text>
<text x="920.00" y="1263.20" text-anchor="middle">600</text>
<text x="89.80" y="1229.96" text-anchor="end">0</text>
<text x="89.80" y="1157.59" text-anchor="end">100</text>
<text x="89.80" y="1085.23" text-anchor="end">200</text>
<text x="89.80" y="1012.86" text-anchor="end">300</text>
<text x="89.80" y="940.49" text-anchor="end">400</text>
<text x="89.80" y="868.12" text-anchor="end">500</text>
<text x="89.80" y="795.75" text-anchor="end">600</text>
<text x="89.80" y="723.38" text-anchor="end">700</text>
</g>
<text font-family='"Liberation Serif", "Times New Roman", serif' font-size="25" text-anchor="middle" textLength="113.0" lengthAdjust="spacingAndGlyphs" transform="translate(22.50,961.80) rotate(-90)">HRR (W/g)</text>
<text font-family='"Liberation Serif", "Times New Roman", serif' font-size="25" text-anchor="middle" textLength="167.5" lengthAdjust="spacingAndGlyphs" x="513.00" y="1302.40">Temperature (°C)</text>
<rect x="567.80" y="686.20" width="349.10" height="141.20" fill="#fff" stroke="#7a7a7a" stroke-width="1.2"/>
<line x1="578.50" y1="702.00" x2="633.20" y2="702.00" stroke="#000000" stroke-width="2"/>
<text font-family='"Liberation Serif", "Times New Roman", serif' font-size="23.5" x="638.10" y="709.20">PLA 0.5% MoS<tspan font-size="14" dy="8.5">2</tspan><tspan dy="-8.5">/Fe</tspan><tspan font-size="14" dy="8.5">2</tspan><tspan dy="-8.5">O</tspan><tspan font-size="14" dy="8.5">3</tspan><tspan dy="-8.5">/CNT</tspan></text>
<line x1="578.50" y1="739.50" x2="633.20" y2="739.50" stroke="#ff0000" stroke-width="2"/>
<text font-family='"Liberation Serif", "Times New Roman", serif' font-size="23.5" x="638.10" y="746.30">PLA 1% MoS<tspan font-size="14" dy="8.5">2</tspan><tspan dy="-8.5">/Fe</tspan><tspan font-size="14" dy="8.5">2</tspan><tspan dy="-8.5">O</tspan><tspan font-size="14" dy="8.5">3</tspan><tspan dy="-8.5">/CNT</tspan></text>
<line x1="578.50" y1="776.60" x2="633.20" y2="776.60" stroke="#0000ff" stroke-width="2"/>
<text font-family='"Liberation Serif", "Times New Roman", serif' font-size="23.5" x="638.10" y="784.40">PLA 2% MoS<tspan font-size="14" dy="8.5">2</tspan><tspan dy="-8.5">/Fe</tspan><tspan font-size="14" dy="8.5">2</tspan><tspan dy="-8.5">O</tspan><tspan font-size="14" dy="8.5">3</tspan><tspan dy="-8.5">/CNT</tspan></text>
<line x1="578.50" y1="813.10" x2="633.20" y2="813.10" stroke="#008080" stroke-width="2"/>
<text font-family='"Liberation Serif", "Times New Roman", serif' font-size="23.5" x="638.10" y="821.50">Pristine PLA</text>
<text font-family='"Liberation Serif", "Times New Roman", serif' font-size="58" font-weight="bold" transform="translate(4.90,692.60) scale(1.095,1.06)">C</text>
<g fill="none" stroke-width="2" stroke-linejoin="round" stroke-linecap="round">
<path stroke="#000000" d="M1067.6,1221.7 1069.1,1221.7 1070.6,1221.7 1072.1,1221.6 1073.6,1221.6 1075.1,1221.6 1076.6,1221.6 1078.1,1221.6 1079.6,1221.6 1081.1,1221.6 1082.6,1221.6 1084.1,1221.6 1085.6,1221.5 1087.1,1221.5 1088.6,1221.5 1090.1,1221.5 1091.6,1221.5 1093.1,1221.5 1094.6,1221.5 1096.1,1221.5 1097.6,1221.5 1099.1,1221.5 1100.6,1221.5 1102.1,1221.5 1103.6,1221.5 1105.1,1221.5 1106.6,1221.5 1108.1,1221.5 1109.6,1221.5 1111.1,1221.5 1112.6,1221.5 1114.1,1221.4 1115.6,1221.4 1117.1,1221.4 1118.6,1221.4 1120.1,1221.4 1121.6,1221.4 1123.1,1221.4 1124.6,1221.4 1126.1,1221.4 1127.6,1221.4 1129.1,1221.3 1130.6,1221.3 1132.1,1221.3 1133.6,1221.3 1135.1,1221.3 1136.6,1221.2 1138.1,1221.2 1139.6,1221.2 1141.1,1221.2 1142.6,1221.1 1144.1,1221.1 1145.6,1221.1 1147.1,1221.0 1148.6,1221.0 1150.1,1220.9 1151.6,1220.9 1153.1,1220.8 1154.6,1220.7 1156.1,1220.7 1157.6,1220.6 1159.1,1220.5 1160.6,1220.4 1162.1,1220.3 1163.6,1220.2 1165.1,1220.1 1166.6,1219.9 1168.1,1219.8 1169.6,1219.6 1171.1,1219.5 1172.6,1219.3 1174.0,1219.1 1175.5,1218.9 1177.0,1218.7 1178.5,1218.5 1180.0,1218.3 1181.5,1218.0 1183.0,1217.8 1184.4,1217.6 1185.9,1217.4 1187.4,1217.2 1188.9,1217.0 1190.4,1216.8 1191.9,1216.6 1193.4,1216.4 1194.9,1216.2 1196.3,1216.0 1197.8,1215.8 1199.3,1215.6 1200.8,1215.4 1202.3,1215.2 1203.8,1214.9 1205.3,1214.7 1206.7,1214.4 1208.2,1214.2 1209.7,1213.9 1211.2,1213.6 1212.6,1213.3 1214.1,1213.0 1215.5,1212.6 1217.0,1212.3 1218.5,1211.9 1219.9,1211.5 1221.4,1211.2 1222.8,1210.8 1224.3,1210.4 1225.7,1209.9 1227.1,1209.5 1228.6,1209.1 1230.0,1208.7 1231.5,1208.3 1232.9,1207.9 1234.3,1207.4 1235.8,1207.0 1237.2,1206.5 1238.6,1205.9 1239.9,1205.4 1241.3,1204.7 1242.6,1204.1 1244.0,1203.4 1245.3,1202.7 1246.6,1201.9 1247.9,1201.2 1249.2,1200.5 1250.5,1199.8 1251.9,1199.1 1253.2,1198.5 1254.6,1197.9 1256.0,1197.3 1257.4,1196.7 1258.7,1196.1 1260.1,1195.4 1261.4,1194.8 1262.7,1194.1 1264.0,1193.3 1265.3,1192.6 1266.6,1191.7 1267.8,1190.9 1268.9,1189.9 1270.1,1189.0 1271.2,1188.0 1272.3,1186.9 1273.4,1185.9 1274.5,1185.0 1275.7,1184.1 1276.9,1183.2 1278.1,1182.4 1279.4,1181.6 1280.7,1180.8 1282.0,1180.1 1283.3,1179.4 1284.7,1178.7 1286.0,1178.0 1287.3,1177.3 1288.6,1176.5 1289.9,1175.8 1291.2,1175.1 1292.5,1174.4 1293.9,1173.7 1295.2,1173.0 1296.5,1172.3 1297.9,1171.7 1299.2,1171.0 1300.6,1170.4 1301.9,1169.8 1303.3,1169.1 1304.5,1168.3 1305.8,1167.5 1307.0,1166.6 1308.1,1165.7 1309.2,1164.7 1310.3,1163.7 1311.4,1162.6 1312.5,1161.6 1313.6,1160.6 1314.7,1159.6 1315.8,1158.6 1317.0,1157.6 1318.1,1156.7 1319.3,1155.8 1320.5,1154.8 1321.7,1153.9 1322.9,1153.0 1324.1,1152.1 1325.3,1151.3 1326.5,1150.4 1327.8,1149.5 1329.0,1148.6 1330.2,1147.8 1331.4,1146.9 1332.7,1146.1 1333.9,1145.2 1335.1,1144.3 1336.3,1143.4 1337.5,1142.5 1338.7,1141.6 1339.8,1140.6 1341.0,1139.7 1342.1,1138.7 1343.2,1137.6 1344.3,1136.6 1345.3,1135.5 1346.4,1134.5 1347.4,1133.4 1348.4,1132.3 1349.5,1131.2 1350.5,1130.1 1351.5,1129.0 1352.4,1127.8 1353.4,1126.7 1354.4,1125.5 1355.4,1124.4 1356.3,1123.2 1357.2,1122.1 1358.2,1120.9 1359.1,1119.7 1360.0,1118.5 1360.8,1117.2 1361.7,1116.0 1362.5,1114.7 1363.2,1113.5 1364.0,1112.2 1364.7,1110.8 1365.4,1109.5 1366.0,1108.2 1366.7,1106.8 1367.3,1105.4 1367.9,1104.1 1368.5,1102.7 1369.0,1101.3 1369.6,1099.9 1370.2,1098.5 1370.7,1097.1 1371.3,1095.7 1371.9,1094.3 1372.4,1092.9 1372.9,1091.5 1373.5,1090.2 1374.1,1088.8 1374.6,1087.4 1375.2,1086.0 1375.8,1084.6 1376.4,1083.2 1376.9,1081.8 1377.5,1080.4 1378.1,1079.1 1378.6,1077.7 1379.2,1076.3 1379.7,1074.9 1380.3,1073.5 1380.8,1072.1 1381.3,1070.7 1381.8,1069.3 1382.3,1067.8 1382.9,1066.4 1383.4,1065.0 1383.9,1063.6 1384.4,1062.2 1384.9,1060.8 1385.4,1059.4 1385.9,1057.9 1386.4,1056.5 1386.9,1055.1 1387.3,1053.7 1387.8,1052.3 1388.3,1050.9 1388.8,1049.4 1389.3,1048.0 1389.7,1046.6 1390.2,1045.2 1390.7,1043.7 1391.2,1042.3 1391.6,1040.9 1392.1,1039.5 1392.6,1038.0 1393.1,1036.6 1393.5,1035.2 1394.0,1033.8 1394.5,1032.4 1395.0,1030.9 1395.5,1029.5 1395.9,1028.1 1396.4,1026.7 1396.9,1025.2 1397.4,1023.8 1397.9,1022.4 1398.4,1021.0 1398.8,1019.6 1399.3,1018.1 1399.8,1016.7 1400.3,1015.3 1400.8,1013.9 1401.3,1012.5 1401.8,1011.1 1402.3,1009.6 1402.8,1008.2 1403.3,1006.8 1403.8,1005.4 1404.4,1004.0 1404.9,1002.6 1405.5,1001.2 1406.0,999.8 1406.6,998.4 1407.1,997.0 1407.7,995.6 1408.2,994.2 1408.8,992.8 1409.3,991.4 1409.8,990.0 1410.2,988.6 1410.7,987.2 1411.1,985.7 1411.5,984.3 1412.0,982.9 1412.5,981.4 1413.0,980.0 1413.5,978.7 1414.2,977.3 1414.9,976.0 1415.6,974.7 1416.4,973.5 1417.3,972.3 1418.3,971.3 1419.4,970.3 1420.6,969.4 1421.9,968.7 1423.4,968.2 1424.9,968.3 1426.2,969.0 1427.4,969.9 1428.5,970.9 1429.5,972.0 1430.4,973.2 1431.1,974.4 1431.8,975.7 1432.5,977.1 1433.1,978.4 1433.6,979.8 1434.1,981.2 1434.5,982.7 1435.0,984.1 1435.4,985.5 1435.7,987.0 1436.1,988.4 1436.5,989.9 1436.9,991.3 1437.3,992.8 1437.7,994.2 1438.1,995.7 1438.6,997.1 1439.1,998.5 1439.5,999.9 1439.9,1001.4 1440.3,1002.8 1440.7,1004.2 1441.0,1005.7 1441.3,1007.2 1441.6,1008.7 1441.9,1010.1 1442.1,1011.6 1442.3,1013.1 1442.6,1014.6 1442.8,1016.1 1443.0,1017.5 1443.2,1019.0 1443.4,1020.5 1443.6,1022.0 1443.7,1023.5 1443.9,1025.0 1444.1,1026.5 1444.2,1028.0 1444.3,1029.5 1444.5,1031.0 1444.6,1032.5 1444.7,1034.0 1444.8,1035.5 1444.9,1037.0 1445.0,1038.4 1445.1,1039.9 1445.2,1041.4 1445.3,1042.9 1445.4,1044.4 1445.5,1045.9 1445.6,1047.4 1445.8,1048.9 1445.9,1050.4 1446.0,1051.9 1446.1,1053.4 1446.3,1054.9 1446.4,1056.4 1446.5,1057.9 1446.7,1059.4 1446.8,1060.9 1447.0,1062.4 1447.1,1063.9 1447.3,1065.4 1447.4,1066.9 1447.6,1068.3 1447.7,1069.8 1447.9,1071.3 1448.1,1072.8 1448.2,1074.3 1448.4,1075.8 1448.5,1077.3 1448.7,1078.8 1448.8,1080.3 1449.0,1081.8 1449.1,1083.3 1449.3,1084.8 1449.4,1086.3 1449.6,1087.8 1449.7,1089.2 1449.9,1090.7 1450.0,1092.2 1450.2,1093.7 1450.3,1095.2 1450.5,1096.7 1450.6,1098.2 1450.7,1099.7 1450.9,1101.2 1451.0,1102.7 1451.2,1104.2 1451.3,1105.7 1451.5,1107.2 1451.6,1108.7 1451.8,1110.2 1451.9,1111.6 1452.1,1113.1 1452.2,1114.6 1452.4,1116.1 1452.5,1117.6 1452.7,1119.1 1452.8,1120.6 1453.0,1122.1 1453.1,1123.6 1453.3,1125.1 1453.5,1126.6 1453.6,1128.1 1453.8,1129.6 1453.9,1131.0 1454.1,1132.5 1454.2,1134.0 1454.4,1135.5 1454.5,1137.0 1454.6,1138.5 1454.7,1140.0 1454.8,1141.5 1455.0,1143.0 1455.1,1144.5 1455.2,1146.0 1455.4,1147.5 1455.6,1149.0 1455.8,1150.5 1456.0,1151.9 1456.2,1153.4 1456.5,1154.9 1456.7,1156.4 1457.0,1157.9 1457.3,1159.3 1457.6,1160.8 1457.9,1162.3 1458.2,1163.7 1458.5,1165.2 1458.9,1166.7 1459.2,1168.1 1459.6,1169.6 1460.0,1171.0 1460.4,1172.5 1460.8,1173.9 1461.2,1175.4 1461.6,1176.8 1462.1,1178.2 1462.6,1179.6 1463.0,1181.1 1463.6,1182.5 1464.1,1183.9 1464.7,1185.2 1465.3,1186.6 1466.0,1188.0 1466.6,1189.3 1467.4,1190.6 1468.2,1191.8 1469.0,1193.1 1469.9,1194.3 1470.8,1195.4 1471.8,1196.5 1472.9,1197.6 1474.0,1198.6 1475.1,1199.6 1476.3,1200.5 1477.5,1201.4 1478.7,1202.2 1480.0,1203.0 1481.3,1203.7 1482.6,1204.5 1483.9,1205.1 1485.3,1205.8 1486.7,1206.4 1488.0,1206.9 1489.5,1207.4 1490.9,1207.9 1492.3,1208.4 1493.7,1208.8 1495.2,1209.1 1496.6,1209.5 1498.1,1209.8 1499.6,1210.1 1501.1,1210.4 1502.5,1210.7 1504.0,1210.9 1505.5,1211.1 1507.0,1211.3 1508.5,1211.5 1510.0,1211.7 1511.4,1211.8 1512.9,1212.0 1514.4,1212.1 1515.9,1212.1 1517.4,1212.2 1518.9,1212.2 1520.4,1212.2 1521.9,1212.2 1523.4,1212.2 1524.9,1212.2 1526.4,1212.1 1527.9,1212.0 1529.4,1212.0 1530.9,1211.9 1532.4,1211.7 1533.9,1211.6 1535.4,1211.4 1536.9,1211.2 1538.3,1211.0 1539.8,1210.7 1541.3,1210.3 1542.7,1210.0 1544.2,1209.6 1545.6,1209.2 1547.0,1208.8 1548.5,1208.4 1550.0,1208.0 1551.4,1207.7 1552.9,1207.3 1554.3,1207.0 1555.8,1206.6 1557.2,1206.3 1558.7,1205.9 1560.2,1205.5 1561.6,1205.1 1563.0,1204.7 1564.5,1204.3 1565.9,1203.9 1567.4,1203.5 1568.8,1203.0 1570.2,1202.5 1571.6,1202.1 1573.1,1201.6 1574.5,1201.1 1575.9,1200.6 1577.3,1200.0 1578.7,1199.5 1580.1,1199.0 1581.5,1198.5 1582.9,1198.0 1584.3,1197.5 1585.8,1197.0 1587.2,1196.5 1588.6,1196.0 1590.0,1195.5 1591.4,1195.0 1592.8,1194.5 1594.3,1194.0 1595.7,1193.5 1597.1,1193.0 1598.5,1192.5 1599.9,1192.1 1601.4,1191.6 1602.8,1191.2 1604.2,1190.7 1605.7,1190.3 1607.1,1189.9 1608.6,1189.6 1610.0,1189.3 1611.5,1188.9 1613.0,1188.6 1614.4,1188.4 1615.9,1188.1 1617.4,1187.9 1618.9,1187.6 1620.4,1187.4 1621.9,1187.2 1623.4,1187.1 1624.8,1186.9 1626.3,1186.8 1627.8,1186.8 1629.3,1186.7 1630.8,1186.7 1632.3,1186.7 1633.8,1186.8 1635.3,1186.9 1636.8,1187.1 1638.3,1187.3 1639.7,1187.6 1641.2,1188.0 1642.6,1188.4 1644.0,1188.8 1645.4,1189.4 1646.8,1189.9 1648.2,1190.5 1649.6,1191.1 1650.9,1191.8 1652.3,1192.5 1653.6,1193.2 1654.9,1193.9 1656.2,1194.6 1657.5,1195.3 1658.8,1196.1 1660.1,1196.8 1661.4,1197.6 1662.7,1198.4 1664.0,1199.2 1665.2,1200.0 1666.5,1200.8 1667.7,1201.7 1668.9,1202.5 1670.2,1203.4 1671.4,1204.3 1672.6,1205.1 1673.8,1206.0 1675.1,1206.8 1676.3,1207.6 1677.6,1208.4 1678.9,1209.2 1680.2,1210.0 1681.5,1210.7 1682.8,1211.4 1684.2,1212.0 1685.6,1212.6 1686.9,1213.2 1688.3,1213.7 1689.7,1214.2 1691.2,1214.7 1692.6,1215.1 1694.0,1215.6 1695.5,1216.0 1696.9,1216.4 1698.4,1216.7 1699.8,1217.0 1701.3,1217.3 1702.8,1217.6 1704.3,1217.9 1705.7,1218.2 1707.2,1218.4 1708.7,1218.6 1710.2,1218.8 1711.7,1219.0 1713.2,1219.1 1714.7,1219.2 1716.2,1219.3 1717.7,1219.4 1719.2,1219.5 1720.7,1219.6 1722.2,1219.7 1723.7,1219.7 1725.2,1219.8 1726.7,1219.8 1728.2,1219.9 1729.7,1219.9 1731.2,1220.0 1732.7,1220.0 1734.2,1220.0 1735.7,1220.1 1737.2,1220.1 1738.7,1220.1 1740.2,1220.2 1741.7,1220.2 1743.2,1220.2 1744.7,1220.3 1746.2,1220.3 1747.7,1220.3 1749.2,1220.3 1750.7,1220.3 1752.2,1220.3 1753.7,1220.3 1755.2,1220.4 1756.7,1220.4 1758.2,1220.4 1759.7,1220.4 1761.2,1220.4 1762.7,1220.4 1764.2,1220.4 1765.7,1220.4 1767.2,1220.4 1768.7,1220.4 1770.2,1220.3 1771.7,1220.3 1773.2,1220.3 1774.7,1220.3 1776.2,1220.3 1777.7,1220.3 1779.2,1220.3 1780.7,1220.3 1782.2,1220.3 1783.7,1220.3 1785.2,1220.2 1786.7,1220.2 1788.2,1220.2 1789.7,1220.2 1791.2,1220.2 1792.7,1220.2 1794.2,1220.1 1795.7,1220.1 1797.2,1220.1 1798.7,1220.1 1800.2,1220.1 1801.7,1220.1 1803.2,1220.0 1804.7,1220.0 1806.2,1220.0 1807.7,1220.0 1809.2,1220.0 1810.7,1219.9 1812.2,1219.9 1813.7,1219.9 1815.2,1219.9 1816.7,1219.9 1818.2,1219.8 1819.7,1219.8 1821.2,1219.8 1822.7,1219.8 1824.2,1219.8 1825.7,1219.7 1827.2,1219.7 1828.7,1219.7 1830.2,1219.7 1831.7,1219.7 1833.2,1219.6 1834.7,1219.6 1836.2,1219.6 1837.7,1219.6 1839.2,1219.6 1840.7,1219.5 1842.2,1219.5 1843.7,1219.5 1845.2,1219.5 1846.7,1219.5 1848.2,1219.4 1849.7,1219.4 1851.2,1219.4 1852.7,1219.4 1854.2,1219.4 1855.7,1219.3 1857.2,1219.3 1858.7,1219.3 1860.2,1219.3 1861.7,1219.3 1863.2,1219.3 1864.7,1219.2 1866.2,1219.2 1867.7,1219.2 1869.2,1219.2 1870.7,1219.2 1872.2,1219.2 1873.7,1219.1 1875.2,1219.1 1876.7,1219.1 1878.2,1219.1 1879.7,1219.1"/>
<path stroke="#ff0000" d="M1067.6,1222.0 1069.1,1222.0 1070.6,1222.0 1072.1,1221.9 1073.6,1221.9 1075.1,1221.9 1076.6,1221.9 1078.1,1221.9 1079.6,1221.8 1081.1,1221.8 1082.6,1221.8 1084.1,1221.8 1085.6,1221.8 1087.1,1221.8 1088.6,1221.7 1090.1,1221.7 1091.6,1221.7 1093.1,1221.7 1094.6,1221.7 1096.1,1221.7 1097.6,1221.6 1099.1,1221.6 1100.6,1221.6 1102.1,1221.6 1103.6,1221.6 1105.1,1221.6 1106.6,1221.6 1108.1,1221.5 1109.6,1221.5 1111.1,1221.5 1112.6,1221.5 1114.1,1221.5 1115.6,1221.5 1117.1,1221.5 1118.6,1221.5 1120.1,1221.4 1121.6,1221.4 1123.1,1221.4 1124.6,1221.4 1126.1,1221.4 1127.6,1221.4 1129.1,1221.4 1130.6,1221.3 1132.1,1221.3 1133.6,1221.3 1135.1,1221.3 1136.6,1221.3 1138.1,1221.3 1139.6,1221.3 1141.1,1221.3 1142.6,1221.2 1144.1,1221.2 1145.6,1221.2 1147.1,1221.2 1148.6,1221.2 1150.1,1221.2 1151.6,1221.2 1153.1,1221.1 1154.6,1221.1 1156.1,1221.1 1157.6,1221.1 1159.1,1221.1 1160.6,1221.1 1162.1,1221.0 1163.6,1221.0 1165.1,1221.0 1166.6,1221.0 1168.1,1221.0 1169.6,1220.9 1171.1,1220.9 1172.6,1220.9 1174.1,1220.9 1175.6,1220.9 1177.1,1220.8 1178.6,1220.8 1180.1,1220.8 1181.6,1220.8 1183.1,1220.8 1184.6,1220.7 1186.1,1220.7 1187.6,1220.7 1189.1,1220.7 1190.6,1220.6 1192.1,1220.6 1193.6,1220.6 1195.1,1220.5 1196.6,1220.5 1198.1,1220.5 1199.6,1220.4 1201.1,1220.4 1202.6,1220.4 1204.1,1220.3 1205.6,1220.3 1207.1,1220.2 1208.6,1220.2 1210.1,1220.1 1211.6,1220.1 1213.1,1220.0 1214.6,1220.0 1216.1,1219.9 1217.6,1219.8 1219.1,1219.7 1220.6,1219.7 1222.1,1219.6 1223.6,1219.5 1225.1,1219.4 1226.6,1219.3 1228.1,1219.1 1229.6,1219.0 1231.1,1218.9 1232.6,1218.7 1234.1,1218.6 1235.6,1218.4 1237.1,1218.2 1238.5,1218.1 1240.0,1217.9 1241.5,1217.7 1243.0,1217.5 1244.5,1217.3 1246.0,1217.1 1247.5,1216.9 1249.0,1216.7 1250.4,1216.5 1251.9,1216.2 1253.4,1216.0 1254.9,1215.7 1256.3,1215.4 1257.8,1215.0 1259.2,1214.6 1260.7,1214.2 1262.1,1213.7 1263.5,1213.2 1264.9,1212.7 1266.3,1212.2 1267.7,1211.6 1269.1,1211.0 1270.4,1210.4 1271.8,1209.8 1273.2,1209.2 1274.5,1208.6 1275.9,1207.9 1277.3,1207.3 1278.6,1206.7 1280.0,1206.0 1281.4,1205.4 1282.7,1204.8 1284.1,1204.3 1285.5,1203.8 1286.9,1203.3 1288.4,1202.8 1289.8,1202.3 1291.2,1201.9 1292.7,1201.5 1294.1,1201.0 1295.5,1200.6 1296.9,1200.1 1298.3,1199.5 1299.7,1198.9 1301.0,1198.3 1302.3,1197.6 1303.7,1196.9 1305.0,1196.1 1306.3,1195.4 1307.6,1194.8 1309.0,1194.1 1310.3,1193.5 1311.7,1192.9 1313.1,1192.3 1314.5,1191.8 1315.9,1191.2 1317.2,1190.6 1318.6,1190.0 1319.9,1189.4 1321.3,1188.6 1322.5,1187.9 1323.8,1187.1 1325.0,1186.2 1326.2,1185.4 1327.5,1184.5 1328.7,1183.6 1329.9,1182.8 1331.2,1182.0 1332.4,1181.2 1333.8,1180.5 1335.1,1179.9 1336.5,1179.3 1337.9,1178.7 1339.2,1178.2 1340.6,1177.6 1341.9,1176.9 1343.2,1176.2 1344.4,1175.4 1345.6,1174.5 1346.8,1173.6 1347.9,1172.6 1349.0,1171.6 1350.1,1170.6 1351.2,1169.6 1352.3,1168.6 1353.5,1167.6 1354.6,1166.6 1355.7,1165.6 1356.9,1164.7 1358.0,1163.7 1359.2,1162.8 1360.4,1161.8 1361.5,1160.9 1362.7,1159.9 1363.8,1158.9 1364.8,1157.8 1365.8,1156.7 1366.8,1155.6 1367.8,1154.4 1368.6,1153.3 1369.5,1152.0 1370.3,1150.8 1371.2,1149.5 1372.0,1148.3 1372.8,1147.0 1373.6,1145.8 1374.4,1144.5 1375.3,1143.3 1376.2,1142.1 1377.1,1140.9 1378.0,1139.7 1378.9,1138.5 1379.8,1137.3 1380.6,1136.1 1381.5,1134.8 1382.3,1133.6 1383.1,1132.3 1383.8,1131.0 1384.5,1129.6 1385.1,1128.3 1385.8,1126.9 1386.4,1125.6 1386.9,1124.2 1387.5,1122.8 1388.1,1121.4 1388.6,1120.0 1389.2,1118.6 1389.7,1117.2 1390.3,1115.8 1390.9,1114.5 1391.5,1113.1 1392.0,1111.7 1392.6,1110.3 1393.2,1108.9 1393.8,1107.5 1394.4,1106.2 1395.0,1104.8 1395.5,1103.4 1396.1,1102.0 1396.7,1100.6 1397.3,1099.2 1397.9,1097.9 1398.4,1096.5 1399.0,1095.1 1399.6,1093.7 1400.2,1092.3 1400.7,1090.9 1401.3,1089.5 1401.9,1088.1 1402.4,1086.8 1403.0,1085.4 1403.6,1084.0 1404.1,1082.6 1404.7,1081.2 1405.2,1079.8 1405.7,1078.4 1406.2,1077.0 1406.7,1075.5 1407.2,1074.1 1407.6,1072.7 1408.0,1071.2 1408.5,1069.8 1408.9,1068.4 1409.3,1066.9 1409.7,1065.5 1410.1,1064.0 1410.5,1062.6 1410.9,1061.1 1411.3,1059.7 1411.7,1058.3 1412.1,1056.8 1412.5,1055.4 1412.9,1053.9 1413.3,1052.5 1413.7,1051.0 1414.1,1049.6 1414.5,1048.1 1414.9,1046.7 1415.4,1045.3 1415.8,1043.8 1416.3,1042.4 1416.7,1041.0 1417.2,1039.5 1417.7,1038.1 1418.1,1036.7 1418.6,1035.3 1419.1,1033.9 1419.6,1032.4 1420.1,1031.0 1420.6,1029.6 1421.1,1028.2 1421.6,1026.8 1422.1,1025.4 1422.6,1023.9 1423.1,1022.5 1423.6,1021.1 1424.2,1019.7 1424.7,1018.3 1425.3,1016.9 1425.9,1015.6 1426.4,1014.2 1427.0,1012.8 1427.7,1011.4 1428.3,1010.1 1428.9,1008.7 1429.6,1007.4 1430.3,1006.1 1431.0,1004.8 1431.8,1003.5 1432.5,1002.2 1433.3,1001.0 1434.3,999.8 1435.4,998.8 1436.6,998.1 1438.1,997.6 1439.6,997.7 1441.0,998.2 1442.3,998.9 1443.4,999.8 1444.5,1000.8 1445.5,1001.9 1446.4,1003.0 1447.3,1004.2 1448.0,1005.5 1448.7,1006.8 1449.3,1008.2 1449.9,1009.6 1450.4,1011.0 1450.9,1012.4 1451.4,1013.8 1451.9,1015.2 1452.3,1016.7 1452.7,1018.1 1453.1,1019.5 1453.5,1021.0 1453.9,1022.4 1454.2,1023.9 1454.6,1025.4 1454.9,1026.8 1455.2,1028.3 1455.6,1029.8 1455.9,1031.2 1456.2,1032.7 1456.5,1034.2 1456.8,1035.6 1457.1,1037.1 1457.4,1038.6 1457.7,1040.0 1457.9,1041.5 1458.2,1043.0 1458.4,1044.5 1458.6,1046.0 1458.8,1047.5 1459.0,1048.9 1459.2,1050.4 1459.3,1051.9 1459.5,1053.4 1459.7,1054.9 1459.8,1056.4 1460.0,1057.9 1460.1,1059.4 1460.3,1060.9 1460.4,1062.4 1460.6,1063.9 1460.7,1065.4 1460.9,1066.8 1461.0,1068.3 1461.2,1069.8 1461.3,1071.3 1461.5,1072.8 1461.6,1074.3 1461.8,1075.8 1462.0,1077.3 1462.1,1078.8 1462.3,1080.3 1462.5,1081.8 1462.6,1083.3 1462.8,1084.7 1463.0,1086.2 1463.2,1087.7 1463.4,1089.2 1463.5,1090.7 1463.7,1092.2 1463.9,1093.7 1464.1,1095.2 1464.3,1096.7 1464.5,1098.2 1464.6,1099.6 1464.8,1101.1 1465.0,1102.6 1465.2,1104.1 1465.4,1105.6 1465.5,1107.1 1465.7,1108.6 1465.9,1110.1 1466.1,1111.6 1466.2,1113.0 1466.4,1114.5 1466.6,1116.0 1466.7,1117.5 1466.9,1119.0 1467.1,1120.5 1467.2,1122.0 1467.4,1123.5 1467.6,1125.0 1467.7,1126.5 1467.9,1128.0 1468.1,1129.4 1468.3,1130.9 1468.5,1132.4 1468.6,1133.9 1468.8,1135.4 1469.0,1136.9 1469.2,1138.4 1469.4,1139.9 1469.6,1141.4 1469.8,1142.8 1470.1,1144.3 1470.3,1145.8 1470.5,1147.3 1470.7,1148.8 1470.9,1150.3 1471.1,1151.7 1471.4,1153.2 1471.6,1154.7 1471.9,1156.2 1472.1,1157.7 1472.4,1159.1 1472.7,1160.6 1472.9,1162.1 1473.2,1163.6 1473.5,1165.0 1473.9,1166.5 1474.2,1168.0 1474.5,1169.4 1474.9,1170.9 1475.2,1172.3 1475.6,1173.8 1476.0,1175.2 1476.4,1176.7 1476.9,1178.1 1477.3,1179.5 1477.9,1180.9 1478.4,1182.3 1479.0,1183.7 1479.6,1185.1 1480.3,1186.4 1481.0,1187.7 1481.7,1189.0 1482.5,1190.3 1483.4,1191.5 1484.3,1192.7 1485.2,1193.9 1486.2,1195.0 1487.2,1196.1 1488.3,1197.1 1489.4,1198.1 1490.6,1199.0 1491.8,1199.9 1493.0,1200.7 1494.3,1201.5 1495.6,1202.2 1496.9,1202.9 1498.3,1203.5 1499.7,1204.1 1501.1,1204.7 1502.5,1205.2 1503.9,1205.7 1505.3,1206.1 1506.7,1206.5 1508.2,1206.9 1509.7,1207.2 1511.1,1207.5 1512.6,1207.8 1514.1,1208.0 1515.5,1208.3 1517.0,1208.5 1518.5,1208.6 1520.0,1208.7 1521.5,1208.9 1523.0,1208.9 1524.5,1209.0 1526.0,1209.0 1527.5,1209.0 1529.0,1209.0 1530.5,1208.9 1532.0,1208.8 1533.5,1208.7 1535.0,1208.6 1536.5,1208.4 1538.0,1208.2 1539.5,1208.0 1540.9,1207.8 1542.4,1207.6 1543.9,1207.4 1545.4,1207.1 1546.9,1206.9 1548.3,1206.6 1549.8,1206.3 1551.3,1206.0 1552.7,1205.6 1554.2,1205.3 1555.6,1204.9 1557.1,1204.5 1558.5,1204.1 1559.9,1203.6 1561.4,1203.2 1562.8,1202.7 1564.2,1202.2 1565.6,1201.7 1567.0,1201.2 1568.4,1200.7 1569.9,1200.1 1571.3,1199.6 1572.7,1199.1 1574.0,1198.5 1575.4,1198.0 1576.8,1197.4 1578.2,1196.8 1579.6,1196.2 1581.0,1195.6 1582.3,1195.0 1583.7,1194.4 1585.1,1193.7 1586.4,1193.1 1587.8,1192.5 1589.1,1191.8 1590.5,1191.2 1591.9,1190.6 1593.2,1190.0 1594.6,1189.4 1596.0,1188.8 1597.4,1188.2 1598.7,1187.6 1600.1,1187.1 1601.5,1186.5 1602.9,1185.9 1604.3,1185.4 1605.7,1184.9 1607.1,1184.3 1608.5,1183.8 1610.0,1183.3 1611.4,1182.8 1612.8,1182.4 1614.2,1181.9 1615.7,1181.5 1617.1,1181.1 1618.6,1180.8 1620.0,1180.4 1621.5,1180.1 1623.0,1179.8 1624.4,1179.6 1625.9,1179.3 1627.4,1179.1 1628.9,1179.0 1630.4,1178.8 1631.9,1178.7 1633.4,1178.6 1634.9,1178.6 1636.4,1178.6 1637.9,1178.7 1639.3,1178.8 1640.8,1179.0 1642.3,1179.2 1643.8,1179.5 1645.2,1179.8 1646.6,1180.3 1648.1,1180.7 1649.5,1181.3 1650.8,1181.8 1652.2,1182.5 1653.5,1183.2 1654.8,1183.9 1656.1,1184.7 1657.3,1185.5 1658.6,1186.3 1659.8,1187.2 1661.0,1188.0 1662.2,1188.9 1663.4,1189.8 1664.6,1190.7 1665.8,1191.7 1667.0,1192.6 1668.2,1193.5 1669.3,1194.5 1670.5,1195.5 1671.6,1196.5 1672.7,1197.5 1673.8,1198.5 1674.9,1199.5 1676.0,1200.5 1677.1,1201.5 1678.3,1202.5 1679.4,1203.4 1680.6,1204.4 1681.8,1205.3 1683.0,1206.2 1684.2,1207.0 1685.5,1207.8 1686.7,1208.6 1688.0,1209.4 1689.3,1210.2 1690.6,1210.9 1691.9,1211.7 1693.3,1212.3 1694.6,1213.0 1695.9,1213.7 1697.3,1214.3 1698.7,1214.8 1700.1,1215.4 1701.5,1215.9 1702.9,1216.3 1704.4,1216.7 1705.8,1217.1 1707.3,1217.4 1708.8,1217.7 1710.2,1218.0 1711.7,1218.2 1713.2,1218.3 1714.7,1218.5 1716.2,1218.6 1717.7,1218.7 1719.2,1218.8 1720.7,1218.8 1722.2,1218.8 1723.7,1218.9 1725.2,1218.9 1726.7,1218.9 1728.2,1218.9 1729.7,1219.0 1731.2,1219.0 1732.7,1219.0 1734.2,1219.1 1735.7,1219.1 1737.2,1219.1 1738.7,1219.2 1740.2,1219.2 1741.7,1219.2 1743.2,1219.2 1744.7,1219.3 1746.2,1219.3 1747.7,1219.3 1749.2,1219.3 1750.7,1219.3 1752.2,1219.3 1753.7,1219.4 1755.2,1219.4 1756.7,1219.4 1758.2,1219.4 1759.7,1219.4 1761.2,1219.4 1762.7,1219.4 1764.2,1219.4 1765.7,1219.4 1767.2,1219.4 1768.7,1219.4 1770.2,1219.3 1771.7,1219.3 1773.2,1219.3 1774.7,1219.3 1776.2,1219.3 1777.7,1219.3 1779.2,1219.3 1780.7,1219.3 1782.2,1219.3 1783.7,1219.2 1785.2,1219.2 1786.7,1219.2 1788.2,1219.2 1789.7,1219.2 1791.2,1219.2 1792.7,1219.1 1794.2,1219.1 1795.7,1219.1 1797.2,1219.1 1798.7,1219.1 1800.2,1219.1 1801.7,1219.0 1803.2,1219.0 1804.7,1219.0 1806.2,1219.0 1807.7,1219.0 1809.2,1218.9 1810.7,1218.9 1812.2,1218.9 1813.7,1218.9 1815.2,1218.8 1816.7,1218.8 1818.2,1218.8 1819.7,1218.8 1821.2,1218.8 1822.7,1218.7 1824.2,1218.7 1825.7,1218.7 1827.2,1218.7 1828.7,1218.6 1830.2,1218.6 1831.7,1218.6 1833.2,1218.6 1834.7,1218.6 1836.2,1218.5 1837.7,1218.5 1839.2,1218.5 1840.7,1218.5 1842.2,1218.4 1843.7,1218.4 1845.2,1218.4 1846.7,1218.4 1848.2,1218.4 1849.7,1218.3 1851.2,1218.3 1852.7,1218.3 1854.2,1218.3 1855.7,1218.3 1857.2,1218.2 1858.7,1218.2 1860.2,1218.2 1861.7,1218.2 1863.2,1218.2 1864.7,1218.1 1866.2,1218.1 1867.7,1218.1 1869.2,1218.1 1870.7,1218.1 1872.2,1218.1 1873.7,1218.1 1875.2,1218.0 1876.7,1218.0 1878.2,1218.0 1879.7,1218.0"/>
<path stroke="#0000ff" d="M1067.6,1222.0 1069.1,1222.0 1070.6,1222.0 1072.1,1222.0 1073.6,1222.0 1075.1,1222.0 1076.6,1222.0 1078.1,1222.0 1079.6,1222.0 1081.1,1222.0 1082.6,1222.0 1084.1,1222.0 1085.6,1222.0 1087.1,1222.0 1088.6,1222.0 1090.1,1222.0 1091.6,1222.0 1093.1,1222.0 1094.6,1222.0 1096.1,1222.0 1097.6,1222.0 1099.1,1222.0 1100.6,1222.0 1102.1,1222.0 1103.6,1222.0 1105.1,1222.0 1106.6,1222.0 1108.1,1222.0 1109.6,1222.0 1111.1,1222.0 1112.6,1222.0 1114.1,1222.0 1115.6,1222.0 1117.1,1222.0 1118.6,1222.0 1120.1,1222.0 1121.6,1222.0 1123.1,1222.0 1124.6,1222.0 1126.1,1222.0 1127.6,1222.0 1129.1,1222.0 1130.6,1222.0 1132.1,1222.0 1133.6,1222.0 1135.1,1222.0 1136.6,1222.0 1138.1,1222.0 1139.6,1222.0 1141.1,1222.0 1142.6,1222.0 1144.1,1222.0 1145.6,1222.0 1147.1,1222.0 1148.6,1222.0 1150.1,1222.0 1151.6,1222.0 1153.1,1222.0 1154.6,1222.0 1156.1,1222.0 1157.6,1222.0 1159.1,1222.0 1160.6,1222.0 1162.1,1222.0 1163.6,1222.0 1165.1,1222.0 1166.6,1222.0 1168.1,1222.0 1169.6,1222.0 1171.1,1222.0 1172.6,1222.0 1174.1,1222.0 1175.6,1221.9 1177.1,1221.9 1178.6,1221.9 1180.1,1221.9 1181.6,1221.9 1183.1,1221.9 1184.6,1221.9 1186.1,1221.9 1187.6,1221.9 1189.1,1221.9 1190.6,1221.9 1192.1,1221.9 1193.6,1221.9 1195.1,1221.8 1196.6,1221.8 1198.1,1221.8 1199.6,1221.8 1201.1,1221.8 1202.6,1221.8 1204.1,1221.8 1205.6,1221.8 1207.1,1221.8 1208.6,1221.8 1210.1,1221.8 1211.6,1221.8 1213.1,1221.7 1214.6,1221.7 1216.1,1221.7 1217.6,1221.7 1219.1,1221.7 1220.6,1221.7 1222.1,1221.7 1223.6,1221.7 1225.1,1221.7 1226.6,1221.7 1228.1,1221.7 1229.6,1221.7 1231.1,1221.7 1232.6,1221.7 1234.1,1221.7 1235.6,1221.7 1237.1,1221.7 1238.6,1221.7 1240.1,1221.7 1241.6,1221.6 1243.1,1221.6 1244.6,1221.5 1246.1,1221.4 1247.6,1221.3 1249.1,1221.1 1250.6,1221.0 1252.1,1220.8 1253.6,1220.7 1255.1,1220.5 1256.5,1220.3 1258.0,1220.1 1259.5,1219.8 1261.0,1219.6 1262.5,1219.3 1263.9,1219.0 1265.4,1218.7 1266.9,1218.4 1268.3,1218.1 1269.8,1217.7 1271.2,1217.4 1272.7,1217.0 1274.1,1216.6 1275.6,1216.2 1277.0,1215.7 1278.4,1215.3 1279.9,1214.8 1281.3,1214.3 1282.7,1213.7 1284.1,1213.2 1285.4,1212.6 1286.8,1211.9 1288.1,1211.3 1289.5,1210.6 1290.8,1210.0 1292.2,1209.3 1293.5,1208.7 1294.9,1208.2 1296.3,1207.7 1297.8,1207.3 1299.2,1207.0 1300.7,1206.7 1302.1,1206.4 1303.6,1206.2 1305.1,1205.9 1306.6,1205.7 1308.0,1205.4 1309.5,1205.0 1311.0,1204.7 1312.4,1204.3 1313.8,1203.9 1315.3,1203.4 1316.7,1203.0 1318.1,1202.5 1319.5,1202.0 1321.0,1201.5 1322.4,1201.0 1323.7,1200.4 1325.1,1199.8 1326.5,1199.3 1327.9,1198.7 1329.2,1198.0 1330.6,1197.4 1331.9,1196.7 1333.3,1196.0 1334.6,1195.3 1335.9,1194.5 1337.2,1193.8 1338.4,1193.0 1339.7,1192.2 1340.9,1191.3 1342.2,1190.5 1343.4,1189.6 1344.6,1188.7 1345.8,1187.8 1347.0,1186.9 1348.2,1186.0 1349.3,1185.0 1350.5,1184.0 1351.6,1183.1 1352.7,1182.1 1353.8,1181.0 1354.9,1180.0 1356.0,1179.0 1357.0,1177.9 1358.1,1176.8 1359.1,1175.7 1360.1,1174.6 1361.0,1173.5 1362.0,1172.3 1362.9,1171.1 1363.8,1169.9 1364.6,1168.6 1365.4,1167.4 1366.2,1166.1 1366.9,1164.8 1367.7,1163.5 1368.4,1162.2 1369.1,1160.9 1369.7,1159.5 1370.4,1158.2 1371.1,1156.8 1371.7,1155.5 1372.4,1154.1 1373.0,1152.8 1373.6,1151.4 1374.3,1150.0 1374.9,1148.7 1375.5,1147.3 1376.1,1145.9 1376.7,1144.6 1377.3,1143.2 1377.9,1141.8 1378.4,1140.4 1379.0,1139.0 1379.5,1137.6 1380.1,1136.2 1380.6,1134.8 1381.1,1133.4 1381.5,1132.0 1382.0,1130.5 1382.5,1129.1 1382.9,1127.7 1383.4,1126.2 1383.8,1124.8 1384.2,1123.4 1384.7,1121.9 1385.1,1120.5 1385.5,1119.1 1385.9,1117.6 1386.3,1116.2 1386.7,1114.7 1387.2,1113.3 1387.6,1111.8 1388.0,1110.4 1388.4,1109.0 1388.8,1107.5 1389.2,1106.1 1389.7,1104.6 1390.1,1103.2 1390.5,1101.8 1390.9,1100.3 1391.3,1098.9 1391.7,1097.4 1392.2,1096.0 1392.6,1094.5 1393.0,1093.1 1393.4,1091.7 1393.8,1090.2 1394.2,1088.8 1394.6,1087.3 1395.0,1085.9 1395.4,1084.4 1395.7,1083.0 1396.1,1081.5 1396.5,1080.1 1396.9,1078.6 1397.2,1077.2 1397.6,1075.7 1398.0,1074.2 1398.3,1072.8 1398.7,1071.3 1399.0,1069.9 1399.3,1068.4 1399.7,1066.9 1400.0,1065.5 1400.4,1064.0 1400.7,1062.6 1401.1,1061.1 1401.4,1059.6 1401.8,1058.2 1402.1,1056.7 1402.5,1055.3 1402.8,1053.8 1403.2,1052.4 1403.5,1050.9 1403.9,1049.4 1404.2,1048.0 1404.6,1046.5 1405.0,1045.1 1405.3,1043.6 1405.6,1042.2 1406.0,1040.7 1406.3,1039.2 1406.7,1037.8 1407.0,1036.3 1407.3,1034.8 1407.6,1033.4 1408.0,1031.9 1408.3,1030.4 1408.6,1029.0 1408.9,1027.5 1409.2,1026.0 1409.5,1024.6 1409.8,1023.1 1410.1,1021.6 1410.3,1020.1 1410.6,1018.7 1410.9,1017.2 1411.2,1015.7 1411.4,1014.2 1411.7,1012.8 1411.9,1011.3 1412.2,1009.8 1412.4,1008.3 1412.7,1006.8 1412.9,1005.4 1413.1,1003.9 1413.3,1002.4 1413.6,1000.9 1413.8,999.4 1414.0,997.9 1414.2,996.5 1414.4,995.0 1414.7,993.5 1414.9,992.0 1415.1,990.5 1415.4,989.1 1415.6,987.6 1415.9,986.1 1416.2,984.6 1416.4,983.1 1416.7,981.7 1417.0,980.2 1417.2,978.7 1417.5,977.2 1417.8,975.8 1418.1,974.3 1418.3,972.8 1418.6,971.3 1418.9,969.9 1419.1,968.4 1419.4,966.9 1419.7,965.4 1419.9,964.0 1420.2,962.5 1420.5,961.0 1420.7,959.5 1421.0,958.1 1421.3,956.6 1421.5,955.1 1421.8,953.6 1422.1,952.2 1422.4,950.7 1422.7,949.2 1423.0,947.7 1423.3,946.3 1423.6,944.8 1423.9,943.3 1424.2,941.9 1424.5,940.4 1424.8,938.9 1425.0,937.4 1425.3,936.0 1425.6,934.5 1425.9,933.0 1426.2,931.6 1426.5,930.1 1426.8,928.6 1427.1,927.2 1427.4,925.7 1427.8,924.2 1428.1,922.7 1428.4,921.3 1428.7,919.8 1429.0,918.4 1429.4,916.9 1429.7,915.4 1430.1,914.0 1430.4,912.5 1430.8,911.1 1431.1,909.6 1431.5,908.1 1431.9,906.7 1432.2,905.2 1432.6,903.8 1433.0,902.3 1433.3,900.9 1433.7,899.4 1434.0,898.0 1434.4,896.5 1434.8,895.1 1435.2,893.6 1435.6,892.2 1436.1,890.8 1436.7,889.4 1437.3,888.0 1438.0,886.7 1438.7,885.4 1439.5,884.2 1440.3,883.0 1441.2,881.8 1442.2,880.7 1443.5,879.8 1444.9,879.7 1446.1,880.6 1447.1,881.8 1447.9,883.0 1448.7,884.3 1449.4,885.6 1450.0,886.9 1450.6,888.3 1451.1,889.7 1451.6,891.1 1452.0,892.5 1452.3,894.0 1452.6,895.5 1452.9,896.9 1453.1,898.4 1453.4,899.9 1453.6,901.4 1453.8,902.9 1454.0,904.3 1454.3,905.8 1454.5,907.3 1454.7,908.8 1455.0,910.3 1455.3,911.7 1455.5,913.2 1455.8,914.7 1456.1,916.2 1456.3,917.6 1456.6,919.1 1456.9,920.6 1457.1,922.1 1457.4,923.5 1457.7,925.0 1457.9,926.5 1458.2,928.0 1458.4,929.5 1458.6,931.0 1458.9,932.4 1459.1,933.9 1459.3,935.4 1459.5,936.9 1459.7,938.4 1459.9,939.9 1460.1,941.3 1460.3,942.8 1460.4,944.3 1460.6,945.8 1460.8,947.3 1460.9,948.8 1461.0,950.3 1461.2,951.8 1461.3,953.3 1461.4,954.8 1461.5,956.3 1461.5,957.8 1461.6,959.3 1461.7,960.8 1461.7,962.3 1461.8,963.8 1461.9,965.3 1461.9,966.8 1462.0,968.3 1462.0,969.8 1462.1,971.3 1462.2,972.8 1462.3,974.3 1462.3,975.8 1462.4,977.3 1462.5,978.8 1462.6,980.3 1462.8,981.7 1462.9,983.2 1463.0,984.7 1463.2,986.2 1463.3,987.7 1463.4,989.2 1463.6,990.7 1463.8,992.2 1463.9,993.7 1464.1,995.2 1464.2,996.7 1464.4,998.2 1464.6,999.7 1464.7,1001.2 1464.9,1002.6 1465.0,1004.1 1465.2,1005.6 1465.4,1007.1 1465.5,1008.6 1465.7,1010.1 1465.8,1011.6 1466.0,1013.1 1466.1,1014.6 1466.2,1016.1 1466.4,1017.6 1466.5,1019.1 1466.6,1020.6 1466.7,1022.1 1466.8,1023.6 1466.9,1025.1 1467.0,1026.5 1467.1,1028.0 1467.2,1029.5 1467.3,1031.0 1467.4,1032.5 1467.5,1034.0 1467.6,1035.5 1467.7,1037.0 1467.8,1038.5 1467.9,1040.0 1468.0,1041.5 1468.1,1043.0 1468.2,1044.5 1468.3,1046.0 1468.4,1047.5 1468.5,1049.0 1468.6,1050.5 1468.7,1052.0 1468.8,1053.5 1468.9,1055.0 1469.1,1056.5 1469.2,1058.0 1469.3,1059.5 1469.4,1061.0 1469.6,1062.5 1469.7,1064.0 1469.8,1065.5 1470.0,1066.9 1470.1,1068.4 1470.3,1069.9 1470.4,1071.4 1470.6,1072.9 1470.7,1074.4 1470.9,1075.9 1471.0,1077.4 1471.2,1078.9 1471.3,1080.4 1471.5,1081.9 1471.6,1083.4 1471.8,1084.9 1471.9,1086.4 1472.1,1087.8 1472.3,1089.3 1472.4,1090.8 1472.6,1092.3 1472.7,1093.8 1472.9,1095.3 1473.1,1096.8 1473.2,1098.3 1473.4,1099.8 1473.6,1101.3 1473.7,1102.8 1473.9,1104.2 1474.0,1105.7 1474.2,1107.2 1474.4,1108.7 1474.5,1110.2 1474.7,1111.7 1474.9,1113.2 1475.0,1114.7 1475.2,1116.2 1475.4,1117.7 1475.5,1119.2 1475.7,1120.7 1475.9,1122.1 1476.1,1123.6 1476.2,1125.1 1476.4,1126.6 1476.6,1128.1 1476.7,1129.6 1476.9,1131.1 1477.1,1132.6 1477.3,1134.1 1477.5,1135.5 1477.7,1137.0 1477.9,1138.5 1478.0,1140.0 1478.3,1141.5 1478.5,1143.0 1478.7,1144.5 1478.9,1145.9 1479.2,1147.4 1479.4,1148.9 1479.7,1150.4 1480.0,1151.9 1480.3,1153.3 1480.5,1154.8 1480.8,1156.3 1481.1,1157.7 1481.4,1159.2 1481.7,1160.7 1482.1,1162.1 1482.4,1163.6 1482.7,1165.1 1483.1,1166.5 1483.4,1168.0 1483.8,1169.4 1484.2,1170.9 1484.6,1172.3 1485.0,1173.8 1485.5,1175.2 1486.0,1176.6 1486.4,1178.0 1487.0,1179.4 1487.5,1180.8 1488.1,1182.2 1488.7,1183.6 1489.3,1185.0 1490.0,1186.3 1490.6,1187.6 1491.4,1188.9 1492.1,1190.2 1492.9,1191.5 1493.7,1192.7 1494.6,1193.9 1495.6,1195.1 1496.6,1196.2 1497.6,1197.2 1498.7,1198.2 1499.9,1199.1 1501.1,1200.0 1502.4,1200.8 1503.7,1201.5 1505.0,1202.2 1506.3,1202.9 1507.6,1203.6 1509.0,1204.2 1510.4,1204.9 1511.7,1205.5 1513.1,1206.1 1514.5,1206.6 1515.9,1207.1 1517.3,1207.6 1518.7,1208.1 1520.2,1208.6 1521.6,1209.0 1523.1,1209.4 1524.5,1209.7 1526.0,1210.0 1527.4,1210.3 1528.9,1210.6 1530.4,1210.8 1531.9,1211.1 1533.4,1211.3 1534.9,1211.4 1536.4,1211.6 1537.8,1211.7 1539.3,1211.8 1540.8,1211.9 1542.3,1211.9 1543.8,1211.9 1545.3,1211.9 1546.8,1211.9 1548.3,1211.9 1549.8,1211.8 1551.3,1211.8 1552.8,1211.7 1554.3,1211.6 1555.8,1211.5 1557.3,1211.4 1558.8,1211.2 1560.3,1211.1 1561.8,1210.9 1563.3,1210.7 1564.8,1210.5 1566.3,1210.3 1567.7,1210.1 1569.2,1209.9 1570.7,1209.7 1572.2,1209.4 1573.7,1209.2 1575.1,1208.9 1576.6,1208.6 1578.1,1208.3 1579.5,1208.0 1581.0,1207.7 1582.5,1207.4 1583.9,1207.1 1585.4,1206.7 1586.9,1206.4 1588.3,1206.1 1589.8,1205.8 1591.3,1205.4 1592.7,1205.1 1594.2,1204.8 1595.7,1204.5 1597.1,1204.2 1598.6,1203.9 1600.1,1203.5 1601.5,1203.2 1603.0,1202.9 1604.5,1202.5 1605.9,1202.2 1607.4,1201.9 1608.8,1201.5 1610.3,1201.2 1611.8,1200.8 1613.2,1200.5 1614.7,1200.2 1616.2,1199.8 1617.6,1199.5 1619.1,1199.2 1620.5,1198.9 1622.0,1198.6 1623.5,1198.3 1625.0,1198.1 1626.5,1197.8 1627.9,1197.6 1629.4,1197.4 1630.9,1197.3 1632.4,1197.1 1633.9,1197.0 1635.4,1197.0 1636.9,1197.0 1638.4,1197.1 1639.9,1197.2 1641.3,1197.4 1642.8,1197.6 1644.3,1197.9 1645.7,1198.2 1647.2,1198.6 1648.6,1199.0 1650.0,1199.5 1651.5,1200.0 1652.9,1200.5 1654.3,1201.0 1655.7,1201.6 1657.0,1202.2 1658.4,1202.7 1659.8,1203.3 1661.2,1203.9 1662.5,1204.6 1663.9,1205.2 1665.2,1205.9 1666.6,1206.6 1667.9,1207.3 1669.2,1208.0 1670.5,1208.7 1671.8,1209.4 1673.2,1210.1 1674.5,1210.8 1675.8,1211.5 1677.2,1212.2 1678.5,1212.8 1679.9,1213.4 1681.3,1214.0 1682.7,1214.5 1684.1,1215.0 1685.5,1215.4 1687.0,1215.8 1688.4,1216.2 1689.9,1216.5 1691.3,1216.8 1692.8,1217.1 1694.3,1217.3 1695.8,1217.6 1697.3,1217.8 1698.7,1218.0 1700.2,1218.1 1701.7,1218.3 1703.2,1218.5 1704.7,1218.6 1706.2,1218.7 1707.7,1218.9 1709.2,1219.0 1710.7,1219.1 1712.2,1219.2 1713.7,1219.3 1715.2,1219.3 1716.7,1219.4 1718.2,1219.5 1719.7,1219.5 1721.2,1219.6 1722.7,1219.6 1724.2,1219.7 1725.7,1219.7 1727.2,1219.8 1728.7,1219.8 1730.2,1219.8 1731.7,1219.8 1733.2,1219.9 1734.7,1219.9 1736.2,1219.9 1737.7,1219.9 1739.2,1219.9 1740.7,1219.9 1742.2,1220.0 1743.7,1220.0 1745.2,1220.0 1746.7,1220.0 1748.2,1220.0 1749.7,1220.0 1751.2,1220.0 1752.7,1220.0 1754.2,1220.1 1755.7,1220.1 1757.2,1220.1 1758.7,1220.1 1760.2,1220.1 1761.7,1220.1 1763.2,1220.1 1764.7,1220.2 1766.2,1220.2 1767.7,1220.2 1769.2,1220.2 1770.7,1220.2 1772.2,1220.2 1773.7,1220.2 1775.2,1220.2 1776.7,1220.2 1778.2,1220.2 1779.7,1220.2 1781.2,1220.2 1782.7,1220.2 1784.2,1220.2 1785.7,1220.2 1787.2,1220.2 1788.7,1220.2 1790.2,1220.2 1791.7,1220.2 1793.2,1220.2 1794.7,1220.2 1796.2,1220.1 1797.7,1220.1 1799.2,1220.1 1800.7,1220.1 1802.2,1220.1 1803.7,1220.1 1805.2,1220.1 1806.7,1220.1 1808.2,1220.1 1809.7,1220.1 1811.2,1220.0 1812.7,1220.0 1814.2,1220.0 1815.7,1220.0 1817.2,1220.0 1818.7,1220.0 1820.2,1220.0 1821.7,1220.0 1823.2,1220.0 1824.7,1219.9 1826.2,1219.9 1827.7,1219.9 1829.2,1219.9 1830.7,1219.9 1832.2,1219.9 1833.7,1219.9 1835.2,1219.8 1836.7,1219.8 1838.2,1219.8 1839.7,1219.8 1841.2,1219.8 1842.7,1219.8 1844.2,1219.8 1845.7,1219.8 1847.2,1219.7 1848.7,1219.7 1850.2,1219.7 1851.7,1219.7 1853.2,1219.7 1854.7,1219.7 1856.2,1219.7 1857.7,1219.6 1859.2,1219.6 1860.7,1219.6 1862.2,1219.6 1863.7,1219.6 1865.2,1219.6 1866.7,1219.6 1868.2,1219.6 1869.7,1219.6 1871.2,1219.6 1872.7,1219.5 1874.2,1219.5 1875.7,1219.5 1877.2,1219.5 1878.7,1219.5 1879.7,1219.5"/>
<path stroke="#008080" d="M1067.6,1218.3 1069.1,1218.4 1070.6,1218.4 1072.1,1218.5 1073.6,1218.6 1075.1,1218.7 1076.6,1218.7 1078.1,1218.8 1079.6,1218.9 1081.1,1219.0 1082.6,1219.0 1084.1,1219.1 1085.6,1219.2 1087.1,1219.3 1088.6,1219.4 1090.1,1219.4 1091.6,1219.5 1093.1,1219.6 1094.6,1219.6 1096.1,1219.7 1097.6,1219.8 1099.1,1219.9 1100.6,1219.9 1102.1,1220.0 1103.6,1220.1 1105.1,1220.1 1106.6,1220.2 1108.1,1220.3 1109.6,1220.3 1111.0,1220.4 1112.5,1220.5 1114.0,1220.5 1115.5,1220.6 1117.0,1220.7 1118.5,1220.7 1120.0,1220.8 1121.5,1220.9 1123.0,1220.9 1124.5,1221.0 1126.0,1221.1 1127.5,1221.1 1129.0,1221.2 1130.5,1221.2 1132.0,1221.3 1133.5,1221.4 1135.0,1221.4 1136.5,1221.5 1138.0,1221.5 1139.5,1221.6 1141.0,1221.7 1142.5,1221.7 1144.0,1221.8 1145.5,1221.8 1147.0,1221.9 1148.5,1221.9 1150.0,1222.0 1151.5,1222.0 1153.0,1222.1 1154.5,1222.1 1156.0,1222.2 1157.5,1222.2 1159.0,1222.2 1160.5,1222.3 1162.0,1222.3 1163.5,1222.3 1165.0,1222.4 1166.5,1222.4 1168.0,1222.4 1169.5,1222.5 1171.0,1222.5 1172.5,1222.5 1174.0,1222.6 1175.5,1222.6 1177.0,1222.6 1178.5,1222.6 1180.0,1222.7 1181.5,1222.7 1183.0,1222.7 1184.5,1222.7 1186.0,1222.8 1187.5,1222.8 1189.0,1222.8 1190.5,1222.8 1192.0,1222.8 1193.5,1222.9 1195.0,1222.9 1196.5,1222.9 1198.0,1222.9 1199.5,1222.9 1201.0,1222.9 1202.5,1223.0 1204.0,1223.0 1205.5,1223.0 1207.0,1223.0 1208.5,1223.0 1210.0,1223.0 1211.5,1223.0 1213.0,1223.0 1214.5,1223.0 1216.0,1223.0 1217.5,1223.0 1219.0,1223.0 1220.5,1223.0 1222.0,1223.0 1223.5,1223.0 1225.0,1223.0 1226.5,1222.9 1228.0,1222.9 1229.5,1222.9 1231.0,1222.8 1232.5,1222.8 1234.0,1222.7 1235.5,1222.7 1237.0,1222.6 1238.5,1222.6 1240.0,1222.5 1241.5,1222.5 1243.0,1222.5 1244.5,1222.4 1246.0,1222.4 1247.5,1222.4 1249.0,1222.4 1250.5,1222.4 1252.0,1222.4 1253.5,1222.3 1255.0,1222.3 1256.5,1222.3 1258.0,1222.3 1259.5,1222.3 1261.0,1222.3 1262.5,1222.3 1264.0,1222.2 1265.5,1222.2 1267.0,1222.2 1268.5,1222.2 1270.0,1222.1 1271.5,1222.1 1273.0,1222.0 1274.5,1222.0 1276.0,1221.9 1277.5,1221.8 1279.0,1221.8 1280.5,1221.7 1282.0,1221.6 1283.5,1221.5 1285.0,1221.4 1286.5,1221.3 1288.0,1221.1 1289.5,1221.0 1291.0,1220.9 1292.4,1220.7 1293.9,1220.6 1295.4,1220.4 1296.9,1220.2 1298.4,1220.1 1299.9,1219.9 1301.4,1219.7 1302.9,1219.5 1304.4,1219.3 1305.8,1219.0 1307.3,1218.8 1308.8,1218.5 1310.3,1218.3 1311.7,1218.0 1313.2,1217.7 1314.7,1217.3 1316.1,1217.0 1317.6,1216.7 1319.0,1216.3 1320.5,1215.9 1321.9,1215.5 1323.4,1215.1 1324.8,1214.7 1326.3,1214.3 1327.7,1213.8 1329.1,1213.3 1330.5,1212.8 1331.9,1212.2 1333.3,1211.7 1334.7,1211.1 1336.0,1210.5 1337.4,1209.8 1338.7,1209.2 1340.0,1208.4 1341.3,1207.7 1342.6,1206.9 1343.8,1206.1 1345.1,1205.2 1346.2,1204.3 1347.4,1203.4 1348.5,1202.4 1349.6,1201.4 1350.7,1200.3 1351.8,1199.3 1352.8,1198.2 1353.8,1197.0 1354.8,1195.9 1355.7,1194.7 1356.6,1193.6 1357.5,1192.4 1358.4,1191.2 1359.3,1189.9 1360.1,1188.7 1360.9,1187.5 1361.8,1186.2 1362.6,1184.9 1363.4,1183.7 1364.1,1182.4 1364.9,1181.1 1365.7,1179.8 1366.4,1178.5 1367.1,1177.2 1367.9,1175.9 1368.6,1174.5 1369.3,1173.2 1369.9,1171.9 1370.6,1170.5 1371.3,1169.2 1371.9,1167.8 1372.5,1166.5 1373.1,1165.1 1373.7,1163.7 1374.3,1162.3 1374.9,1161.0 1375.5,1159.6 1376.0,1158.2 1376.6,1156.8 1377.1,1155.4 1377.6,1154.0 1378.2,1152.6 1378.7,1151.2 1379.2,1149.7 1379.7,1148.3 1380.2,1146.9 1380.6,1145.5 1381.1,1144.1 1381.6,1142.6 1382.1,1141.2 1382.5,1139.8 1383.0,1138.4 1383.4,1136.9 1383.9,1135.5 1384.3,1134.1 1384.7,1132.6 1385.1,1131.2 1385.5,1129.7 1385.9,1128.3 1386.3,1126.8 1386.7,1125.4 1387.1,1123.9 1387.5,1122.5 1387.8,1121.0 1388.2,1119.6 1388.6,1118.1 1389.0,1116.7 1389.3,1115.2 1389.7,1113.8 1390.1,1112.3 1390.4,1110.9 1390.8,1109.4 1391.2,1108.0 1391.5,1106.5 1391.9,1105.0 1392.3,1103.6 1392.6,1102.1 1393.0,1100.7 1393.4,1099.2 1393.7,1097.8 1394.1,1096.3 1394.5,1094.9 1394.9,1093.4 1395.2,1092.0 1395.6,1090.5 1396.0,1089.1 1396.4,1087.6 1396.8,1086.2 1397.1,1084.7 1397.5,1083.2 1397.8,1081.8 1398.2,1080.3 1398.5,1078.9 1398.8,1077.4 1399.1,1075.9 1399.5,1074.5 1399.8,1073.0 1400.1,1071.5 1400.4,1070.1 1400.6,1068.6 1400.9,1067.1 1401.2,1065.6 1401.5,1064.2 1401.8,1062.7 1402.0,1061.2 1402.3,1059.7 1402.6,1058.3 1402.8,1056.8 1403.1,1055.3 1403.3,1053.8 1403.6,1052.4 1403.8,1050.9 1404.1,1049.4 1404.3,1047.9 1404.5,1046.4 1404.8,1044.9 1405.0,1043.5 1405.2,1042.0 1405.5,1040.5 1405.7,1039.0 1405.9,1037.5 1406.2,1036.1 1406.4,1034.6 1406.7,1033.1 1406.9,1031.6 1407.1,1030.1 1407.4,1028.7 1407.6,1027.2 1407.9,1025.7 1408.1,1024.2 1408.4,1022.7 1408.6,1021.3 1408.8,1019.8 1409.1,1018.3 1409.3,1016.8 1409.5,1015.3 1409.7,1013.8 1410.0,1012.4 1410.2,1010.9 1410.4,1009.4 1410.5,1007.9 1410.7,1006.4 1410.9,1004.9 1411.1,1003.4 1411.3,1001.9 1411.4,1000.4 1411.6,999.0 1411.8,997.5 1412.0,996.0 1412.2,994.5 1412.4,993.0 1412.6,991.5 1412.8,990.0 1413.1,988.6 1413.3,987.1 1413.6,985.6 1413.8,984.1 1414.1,982.6 1414.4,981.2 1414.6,979.7 1414.9,978.2 1415.2,976.8 1415.5,975.3 1415.7,973.8 1416.0,972.3 1416.3,970.8 1416.5,969.4 1416.8,967.9 1417.0,966.4 1417.2,964.9 1417.4,963.4 1417.7,962.0 1417.9,960.5 1418.1,959.0 1418.3,957.5 1418.5,956.0 1418.7,954.5 1418.9,953.0 1419.0,951.6 1419.2,950.1 1419.4,948.6 1419.6,947.1 1419.8,945.6 1420.0,944.1 1420.2,942.6 1420.4,941.1 1420.6,939.7 1420.8,938.2 1421.0,936.7 1421.2,935.2 1421.4,933.7 1421.6,932.2 1421.8,930.7 1422.0,929.2 1422.2,927.8 1422.4,926.3 1422.6,924.8 1422.8,923.3 1423.0,921.8 1423.1,920.3 1423.3,918.8 1423.5,917.3 1423.7,915.9 1423.9,914.4 1424.1,912.9 1424.3,911.4 1424.5,909.9 1424.6,908.4 1424.8,906.9 1425.0,905.4 1425.2,903.9 1425.4,902.5 1425.5,901.0 1425.7,899.5 1425.9,898.0 1426.1,896.5 1426.3,895.0 1426.5,893.5 1426.7,892.0 1426.9,890.6 1427.1,889.1 1427.3,887.6 1427.5,886.1 1427.7,884.6 1427.9,883.1 1428.1,881.6 1428.3,880.2 1428.6,878.7 1428.8,877.2 1429.0,875.7 1429.2,874.2 1429.4,872.7 1429.7,871.3 1429.9,869.8 1430.1,868.3 1430.4,866.8 1430.6,865.3 1430.8,863.8 1431.1,862.4 1431.3,860.9 1431.6,859.4 1431.8,857.9 1432.1,856.4 1432.3,855.0 1432.6,853.5 1432.8,852.0 1433.1,850.5 1433.3,849.0 1433.6,847.6 1433.8,846.1 1434.0,844.6 1434.3,843.1 1434.5,841.6 1434.8,840.2 1435.0,838.7 1435.3,837.2 1435.5,835.7 1435.8,834.3 1436.1,832.8 1436.4,831.3 1436.7,829.8 1437.0,828.4 1437.3,826.9 1437.6,825.4 1437.9,824.0 1438.3,822.5 1438.6,821.1 1439.1,819.6 1439.5,818.2 1440.0,816.8 1440.6,815.4 1441.2,814.1 1441.8,812.7 1442.5,811.4 1443.2,810.1 1444.0,808.8 1444.8,807.6 1445.7,806.4 1446.9,805.4 1448.3,805.6 1449.4,806.7 1450.2,807.9 1451.0,809.2 1451.7,810.5 1452.3,811.8 1452.9,813.2 1453.5,814.5 1454.0,815.9 1454.5,817.3 1455.0,818.8 1455.4,820.2 1455.8,821.6 1456.1,823.1 1456.4,824.6 1456.6,826.1 1456.9,827.5 1457.1,829.0 1457.3,830.5 1457.5,832.0 1457.7,833.5 1457.9,835.0 1458.1,836.4 1458.4,837.9 1458.6,839.4 1458.8,840.9 1459.0,842.4 1459.2,843.9 1459.5,845.3 1459.7,846.8 1459.9,848.3 1460.1,849.8 1460.3,851.3 1460.5,852.8 1460.7,854.3 1460.9,855.7 1461.1,857.2 1461.3,858.7 1461.4,860.2 1461.6,861.7 1461.8,863.2 1462.0,864.7 1462.2,866.2 1462.3,867.7 1462.5,869.2 1462.7,870.6 1462.8,872.1 1463.0,873.6 1463.2,875.1 1463.3,876.6 1463.5,878.1 1463.6,879.6 1463.8,881.1 1464.0,882.6 1464.1,884.1 1464.3,885.6 1464.4,887.0 1464.6,888.5 1464.7,890.0 1464.9,891.5 1465.0,893.0 1465.2,894.5 1465.3,896.0 1465.5,897.5 1465.7,899.0 1465.8,900.5 1466.0,902.0 1466.1,903.5 1466.3,905.0 1466.4,906.4 1466.6,907.9 1466.7,909.4 1466.9,910.9 1467.0,912.4 1467.2,913.9 1467.3,915.4 1467.4,916.9 1467.6,918.4 1467.7,919.9 1467.9,921.4 1468.0,922.9 1468.2,924.4 1468.3,925.9 1468.5,927.3 1468.6,928.8 1468.8,930.3 1468.9,931.8 1469.1,933.3 1469.3,934.8 1469.4,936.3 1469.6,937.8 1469.7,939.3 1469.9,940.8 1470.0,942.3 1470.2,943.8 1470.3,945.3 1470.4,946.7 1470.6,948.2 1470.7,949.7 1470.8,951.2 1471.0,952.7 1471.1,954.2 1471.2,955.7 1471.3,957.2 1471.4,958.7 1471.5,960.2 1471.6,961.7 1471.7,963.2 1471.9,964.7 1472.0,966.2 1472.1,967.7 1472.2,969.2 1472.3,970.7 1472.4,972.2 1472.5,973.7 1472.6,975.2 1472.7,976.7 1472.9,978.2 1473.0,979.6 1473.1,981.1 1473.3,982.6 1473.4,984.1 1473.5,985.6 1473.7,987.1 1473.8,988.6 1474.0,990.1 1474.1,991.6 1474.3,993.1 1474.4,994.6 1474.6,996.1 1474.8,997.6 1474.9,999.1 1475.1,1000.5 1475.2,1002.0 1475.4,1003.5 1475.5,1005.0 1475.7,1006.5 1475.8,1008.0 1476.0,1009.5 1476.1,1011.0 1476.3,1012.5 1476.4,1014.0 1476.6,1015.5 1476.7,1017.0 1476.9,1018.5 1477.0,1019.9 1477.1,1021.4 1477.3,1022.9 1477.4,1024.4 1477.5,1025.9 1477.6,1027.4 1477.8,1028.9 1477.9,1030.4 1478.0,1031.9 1478.2,1033.4 1478.3,1034.9 1478.4,1036.4 1478.5,1037.9 1478.6,1039.4 1478.8,1040.9 1478.9,1042.4 1479.0,1043.9 1479.1,1045.4 1479.3,1046.9 1479.4,1048.3 1479.5,1049.8 1479.6,1051.3 1479.7,1052.8 1479.9,1054.3 1480.0,1055.8 1480.1,1057.3 1480.2,1058.8 1480.4,1060.3 1480.5,1061.8 1480.6,1063.3 1480.7,1064.8 1480.9,1066.3 1481.0,1067.8 1481.1,1069.3 1481.2,1070.8 1481.4,1072.3 1481.5,1073.8 1481.6,1075.3 1481.8,1076.7 1481.9,1078.2 1482.0,1079.7 1482.1,1081.2 1482.3,1082.7 1482.4,1084.2 1482.5,1085.7 1482.6,1087.2 1482.8,1088.7 1482.9,1090.2 1483.0,1091.7 1483.1,1093.2 1483.3,1094.7 1483.4,1096.2 1483.5,1097.7 1483.6,1099.2 1483.8,1100.7 1483.9,1102.2 1484.0,1103.7 1484.1,1105.2 1484.2,1106.6 1484.3,1108.1 1484.4,1109.6 1484.5,1111.1 1484.6,1112.6 1484.7,1114.1 1484.9,1115.6 1485.0,1117.1 1485.1,1118.6 1485.2,1120.1 1485.3,1121.6 1485.4,1123.1 1485.5,1124.6 1485.7,1126.1 1485.8,1127.6 1485.9,1129.1 1486.1,1130.6 1486.3,1132.1 1486.4,1133.6 1486.6,1135.0 1486.8,1136.5 1487.0,1138.0 1487.3,1139.5 1487.6,1141.0 1487.9,1142.4 1488.2,1143.9 1488.6,1145.3 1488.9,1146.8 1489.3,1148.3 1489.6,1149.7 1490.0,1151.2 1490.3,1152.6 1490.7,1154.1 1491.0,1155.6 1491.3,1157.0 1491.6,1158.5 1492.0,1159.9 1492.3,1161.4 1492.7,1162.9 1493.0,1164.3 1493.4,1165.8 1493.8,1167.2 1494.2,1168.7 1494.7,1170.1 1495.1,1171.5 1495.6,1172.9 1496.1,1174.3 1496.7,1175.7 1497.2,1177.1 1497.8,1178.5 1498.4,1179.9 1499.0,1181.3 1499.6,1182.6 1500.3,1184.0 1500.9,1185.3 1501.7,1186.6 1502.4,1187.9 1503.2,1189.2 1503.9,1190.5 1504.8,1191.7 1505.6,1193.0 1506.5,1194.2 1507.4,1195.4 1508.3,1196.6 1509.3,1197.7 1510.3,1198.8 1511.3,1199.9 1512.4,1200.9 1513.5,1202.0 1514.6,1202.9 1515.7,1203.9 1516.9,1204.8 1518.1,1205.7 1519.4,1206.6 1520.6,1207.4 1521.9,1208.2 1523.2,1208.9 1524.5,1209.7 1525.8,1210.4 1527.2,1211.0 1528.5,1211.7 1529.9,1212.3 1531.2,1212.9 1532.6,1213.4 1534.0,1214.0 1535.4,1214.5 1536.8,1215.0 1538.2,1215.5 1539.7,1216.0 1541.1,1216.5 1542.5,1216.9 1544.0,1217.3 1545.4,1217.7 1546.9,1218.0 1548.3,1218.4 1549.8,1218.7 1551.3,1218.9 1552.8,1219.1 1554.3,1219.3 1555.7,1219.5 1557.2,1219.7 1558.7,1219.8 1560.2,1219.9 1561.7,1220.0 1563.2,1220.0 1564.7,1220.1 1566.2,1220.1 1567.7,1220.1 1569.2,1220.1 1570.7,1220.2 1572.2,1220.2 1573.7,1220.2 1575.2,1220.1 1576.7,1220.1 1578.2,1220.1 1579.7,1220.1 1581.2,1220.1 1582.7,1220.1 1584.2,1220.1 1585.7,1220.1 1587.2,1220.1 1588.7,1220.1 1590.2,1220.1 1591.7,1220.1 1593.2,1220.1 1594.7,1220.1 1596.2,1220.1 1597.7,1220.0 1599.2,1220.0 1600.7,1220.0 1602.2,1220.0 1603.7,1220.0 1605.2,1219.9 1606.7,1219.9 1608.2,1219.9 1609.7,1219.9 1611.2,1219.8 1612.7,1219.8 1614.2,1219.8 1615.7,1219.8 1617.2,1219.7 1618.7,1219.7 1620.2,1219.7 1621.7,1219.7 1623.2,1219.7 1624.7,1219.6 1626.2,1219.6 1627.7,1219.6 1629.2,1219.6 1630.7,1219.6 1632.2,1219.5 1633.7,1219.5 1635.2,1219.5 1636.7,1219.5 1638.2,1219.5 1639.7,1219.5 1641.2,1219.5 1642.7,1219.5 1644.2,1219.5 1645.7,1219.5 1647.2,1219.5 1648.7,1219.6 1650.2,1219.6 1651.7,1219.6 1653.2,1219.6 1654.7,1219.6 1656.2,1219.6 1657.7,1219.7 1659.2,1219.7 1660.7,1219.7 1662.2,1219.7 1663.7,1219.8 1665.2,1219.8 1666.7,1219.8 1668.2,1219.8 1669.7,1219.9 1671.2,1219.9 1672.7,1219.9 1674.2,1219.9 1675.7,1220.0 1677.2,1220.0 1678.7,1220.0 1680.2,1220.0 1681.7,1220.0 1683.2,1220.1 1684.7,1220.1 1686.2,1220.1 1687.7,1220.1 1689.2,1220.1 1690.7,1220.1 1692.2,1220.1 1693.7,1220.1 1695.2,1220.1 1696.7,1220.1 1698.2,1220.1 1699.7,1220.1 1701.2,1220.0 1702.7,1220.0 1704.2,1220.0 1705.7,1220.0 1707.2,1220.0 1708.7,1220.0 1710.2,1219.9 1711.7,1219.9 1713.2,1219.9 1714.7,1219.9 1716.2,1219.8 1717.7,1219.8 1719.2,1219.8 1720.7,1219.7 1722.2,1219.7 1723.7,1219.7 1725.2,1219.7 1726.7,1219.6 1728.2,1219.6 1729.7,1219.6 1731.2,1219.5 1732.7,1219.5 1734.2,1219.5 1735.7,1219.4 1737.2,1219.4 1738.7,1219.4 1740.2,1219.4 1741.7,1219.3 1743.2,1219.3 1744.7,1219.3 1746.2,1219.3 1747.7,1219.2 1749.2,1219.2 1750.7,1219.2 1752.2,1219.2 1753.7,1219.1 1755.2,1219.1 1756.7,1219.1 1758.2,1219.1 1759.7,1219.1 1761.2,1219.1 1762.7,1219.1 1764.2,1219.0 1765.7,1219.0 1767.2,1219.0 1768.7,1219.0 1770.2,1219.0 1771.7,1219.0 1773.2,1219.0 1774.7,1219.0 1776.2,1219.0 1777.7,1218.9 1779.2,1218.9 1780.7,1218.9 1782.2,1218.9 1783.7,1218.9 1785.2,1218.9 1786.7,1218.9 1788.2,1218.9 1789.7,1218.9 1791.2,1218.9 1792.7,1218.9 1794.2,1218.9 1795.7,1218.9 1797.2,1218.9 1798.7,1218.8 1800.2,1218.8 1801.7,1218.8 1803.2,1218.8 1804.7,1218.8 1806.2,1218.8 1807.7,1218.8 1809.2,1218.8 1810.7,1218.8 1812.2,1218.8 1813.7,1218.8 1815.2,1218.8 1816.7,1218.8 1818.2,1218.8 1819.7,1218.8 1821.2,1218.8 1822.7,1218.8 1824.2,1218.8 1825.7,1218.8 1827.2,1218.8 1828.7,1218.8 1830.2,1218.7 1831.7,1218.7 1833.2,1218.7 1834.7,1218.7 1836.2,1218.7 1837.7,1218.7 1839.2,1218.7 1840.7,1218.7 1842.2,1218.7 1843.7,1218.7 1845.2,1218.7 1846.7,1218.7 1848.2,1218.7 1849.7,1218.7 1851.2,1218.7 1852.7,1218.7 1854.2,1218.7 1855.7,1218.7 1857.2,1218.7 1858.7,1218.7 1860.2,1218.7 1861.7,1218.7 1863.2,1218.7 1864.7,1218.7 1866.2,1218.6 1867.7,1218.6 1869.2,1218.6 1870.7,1218.6 1872.2,1218.6 1873.7,1218.6 1875.2,1218.6 1876.7,1218.6 1878.2,1218.6 1879.7,1218.6"/>
</g>
<g stroke="#000" stroke-width="2.00" fill="none" stroke-linecap="square">
<rect x="1067.30" y="678.50" width="813.20" height="549.80"/>
<line x1="1067.30" y1="1228.30" x2="1067.30" y2="1238.80" stroke-linecap="butt"/>
<line x1="1168.95" y1="1228.30" x2="1168.95" y2="1233.80" stroke-linecap="butt"/>
<line x1="1270.60" y1="1228.30" x2="1270.60" y2="1238.80" stroke-linecap="butt"/>
<line x1="1372.25" y1="1228.30" x2="1372.25" y2="1233.80" stroke-linecap="butt"/>
<line x1="1473.90" y1="1228.30" x2="1473.90" y2="1238.80" stroke-linecap="butt"/>
<line x1="1575.55" y1="1228.30" x2="1575.55" y2="1233.80" stroke-linecap="butt"/>
<line x1="1677.20" y1="1228.30" x2="1677.20" y2="1238.80" stroke-linecap="butt"/>
<line x1="1778.85" y1="1228.30" x2="1778.85" y2="1233.80" stroke-linecap="butt"/>
<line x1="1880.50" y1="1228.30" x2="1880.50" y2="1238.80" stroke-linecap="butt"/>
<line x1="1067.30" y1="1221.07" x2="1056.80" y2="1221.07" stroke-linecap="butt"/>
<line x1="1067.30" y1="1184.89" x2="1061.80" y2="1184.89" stroke-linecap="butt"/>
<line x1="1067.30" y1="1148.72" x2="1056.80" y2="1148.72" stroke-linecap="butt"/>
<line x1="1067.30" y1="1112.55" x2="1061.80" y2="1112.55" stroke-linecap="butt"/>
<line x1="1067.30" y1="1076.38" x2="1056.80" y2="1076.38" stroke-linecap="butt"/>
<line x1="1067.30" y1="1040.21" x2="1061.80" y2="1040.21" stroke-linecap="butt"/>
<line x1="1067.30" y1="1004.04" x2="1056.80" y2="1004.04" stroke-linecap="butt"/>
<line x1="1067.30" y1="967.87" x2="1061.80" y2="967.87" stroke-linecap="butt"/>
<line x1="1067.30" y1="931.70" x2="1056.80" y2="931.70" stroke-linecap="butt"/>
<line x1="1067.30" y1="895.53" x2="1061.80" y2="895.53" stroke-linecap="butt"/>
<line x1="1067.30" y1="859.36" x2="1056.80" y2="859.36" stroke-linecap="butt"/>
<line x1="1067.30" y1="823.18" x2="1061.80" y2="823.18" stroke-linecap="butt"/>
<line x1="1067.30" y1="787.01" x2="1056.80" y2="787.01" stroke-linecap="butt"/>
<line x1="1067.30" y1="750.84" x2="1061.80" y2="750.84" stroke-linecap="butt"/>
<line x1="1067.30" y1="714.67" x2="1056.80" y2="714.67" stroke-linecap="butt"/>
<line x1="1067.30" y1="678.50" x2="1061.80" y2="678.50" stroke-linecap="butt"/>
</g>
<g font-family='"Liberation Serif", "Times New Roman", serif' font-size="19" fill="#000">
<text x="1067.30" y="1259.30" text-anchor="middle">200</text>
<text x="1270.60" y="1259.30" text-anchor="middle">300</text>
<text x="1473.90" y="1259.30" text-anchor="middle">400</text>
<text x="1677.20" y="1259.30" text-anchor="middle">500</text>
<text x="1880.50" y="1259.30" text-anchor="middle">600</text>
<text x="1050.30" y="1226.07" text-anchor="end">0</text>
<text x="1050.30" y="1153.72" text-anchor="end">100</text>
<text x="1050.30" y="1081.38" text-anchor="end">200</text>
<text x="1050.30" y="1009.04" text-anchor="end">300</text>
<text x="1050.30" y="936.70" text-anchor="end">400</text>
<text x="1050.30" y="864.36" text-anchor="end">500</text>
<text x="1050.30" y="792.01" text-anchor="end">600</text>
<text x="1050.30" y="719.67" text-anchor="end">700</text>
</g>
<text font-family='"Liberation Serif", "Times New Roman", serif' font-size="25" text-anchor="middle" textLength="113.0" lengthAdjust="spacingAndGlyphs" transform="translate(985.80,958.00) rotate(-90)">HRR (W/g)</text>
<text font-family='"Liberation Serif", "Times New Roman", serif' font-size="25" text-anchor="middle" textLength="167.5" lengthAdjust="spacingAndGlyphs" x="1473.50" y="1298.40">Temperature (°C)</text>
<rect x="1526.30" y="681.40" width="349.50" height="141.00" fill="#fff" stroke="#7a7a7a" stroke-width="1.2"/>
<line x1="1537.50" y1="697.00" x2="1591.10" y2="697.00" stroke="#000000" stroke-width="2"/>
<text font-family='"Liberation Serif", "Times New Roman", serif' font-size="23.5" x="1596.60" y="705.20">PLA 0.5% MoS<tspan font-size="14" dy="8.5">2</tspan><tspan dy="-8.5">/Ni</tspan><tspan font-size="14" dy="8.5">2</tspan><tspan dy="-8.5">O</tspan><tspan font-size="14" dy="8.5">3</tspan><tspan dy="-8.5">/CNT</tspan></text>
<line x1="1537.50" y1="734.90" x2="1591.10" y2="734.90" stroke="#ff0000" stroke-width="2"/>
<text font-family='"Liberation Serif", "Times New Roman", serif' font-size="23.5" x="1596.60" y="742.70">PLA 1% MoS<tspan font-size="14" dy="8.5">2</tspan><tspan dy="-8.5">/Ni</tspan><tspan font-size="14" dy="8.5">2</tspan><tspan dy="-8.5">O</tspan><tspan font-size="14" dy="8.5">3</tspan><tspan dy="-8.5">/CNT</tspan></text>
<line x1="1537.50" y1="771.60" x2="1591.10" y2="771.60" stroke="#0000ff" stroke-width="2"/>
<text font-family='"Liberation Serif", "Times New Roman", serif' font-size="23.5" x="1596.60" y="779.40">PLA 2% MoS<tspan font-size="14" dy="8.5">2</tspan><tspan dy="-8.5">/Ni</tspan><tspan font-size="14" dy="8.5">2</tspan><tspan dy="-8.5">O</tspan><tspan font-size="14" dy="8.5">3</tspan><tspan dy="-8.5">/CNT</tspan></text>
<line x1="1537.50" y1="808.30" x2="1591.10" y2="808.30" stroke="#008080" stroke-width="2"/>
<text font-family='"Liberation Serif", "Times New Roman", serif' font-size="23.5" x="1596.60" y="816.10">Pristine PLA</text>
<text font-family='"Liberation Serif", "Times New Roman", serif' font-size="58" font-weight="bold" x="951.80" y="692.60">D</text>
<rect x="950" y="646.6" width="945" height="6" fill="#fff"/>
</svg></body></html>
